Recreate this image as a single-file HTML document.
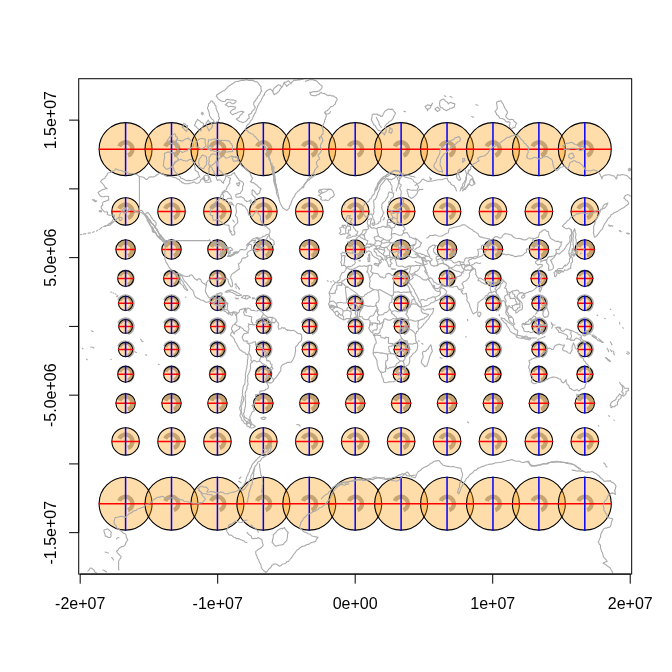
<!DOCTYPE html><html><head><meta charset="utf-8"><title>plot</title><style>html,body{margin:0;padding:0;background:#fff}svg{display:block}</style></head><body><svg width="672" height="672" viewBox="0 0 672 672"><rect width="672" height="672" fill="#fff"/><defs><clipPath id="c"><rect x="78.72" y="78.72" width="552.9599999999999" height="495.36"/></clipPath></defs><g clip-path="url(#c)"><path d="M119.26 500.98A6.88 6.88 0 1 1 127.94 510.12" fill="none" stroke="#aaaaaa" stroke-width="4.3"/><circle cx="125.59" cy="503.66" r="26.48" fill="rgba(255,153,0,0.3333)" stroke="#000" stroke-width="1.1"/><path d="M99.11 503.66H152.07" stroke="#f00" stroke-width="1.5" stroke-linecap="round"/><path d="M125.59 477.18V530.14" stroke="#00f" stroke-width="1.5" stroke-linecap="round"/><path d="M165.18 500.98A6.88 6.88 0 1 1 173.86 510.12" fill="none" stroke="#aaaaaa" stroke-width="4.3"/><circle cx="171.51" cy="503.66" r="26.48" fill="rgba(255,153,0,0.3333)" stroke="#000" stroke-width="1.1"/><path d="M145.03 503.66H197.99" stroke="#f00" stroke-width="1.5" stroke-linecap="round"/><path d="M171.51 477.18V530.14" stroke="#00f" stroke-width="1.5" stroke-linecap="round"/><path d="M211.10 500.98A6.88 6.88 0 1 1 219.78 510.12" fill="none" stroke="#aaaaaa" stroke-width="4.3"/><circle cx="217.43" cy="503.66" r="26.48" fill="rgba(255,153,0,0.3333)" stroke="#000" stroke-width="1.1"/><path d="M190.95 503.66H243.91" stroke="#f00" stroke-width="1.5" stroke-linecap="round"/><path d="M217.43 477.18V530.14" stroke="#00f" stroke-width="1.5" stroke-linecap="round"/><path d="M257.03 500.98A6.88 6.88 0 1 1 265.71 510.12" fill="none" stroke="#aaaaaa" stroke-width="4.3"/><circle cx="263.35" cy="503.66" r="26.48" fill="rgba(255,153,0,0.3333)" stroke="#000" stroke-width="1.1"/><path d="M236.87 503.66H289.84" stroke="#f00" stroke-width="1.5" stroke-linecap="round"/><path d="M263.35 477.18V530.14" stroke="#00f" stroke-width="1.5" stroke-linecap="round"/><path d="M302.95 500.98A6.88 6.88 0 1 1 311.63 510.12" fill="none" stroke="#aaaaaa" stroke-width="4.3"/><circle cx="309.28" cy="503.66" r="26.48" fill="rgba(255,153,0,0.3333)" stroke="#000" stroke-width="1.1"/><path d="M282.80 503.66H335.76" stroke="#f00" stroke-width="1.5" stroke-linecap="round"/><path d="M309.28 477.18V530.14" stroke="#00f" stroke-width="1.5" stroke-linecap="round"/><path d="M348.87 500.98A6.88 6.88 0 1 1 357.55 510.12" fill="none" stroke="#aaaaaa" stroke-width="4.3"/><circle cx="355.20" cy="503.66" r="26.48" fill="rgba(255,153,0,0.3333)" stroke="#000" stroke-width="1.1"/><path d="M328.72 503.66H381.68" stroke="#f00" stroke-width="1.5" stroke-linecap="round"/><path d="M355.20 477.18V530.14" stroke="#00f" stroke-width="1.5" stroke-linecap="round"/><path d="M394.79 500.98A6.88 6.88 0 1 1 403.47 510.12" fill="none" stroke="#aaaaaa" stroke-width="4.3"/><circle cx="401.12" cy="503.66" r="26.48" fill="rgba(255,153,0,0.3333)" stroke="#000" stroke-width="1.1"/><path d="M374.64 503.66H427.60" stroke="#f00" stroke-width="1.5" stroke-linecap="round"/><path d="M401.12 477.18V530.14" stroke="#00f" stroke-width="1.5" stroke-linecap="round"/><path d="M440.72 500.98A6.88 6.88 0 1 1 449.40 510.12" fill="none" stroke="#aaaaaa" stroke-width="4.3"/><circle cx="447.05" cy="503.66" r="26.48" fill="rgba(255,153,0,0.3333)" stroke="#000" stroke-width="1.1"/><path d="M420.56 503.66H473.53" stroke="#f00" stroke-width="1.5" stroke-linecap="round"/><path d="M447.05 477.18V530.14" stroke="#00f" stroke-width="1.5" stroke-linecap="round"/><path d="M486.64 500.98A6.88 6.88 0 1 1 495.32 510.12" fill="none" stroke="#aaaaaa" stroke-width="4.3"/><circle cx="492.97" cy="503.66" r="26.48" fill="rgba(255,153,0,0.3333)" stroke="#000" stroke-width="1.1"/><path d="M466.49 503.66H519.45" stroke="#f00" stroke-width="1.5" stroke-linecap="round"/><path d="M492.97 477.18V530.14" stroke="#00f" stroke-width="1.5" stroke-linecap="round"/><path d="M532.56 500.98A6.88 6.88 0 1 1 541.24 510.12" fill="none" stroke="#aaaaaa" stroke-width="4.3"/><circle cx="538.89" cy="503.66" r="26.48" fill="rgba(255,153,0,0.3333)" stroke="#000" stroke-width="1.1"/><path d="M512.41 503.66H565.37" stroke="#f00" stroke-width="1.5" stroke-linecap="round"/><path d="M538.89 477.18V530.14" stroke="#00f" stroke-width="1.5" stroke-linecap="round"/><path d="M578.48 500.98A6.88 6.88 0 1 1 587.16 510.12" fill="none" stroke="#aaaaaa" stroke-width="4.3"/><circle cx="584.81" cy="503.66" r="26.48" fill="rgba(255,153,0,0.3333)" stroke="#000" stroke-width="1.1"/><path d="M558.33 503.66H611.29" stroke="#f00" stroke-width="1.5" stroke-linecap="round"/><path d="M584.81 477.18V530.14" stroke="#00f" stroke-width="1.5" stroke-linecap="round"/><path d="M119.26 438.71A6.88 6.88 0 1 1 127.94 447.86" fill="none" stroke="#aaaaaa" stroke-width="4.3"/><circle cx="125.59" cy="441.40" r="13.72" fill="rgba(255,153,0,0.3333)" stroke="#000" stroke-width="1.1"/><path d="M111.87 441.40H139.30" stroke="#f00" stroke-width="1.5" stroke-linecap="round"/><path d="M125.59 427.68V455.11" stroke="#00f" stroke-width="1.5" stroke-linecap="round"/><path d="M165.18 438.71A6.88 6.88 0 1 1 173.86 447.86" fill="none" stroke="#aaaaaa" stroke-width="4.3"/><circle cx="171.51" cy="441.40" r="13.72" fill="rgba(255,153,0,0.3333)" stroke="#000" stroke-width="1.1"/><path d="M157.79 441.40H185.23" stroke="#f00" stroke-width="1.5" stroke-linecap="round"/><path d="M171.51 427.68V455.11" stroke="#00f" stroke-width="1.5" stroke-linecap="round"/><path d="M211.10 438.71A6.88 6.88 0 1 1 219.78 447.86" fill="none" stroke="#aaaaaa" stroke-width="4.3"/><circle cx="217.43" cy="441.40" r="13.72" fill="rgba(255,153,0,0.3333)" stroke="#000" stroke-width="1.1"/><path d="M203.72 441.40H231.15" stroke="#f00" stroke-width="1.5" stroke-linecap="round"/><path d="M217.43 427.68V455.11" stroke="#00f" stroke-width="1.5" stroke-linecap="round"/><path d="M257.03 438.71A6.88 6.88 0 1 1 265.71 447.86" fill="none" stroke="#aaaaaa" stroke-width="4.3"/><circle cx="263.35" cy="441.40" r="13.72" fill="rgba(255,153,0,0.3333)" stroke="#000" stroke-width="1.1"/><path d="M249.64 441.40H277.07" stroke="#f00" stroke-width="1.5" stroke-linecap="round"/><path d="M263.35 427.68V455.11" stroke="#00f" stroke-width="1.5" stroke-linecap="round"/><path d="M302.95 438.71A6.88 6.88 0 1 1 311.63 447.86" fill="none" stroke="#aaaaaa" stroke-width="4.3"/><circle cx="309.28" cy="441.40" r="13.72" fill="rgba(255,153,0,0.3333)" stroke="#000" stroke-width="1.1"/><path d="M295.56 441.40H322.99" stroke="#f00" stroke-width="1.5" stroke-linecap="round"/><path d="M309.28 427.68V455.11" stroke="#00f" stroke-width="1.5" stroke-linecap="round"/><path d="M348.87 438.71A6.88 6.88 0 1 1 357.55 447.86" fill="none" stroke="#aaaaaa" stroke-width="4.3"/><circle cx="355.20" cy="441.40" r="13.72" fill="rgba(255,153,0,0.3333)" stroke="#000" stroke-width="1.1"/><path d="M341.48 441.40H368.92" stroke="#f00" stroke-width="1.5" stroke-linecap="round"/><path d="M355.20 427.68V455.11" stroke="#00f" stroke-width="1.5" stroke-linecap="round"/><path d="M394.79 438.71A6.88 6.88 0 1 1 403.47 447.86" fill="none" stroke="#aaaaaa" stroke-width="4.3"/><circle cx="401.12" cy="441.40" r="13.72" fill="rgba(255,153,0,0.3333)" stroke="#000" stroke-width="1.1"/><path d="M387.41 441.40H414.84" stroke="#f00" stroke-width="1.5" stroke-linecap="round"/><path d="M401.12 427.68V455.11" stroke="#00f" stroke-width="1.5" stroke-linecap="round"/><path d="M440.72 438.71A6.88 6.88 0 1 1 449.40 447.86" fill="none" stroke="#aaaaaa" stroke-width="4.3"/><circle cx="447.05" cy="441.40" r="13.72" fill="rgba(255,153,0,0.3333)" stroke="#000" stroke-width="1.1"/><path d="M433.33 441.40H460.76" stroke="#f00" stroke-width="1.5" stroke-linecap="round"/><path d="M447.05 427.68V455.11" stroke="#00f" stroke-width="1.5" stroke-linecap="round"/><path d="M486.64 438.71A6.88 6.88 0 1 1 495.32 447.86" fill="none" stroke="#aaaaaa" stroke-width="4.3"/><circle cx="492.97" cy="441.40" r="13.72" fill="rgba(255,153,0,0.3333)" stroke="#000" stroke-width="1.1"/><path d="M479.25 441.40H506.68" stroke="#f00" stroke-width="1.5" stroke-linecap="round"/><path d="M492.97 427.68V455.11" stroke="#00f" stroke-width="1.5" stroke-linecap="round"/><path d="M532.56 438.71A6.88 6.88 0 1 1 541.24 447.86" fill="none" stroke="#aaaaaa" stroke-width="4.3"/><circle cx="538.89" cy="441.40" r="13.72" fill="rgba(255,153,0,0.3333)" stroke="#000" stroke-width="1.1"/><path d="M525.17 441.40H552.61" stroke="#f00" stroke-width="1.5" stroke-linecap="round"/><path d="M538.89 427.68V455.11" stroke="#00f" stroke-width="1.5" stroke-linecap="round"/><path d="M578.48 438.71A6.88 6.88 0 1 1 587.16 447.86" fill="none" stroke="#aaaaaa" stroke-width="4.3"/><circle cx="584.81" cy="441.40" r="13.72" fill="rgba(255,153,0,0.3333)" stroke="#000" stroke-width="1.1"/><path d="M571.10 441.40H598.53" stroke="#f00" stroke-width="1.5" stroke-linecap="round"/><path d="M584.81 427.68V455.11" stroke="#00f" stroke-width="1.5" stroke-linecap="round"/><path d="M119.26 400.60A6.88 6.88 0 1 1 127.94 409.75" fill="none" stroke="#aaaaaa" stroke-width="4.3"/><circle cx="125.59" cy="403.29" r="9.71" fill="rgba(255,153,0,0.3333)" stroke="#000" stroke-width="1.1"/><path d="M115.88 403.29H135.29" stroke="#f00" stroke-width="1.5" stroke-linecap="round"/><path d="M125.59 393.58V412.99" stroke="#00f" stroke-width="1.5" stroke-linecap="round"/><path d="M165.18 400.60A6.88 6.88 0 1 1 173.86 409.75" fill="none" stroke="#aaaaaa" stroke-width="4.3"/><circle cx="171.51" cy="403.29" r="9.71" fill="rgba(255,153,0,0.3333)" stroke="#000" stroke-width="1.1"/><path d="M161.80 403.29H181.22" stroke="#f00" stroke-width="1.5" stroke-linecap="round"/><path d="M171.51 393.58V412.99" stroke="#00f" stroke-width="1.5" stroke-linecap="round"/><path d="M211.10 400.60A6.88 6.88 0 1 1 219.78 409.75" fill="none" stroke="#aaaaaa" stroke-width="4.3"/><circle cx="217.43" cy="403.29" r="9.71" fill="rgba(255,153,0,0.3333)" stroke="#000" stroke-width="1.1"/><path d="M207.72 403.29H227.14" stroke="#f00" stroke-width="1.5" stroke-linecap="round"/><path d="M217.43 393.58V412.99" stroke="#00f" stroke-width="1.5" stroke-linecap="round"/><path d="M257.03 400.60A6.88 6.88 0 1 1 265.71 409.75" fill="none" stroke="#aaaaaa" stroke-width="4.3"/><circle cx="263.35" cy="403.29" r="9.71" fill="rgba(255,153,0,0.3333)" stroke="#000" stroke-width="1.1"/><path d="M253.65 403.29H273.06" stroke="#f00" stroke-width="1.5" stroke-linecap="round"/><path d="M263.35 393.58V412.99" stroke="#00f" stroke-width="1.5" stroke-linecap="round"/><path d="M302.95 400.60A6.88 6.88 0 1 1 311.63 409.75" fill="none" stroke="#aaaaaa" stroke-width="4.3"/><circle cx="309.28" cy="403.29" r="9.71" fill="rgba(255,153,0,0.3333)" stroke="#000" stroke-width="1.1"/><path d="M299.57 403.29H318.98" stroke="#f00" stroke-width="1.5" stroke-linecap="round"/><path d="M309.28 393.58V412.99" stroke="#00f" stroke-width="1.5" stroke-linecap="round"/><path d="M348.87 400.60A6.88 6.88 0 1 1 357.55 409.75" fill="none" stroke="#aaaaaa" stroke-width="4.3"/><circle cx="355.20" cy="403.29" r="9.71" fill="rgba(255,153,0,0.3333)" stroke="#000" stroke-width="1.1"/><path d="M345.49 403.29H364.91" stroke="#f00" stroke-width="1.5" stroke-linecap="round"/><path d="M355.20 393.58V412.99" stroke="#00f" stroke-width="1.5" stroke-linecap="round"/><path d="M394.79 400.60A6.88 6.88 0 1 1 403.47 409.75" fill="none" stroke="#aaaaaa" stroke-width="4.3"/><circle cx="401.12" cy="403.29" r="9.71" fill="rgba(255,153,0,0.3333)" stroke="#000" stroke-width="1.1"/><path d="M391.42 403.29H410.83" stroke="#f00" stroke-width="1.5" stroke-linecap="round"/><path d="M401.12 393.58V412.99" stroke="#00f" stroke-width="1.5" stroke-linecap="round"/><path d="M440.72 400.60A6.88 6.88 0 1 1 449.40 409.75" fill="none" stroke="#aaaaaa" stroke-width="4.3"/><circle cx="447.05" cy="403.29" r="9.71" fill="rgba(255,153,0,0.3333)" stroke="#000" stroke-width="1.1"/><path d="M437.34 403.29H456.75" stroke="#f00" stroke-width="1.5" stroke-linecap="round"/><path d="M447.05 393.58V412.99" stroke="#00f" stroke-width="1.5" stroke-linecap="round"/><path d="M486.64 400.60A6.88 6.88 0 1 1 495.32 409.75" fill="none" stroke="#aaaaaa" stroke-width="4.3"/><circle cx="492.97" cy="403.29" r="9.71" fill="rgba(255,153,0,0.3333)" stroke="#000" stroke-width="1.1"/><path d="M483.26 403.29H502.68" stroke="#f00" stroke-width="1.5" stroke-linecap="round"/><path d="M492.97 393.58V412.99" stroke="#00f" stroke-width="1.5" stroke-linecap="round"/><path d="M532.56 400.60A6.88 6.88 0 1 1 541.24 409.75" fill="none" stroke="#aaaaaa" stroke-width="4.3"/><circle cx="538.89" cy="403.29" r="9.71" fill="rgba(255,153,0,0.3333)" stroke="#000" stroke-width="1.1"/><path d="M529.18 403.29H548.60" stroke="#f00" stroke-width="1.5" stroke-linecap="round"/><path d="M538.89 393.58V412.99" stroke="#00f" stroke-width="1.5" stroke-linecap="round"/><path d="M578.48 400.60A6.88 6.88 0 1 1 587.16 409.75" fill="none" stroke="#aaaaaa" stroke-width="4.3"/><circle cx="584.81" cy="403.29" r="9.71" fill="rgba(255,153,0,0.3333)" stroke="#000" stroke-width="1.1"/><path d="M575.11 403.29H594.52" stroke="#f00" stroke-width="1.5" stroke-linecap="round"/><path d="M584.81 393.58V412.99" stroke="#00f" stroke-width="1.5" stroke-linecap="round"/><path d="M119.26 371.60A6.88 6.88 0 1 1 127.94 380.74" fill="none" stroke="#aaaaaa" stroke-width="4.3"/><circle cx="125.59" cy="374.28" r="7.93" fill="rgba(255,153,0,0.3333)" stroke="#000" stroke-width="1.1"/><path d="M117.65 374.28H133.52" stroke="#f00" stroke-width="1.5" stroke-linecap="round"/><path d="M125.59 366.35V382.22" stroke="#00f" stroke-width="1.5" stroke-linecap="round"/><path d="M165.18 371.60A6.88 6.88 0 1 1 173.86 380.74" fill="none" stroke="#aaaaaa" stroke-width="4.3"/><circle cx="171.51" cy="374.28" r="7.93" fill="rgba(255,153,0,0.3333)" stroke="#000" stroke-width="1.1"/><path d="M163.58 374.28H179.44" stroke="#f00" stroke-width="1.5" stroke-linecap="round"/><path d="M171.51 366.35V382.22" stroke="#00f" stroke-width="1.5" stroke-linecap="round"/><path d="M211.10 371.60A6.88 6.88 0 1 1 219.78 380.74" fill="none" stroke="#aaaaaa" stroke-width="4.3"/><circle cx="217.43" cy="374.28" r="7.93" fill="rgba(255,153,0,0.3333)" stroke="#000" stroke-width="1.1"/><path d="M209.50 374.28H225.36" stroke="#f00" stroke-width="1.5" stroke-linecap="round"/><path d="M217.43 366.35V382.22" stroke="#00f" stroke-width="1.5" stroke-linecap="round"/><path d="M257.03 371.60A6.88 6.88 0 1 1 265.71 380.74" fill="none" stroke="#aaaaaa" stroke-width="4.3"/><circle cx="263.35" cy="374.28" r="7.93" fill="rgba(255,153,0,0.3333)" stroke="#000" stroke-width="1.1"/><path d="M255.42 374.28H271.29" stroke="#f00" stroke-width="1.5" stroke-linecap="round"/><path d="M263.35 366.35V382.22" stroke="#00f" stroke-width="1.5" stroke-linecap="round"/><path d="M302.95 371.60A6.88 6.88 0 1 1 311.63 380.74" fill="none" stroke="#aaaaaa" stroke-width="4.3"/><circle cx="309.28" cy="374.28" r="7.93" fill="rgba(255,153,0,0.3333)" stroke="#000" stroke-width="1.1"/><path d="M301.34 374.28H317.21" stroke="#f00" stroke-width="1.5" stroke-linecap="round"/><path d="M309.28 366.35V382.22" stroke="#00f" stroke-width="1.5" stroke-linecap="round"/><path d="M348.87 371.60A6.88 6.88 0 1 1 357.55 380.74" fill="none" stroke="#aaaaaa" stroke-width="4.3"/><circle cx="355.20" cy="374.28" r="7.93" fill="rgba(255,153,0,0.3333)" stroke="#000" stroke-width="1.1"/><path d="M347.27 374.28H363.13" stroke="#f00" stroke-width="1.5" stroke-linecap="round"/><path d="M355.20 366.35V382.22" stroke="#00f" stroke-width="1.5" stroke-linecap="round"/><path d="M394.79 371.60A6.88 6.88 0 1 1 403.47 380.74" fill="none" stroke="#aaaaaa" stroke-width="4.3"/><circle cx="401.12" cy="374.28" r="7.93" fill="rgba(255,153,0,0.3333)" stroke="#000" stroke-width="1.1"/><path d="M393.19 374.28H409.06" stroke="#f00" stroke-width="1.5" stroke-linecap="round"/><path d="M401.12 366.35V382.22" stroke="#00f" stroke-width="1.5" stroke-linecap="round"/><path d="M440.72 371.60A6.88 6.88 0 1 1 449.40 380.74" fill="none" stroke="#aaaaaa" stroke-width="4.3"/><circle cx="447.05" cy="374.28" r="7.93" fill="rgba(255,153,0,0.3333)" stroke="#000" stroke-width="1.1"/><path d="M439.11 374.28H454.98" stroke="#f00" stroke-width="1.5" stroke-linecap="round"/><path d="M447.05 366.35V382.22" stroke="#00f" stroke-width="1.5" stroke-linecap="round"/><path d="M486.64 371.60A6.88 6.88 0 1 1 495.32 380.74" fill="none" stroke="#aaaaaa" stroke-width="4.3"/><circle cx="492.97" cy="374.28" r="7.93" fill="rgba(255,153,0,0.3333)" stroke="#000" stroke-width="1.1"/><path d="M485.04 374.28H500.90" stroke="#f00" stroke-width="1.5" stroke-linecap="round"/><path d="M492.97 366.35V382.22" stroke="#00f" stroke-width="1.5" stroke-linecap="round"/><path d="M532.56 371.60A6.88 6.88 0 1 1 541.24 380.74" fill="none" stroke="#aaaaaa" stroke-width="4.3"/><circle cx="538.89" cy="374.28" r="7.93" fill="rgba(255,153,0,0.3333)" stroke="#000" stroke-width="1.1"/><path d="M530.96 374.28H546.82" stroke="#f00" stroke-width="1.5" stroke-linecap="round"/><path d="M538.89 366.35V382.22" stroke="#00f" stroke-width="1.5" stroke-linecap="round"/><path d="M578.48 371.60A6.88 6.88 0 1 1 587.16 380.74" fill="none" stroke="#aaaaaa" stroke-width="4.3"/><circle cx="584.81" cy="374.28" r="7.93" fill="rgba(255,153,0,0.3333)" stroke="#000" stroke-width="1.1"/><path d="M576.88 374.28H592.75" stroke="#f00" stroke-width="1.5" stroke-linecap="round"/><path d="M584.81 366.35V382.22" stroke="#00f" stroke-width="1.5" stroke-linecap="round"/><path d="M119.26 346.79A6.88 6.88 0 1 1 127.94 355.94" fill="none" stroke="#aaaaaa" stroke-width="4.3"/><circle cx="125.59" cy="349.48" r="7.12" fill="rgba(255,153,0,0.3333)" stroke="#000" stroke-width="1.1"/><path d="M118.47 349.48H132.70" stroke="#f00" stroke-width="1.5" stroke-linecap="round"/><path d="M125.59 342.36V356.59" stroke="#00f" stroke-width="1.5" stroke-linecap="round"/><path d="M165.18 346.79A6.88 6.88 0 1 1 173.86 355.94" fill="none" stroke="#aaaaaa" stroke-width="4.3"/><circle cx="171.51" cy="349.48" r="7.12" fill="rgba(255,153,0,0.3333)" stroke="#000" stroke-width="1.1"/><path d="M164.39 349.48H178.63" stroke="#f00" stroke-width="1.5" stroke-linecap="round"/><path d="M171.51 342.36V356.59" stroke="#00f" stroke-width="1.5" stroke-linecap="round"/><path d="M211.10 346.79A6.88 6.88 0 1 1 219.78 355.94" fill="none" stroke="#aaaaaa" stroke-width="4.3"/><circle cx="217.43" cy="349.48" r="7.12" fill="rgba(255,153,0,0.3333)" stroke="#000" stroke-width="1.1"/><path d="M210.32 349.48H224.55" stroke="#f00" stroke-width="1.5" stroke-linecap="round"/><path d="M217.43 342.36V356.59" stroke="#00f" stroke-width="1.5" stroke-linecap="round"/><path d="M257.03 346.79A6.88 6.88 0 1 1 265.71 355.94" fill="none" stroke="#aaaaaa" stroke-width="4.3"/><circle cx="263.35" cy="349.48" r="7.12" fill="rgba(255,153,0,0.3333)" stroke="#000" stroke-width="1.1"/><path d="M256.24 349.48H270.47" stroke="#f00" stroke-width="1.5" stroke-linecap="round"/><path d="M263.35 342.36V356.59" stroke="#00f" stroke-width="1.5" stroke-linecap="round"/><path d="M302.95 346.79A6.88 6.88 0 1 1 311.63 355.94" fill="none" stroke="#aaaaaa" stroke-width="4.3"/><circle cx="309.28" cy="349.48" r="7.12" fill="rgba(255,153,0,0.3333)" stroke="#000" stroke-width="1.1"/><path d="M302.16 349.48H316.39" stroke="#f00" stroke-width="1.5" stroke-linecap="round"/><path d="M309.28 342.36V356.59" stroke="#00f" stroke-width="1.5" stroke-linecap="round"/><path d="M348.87 346.79A6.88 6.88 0 1 1 357.55 355.94" fill="none" stroke="#aaaaaa" stroke-width="4.3"/><circle cx="355.20" cy="349.48" r="7.12" fill="rgba(255,153,0,0.3333)" stroke="#000" stroke-width="1.1"/><path d="M348.08 349.48H362.32" stroke="#f00" stroke-width="1.5" stroke-linecap="round"/><path d="M355.20 342.36V356.59" stroke="#00f" stroke-width="1.5" stroke-linecap="round"/><path d="M394.79 346.79A6.88 6.88 0 1 1 403.47 355.94" fill="none" stroke="#aaaaaa" stroke-width="4.3"/><circle cx="401.12" cy="349.48" r="7.12" fill="rgba(255,153,0,0.3333)" stroke="#000" stroke-width="1.1"/><path d="M394.01 349.48H408.24" stroke="#f00" stroke-width="1.5" stroke-linecap="round"/><path d="M401.12 342.36V356.59" stroke="#00f" stroke-width="1.5" stroke-linecap="round"/><path d="M440.72 346.79A6.88 6.88 0 1 1 449.40 355.94" fill="none" stroke="#aaaaaa" stroke-width="4.3"/><circle cx="447.05" cy="349.48" r="7.12" fill="rgba(255,153,0,0.3333)" stroke="#000" stroke-width="1.1"/><path d="M439.93 349.48H454.16" stroke="#f00" stroke-width="1.5" stroke-linecap="round"/><path d="M447.05 342.36V356.59" stroke="#00f" stroke-width="1.5" stroke-linecap="round"/><path d="M486.64 346.79A6.88 6.88 0 1 1 495.32 355.94" fill="none" stroke="#aaaaaa" stroke-width="4.3"/><circle cx="492.97" cy="349.48" r="7.12" fill="rgba(255,153,0,0.3333)" stroke="#000" stroke-width="1.1"/><path d="M485.85 349.48H500.08" stroke="#f00" stroke-width="1.5" stroke-linecap="round"/><path d="M492.97 342.36V356.59" stroke="#00f" stroke-width="1.5" stroke-linecap="round"/><path d="M532.56 346.79A6.88 6.88 0 1 1 541.24 355.94" fill="none" stroke="#aaaaaa" stroke-width="4.3"/><circle cx="538.89" cy="349.48" r="7.12" fill="rgba(255,153,0,0.3333)" stroke="#000" stroke-width="1.1"/><path d="M531.77 349.48H546.01" stroke="#f00" stroke-width="1.5" stroke-linecap="round"/><path d="M538.89 342.36V356.59" stroke="#00f" stroke-width="1.5" stroke-linecap="round"/><path d="M578.48 346.79A6.88 6.88 0 1 1 587.16 355.94" fill="none" stroke="#aaaaaa" stroke-width="4.3"/><circle cx="584.81" cy="349.48" r="7.12" fill="rgba(255,153,0,0.3333)" stroke="#000" stroke-width="1.1"/><path d="M577.70 349.48H591.93" stroke="#f00" stroke-width="1.5" stroke-linecap="round"/><path d="M584.81 342.36V356.59" stroke="#00f" stroke-width="1.5" stroke-linecap="round"/><path d="M119.26 323.71A6.88 6.88 0 1 1 127.94 332.86" fill="none" stroke="#aaaaaa" stroke-width="4.3"/><circle cx="125.59" cy="326.40" r="6.88" fill="rgba(255,153,0,0.3333)" stroke="#000" stroke-width="1.1"/><path d="M118.71 326.40H132.46" stroke="#f00" stroke-width="1.5" stroke-linecap="round"/><path d="M125.59 319.52V333.28" stroke="#00f" stroke-width="1.5" stroke-linecap="round"/><path d="M165.18 323.71A6.88 6.88 0 1 1 173.86 332.86" fill="none" stroke="#aaaaaa" stroke-width="4.3"/><circle cx="171.51" cy="326.40" r="6.88" fill="rgba(255,153,0,0.3333)" stroke="#000" stroke-width="1.1"/><path d="M164.63 326.40H178.38" stroke="#f00" stroke-width="1.5" stroke-linecap="round"/><path d="M171.51 319.52V333.28" stroke="#00f" stroke-width="1.5" stroke-linecap="round"/><path d="M211.10 323.71A6.88 6.88 0 1 1 219.78 332.86" fill="none" stroke="#aaaaaa" stroke-width="4.3"/><circle cx="217.43" cy="326.40" r="6.88" fill="rgba(255,153,0,0.3333)" stroke="#000" stroke-width="1.1"/><path d="M210.56 326.40H224.31" stroke="#f00" stroke-width="1.5" stroke-linecap="round"/><path d="M217.43 319.52V333.28" stroke="#00f" stroke-width="1.5" stroke-linecap="round"/><path d="M257.03 323.71A6.88 6.88 0 1 1 265.71 332.86" fill="none" stroke="#aaaaaa" stroke-width="4.3"/><circle cx="263.35" cy="326.40" r="6.88" fill="rgba(255,153,0,0.3333)" stroke="#000" stroke-width="1.1"/><path d="M256.48 326.40H270.23" stroke="#f00" stroke-width="1.5" stroke-linecap="round"/><path d="M263.35 319.52V333.28" stroke="#00f" stroke-width="1.5" stroke-linecap="round"/><path d="M302.95 323.71A6.88 6.88 0 1 1 311.63 332.86" fill="none" stroke="#aaaaaa" stroke-width="4.3"/><circle cx="309.28" cy="326.40" r="6.88" fill="rgba(255,153,0,0.3333)" stroke="#000" stroke-width="1.1"/><path d="M302.40 326.40H316.15" stroke="#f00" stroke-width="1.5" stroke-linecap="round"/><path d="M309.28 319.52V333.28" stroke="#00f" stroke-width="1.5" stroke-linecap="round"/><path d="M348.87 323.71A6.88 6.88 0 1 1 357.55 332.86" fill="none" stroke="#aaaaaa" stroke-width="4.3"/><circle cx="355.20" cy="326.40" r="6.88" fill="rgba(255,153,0,0.3333)" stroke="#000" stroke-width="1.1"/><path d="M348.32 326.40H362.08" stroke="#f00" stroke-width="1.5" stroke-linecap="round"/><path d="M355.20 319.52V333.28" stroke="#00f" stroke-width="1.5" stroke-linecap="round"/><path d="M394.79 323.71A6.88 6.88 0 1 1 403.47 332.86" fill="none" stroke="#aaaaaa" stroke-width="4.3"/><circle cx="401.12" cy="326.40" r="6.88" fill="rgba(255,153,0,0.3333)" stroke="#000" stroke-width="1.1"/><path d="M394.25 326.40H408.00" stroke="#f00" stroke-width="1.5" stroke-linecap="round"/><path d="M401.12 319.52V333.28" stroke="#00f" stroke-width="1.5" stroke-linecap="round"/><path d="M440.72 323.71A6.88 6.88 0 1 1 449.40 332.86" fill="none" stroke="#aaaaaa" stroke-width="4.3"/><circle cx="447.05" cy="326.40" r="6.88" fill="rgba(255,153,0,0.3333)" stroke="#000" stroke-width="1.1"/><path d="M440.17 326.40H453.92" stroke="#f00" stroke-width="1.5" stroke-linecap="round"/><path d="M447.05 319.52V333.28" stroke="#00f" stroke-width="1.5" stroke-linecap="round"/><path d="M486.64 323.71A6.88 6.88 0 1 1 495.32 332.86" fill="none" stroke="#aaaaaa" stroke-width="4.3"/><circle cx="492.97" cy="326.40" r="6.88" fill="rgba(255,153,0,0.3333)" stroke="#000" stroke-width="1.1"/><path d="M486.09 326.40H499.84" stroke="#f00" stroke-width="1.5" stroke-linecap="round"/><path d="M492.97 319.52V333.28" stroke="#00f" stroke-width="1.5" stroke-linecap="round"/><path d="M532.56 323.71A6.88 6.88 0 1 1 541.24 332.86" fill="none" stroke="#aaaaaa" stroke-width="4.3"/><circle cx="538.89" cy="326.40" r="6.88" fill="rgba(255,153,0,0.3333)" stroke="#000" stroke-width="1.1"/><path d="M532.02 326.40H545.77" stroke="#f00" stroke-width="1.5" stroke-linecap="round"/><path d="M538.89 319.52V333.28" stroke="#00f" stroke-width="1.5" stroke-linecap="round"/><path d="M578.48 323.71A6.88 6.88 0 1 1 587.16 332.86" fill="none" stroke="#aaaaaa" stroke-width="4.3"/><circle cx="584.81" cy="326.40" r="6.88" fill="rgba(255,153,0,0.3333)" stroke="#000" stroke-width="1.1"/><path d="M577.94 326.40H591.69" stroke="#f00" stroke-width="1.5" stroke-linecap="round"/><path d="M584.81 319.52V333.28" stroke="#00f" stroke-width="1.5" stroke-linecap="round"/><path d="M119.26 300.64A6.88 6.88 0 1 1 127.94 309.78" fill="none" stroke="#aaaaaa" stroke-width="4.3"/><circle cx="125.59" cy="303.32" r="7.12" fill="rgba(255,153,0,0.3333)" stroke="#000" stroke-width="1.1"/><path d="M118.47 303.32H132.70" stroke="#f00" stroke-width="1.5" stroke-linecap="round"/><path d="M125.59 296.21V310.44" stroke="#00f" stroke-width="1.5" stroke-linecap="round"/><path d="M165.18 300.64A6.88 6.88 0 1 1 173.86 309.78" fill="none" stroke="#aaaaaa" stroke-width="4.3"/><circle cx="171.51" cy="303.32" r="7.12" fill="rgba(255,153,0,0.3333)" stroke="#000" stroke-width="1.1"/><path d="M164.39 303.32H178.63" stroke="#f00" stroke-width="1.5" stroke-linecap="round"/><path d="M171.51 296.21V310.44" stroke="#00f" stroke-width="1.5" stroke-linecap="round"/><path d="M211.10 300.64A6.88 6.88 0 1 1 219.78 309.78" fill="none" stroke="#aaaaaa" stroke-width="4.3"/><circle cx="217.43" cy="303.32" r="7.12" fill="rgba(255,153,0,0.3333)" stroke="#000" stroke-width="1.1"/><path d="M210.32 303.32H224.55" stroke="#f00" stroke-width="1.5" stroke-linecap="round"/><path d="M217.43 296.21V310.44" stroke="#00f" stroke-width="1.5" stroke-linecap="round"/><path d="M257.03 300.64A6.88 6.88 0 1 1 265.71 309.78" fill="none" stroke="#aaaaaa" stroke-width="4.3"/><circle cx="263.35" cy="303.32" r="7.12" fill="rgba(255,153,0,0.3333)" stroke="#000" stroke-width="1.1"/><path d="M256.24 303.32H270.47" stroke="#f00" stroke-width="1.5" stroke-linecap="round"/><path d="M263.35 296.21V310.44" stroke="#00f" stroke-width="1.5" stroke-linecap="round"/><path d="M302.95 300.64A6.88 6.88 0 1 1 311.63 309.78" fill="none" stroke="#aaaaaa" stroke-width="4.3"/><circle cx="309.28" cy="303.32" r="7.12" fill="rgba(255,153,0,0.3333)" stroke="#000" stroke-width="1.1"/><path d="M302.16 303.32H316.39" stroke="#f00" stroke-width="1.5" stroke-linecap="round"/><path d="M309.28 296.21V310.44" stroke="#00f" stroke-width="1.5" stroke-linecap="round"/><path d="M348.87 300.64A6.88 6.88 0 1 1 357.55 309.78" fill="none" stroke="#aaaaaa" stroke-width="4.3"/><circle cx="355.20" cy="303.32" r="7.12" fill="rgba(255,153,0,0.3333)" stroke="#000" stroke-width="1.1"/><path d="M348.08 303.32H362.32" stroke="#f00" stroke-width="1.5" stroke-linecap="round"/><path d="M355.20 296.21V310.44" stroke="#00f" stroke-width="1.5" stroke-linecap="round"/><path d="M394.79 300.64A6.88 6.88 0 1 1 403.47 309.78" fill="none" stroke="#aaaaaa" stroke-width="4.3"/><circle cx="401.12" cy="303.32" r="7.12" fill="rgba(255,153,0,0.3333)" stroke="#000" stroke-width="1.1"/><path d="M394.01 303.32H408.24" stroke="#f00" stroke-width="1.5" stroke-linecap="round"/><path d="M401.12 296.21V310.44" stroke="#00f" stroke-width="1.5" stroke-linecap="round"/><path d="M440.72 300.64A6.88 6.88 0 1 1 449.40 309.78" fill="none" stroke="#aaaaaa" stroke-width="4.3"/><circle cx="447.05" cy="303.32" r="7.12" fill="rgba(255,153,0,0.3333)" stroke="#000" stroke-width="1.1"/><path d="M439.93 303.32H454.16" stroke="#f00" stroke-width="1.5" stroke-linecap="round"/><path d="M447.05 296.21V310.44" stroke="#00f" stroke-width="1.5" stroke-linecap="round"/><path d="M486.64 300.64A6.88 6.88 0 1 1 495.32 309.78" fill="none" stroke="#aaaaaa" stroke-width="4.3"/><circle cx="492.97" cy="303.32" r="7.12" fill="rgba(255,153,0,0.3333)" stroke="#000" stroke-width="1.1"/><path d="M485.85 303.32H500.08" stroke="#f00" stroke-width="1.5" stroke-linecap="round"/><path d="M492.97 296.21V310.44" stroke="#00f" stroke-width="1.5" stroke-linecap="round"/><path d="M532.56 300.64A6.88 6.88 0 1 1 541.24 309.78" fill="none" stroke="#aaaaaa" stroke-width="4.3"/><circle cx="538.89" cy="303.32" r="7.12" fill="rgba(255,153,0,0.3333)" stroke="#000" stroke-width="1.1"/><path d="M531.77 303.32H546.01" stroke="#f00" stroke-width="1.5" stroke-linecap="round"/><path d="M538.89 296.21V310.44" stroke="#00f" stroke-width="1.5" stroke-linecap="round"/><path d="M578.48 300.64A6.88 6.88 0 1 1 587.16 309.78" fill="none" stroke="#aaaaaa" stroke-width="4.3"/><circle cx="584.81" cy="303.32" r="7.12" fill="rgba(255,153,0,0.3333)" stroke="#000" stroke-width="1.1"/><path d="M577.70 303.32H591.93" stroke="#f00" stroke-width="1.5" stroke-linecap="round"/><path d="M584.81 296.21V310.44" stroke="#00f" stroke-width="1.5" stroke-linecap="round"/><path d="M119.26 275.83A6.88 6.88 0 1 1 127.94 284.98" fill="none" stroke="#aaaaaa" stroke-width="4.3"/><circle cx="125.59" cy="278.52" r="7.93" fill="rgba(255,153,0,0.3333)" stroke="#000" stroke-width="1.1"/><path d="M117.65 278.52H133.52" stroke="#f00" stroke-width="1.5" stroke-linecap="round"/><path d="M125.59 270.58V286.45" stroke="#00f" stroke-width="1.5" stroke-linecap="round"/><path d="M165.18 275.83A6.88 6.88 0 1 1 173.86 284.98" fill="none" stroke="#aaaaaa" stroke-width="4.3"/><circle cx="171.51" cy="278.52" r="7.93" fill="rgba(255,153,0,0.3333)" stroke="#000" stroke-width="1.1"/><path d="M163.58 278.52H179.44" stroke="#f00" stroke-width="1.5" stroke-linecap="round"/><path d="M171.51 270.58V286.45" stroke="#00f" stroke-width="1.5" stroke-linecap="round"/><path d="M211.10 275.83A6.88 6.88 0 1 1 219.78 284.98" fill="none" stroke="#aaaaaa" stroke-width="4.3"/><circle cx="217.43" cy="278.52" r="7.93" fill="rgba(255,153,0,0.3333)" stroke="#000" stroke-width="1.1"/><path d="M209.50 278.52H225.36" stroke="#f00" stroke-width="1.5" stroke-linecap="round"/><path d="M217.43 270.58V286.45" stroke="#00f" stroke-width="1.5" stroke-linecap="round"/><path d="M257.03 275.83A6.88 6.88 0 1 1 265.71 284.98" fill="none" stroke="#aaaaaa" stroke-width="4.3"/><circle cx="263.35" cy="278.52" r="7.93" fill="rgba(255,153,0,0.3333)" stroke="#000" stroke-width="1.1"/><path d="M255.42 278.52H271.29" stroke="#f00" stroke-width="1.5" stroke-linecap="round"/><path d="M263.35 270.58V286.45" stroke="#00f" stroke-width="1.5" stroke-linecap="round"/><path d="M302.95 275.83A6.88 6.88 0 1 1 311.63 284.98" fill="none" stroke="#aaaaaa" stroke-width="4.3"/><circle cx="309.28" cy="278.52" r="7.93" fill="rgba(255,153,0,0.3333)" stroke="#000" stroke-width="1.1"/><path d="M301.34 278.52H317.21" stroke="#f00" stroke-width="1.5" stroke-linecap="round"/><path d="M309.28 270.58V286.45" stroke="#00f" stroke-width="1.5" stroke-linecap="round"/><path d="M348.87 275.83A6.88 6.88 0 1 1 357.55 284.98" fill="none" stroke="#aaaaaa" stroke-width="4.3"/><circle cx="355.20" cy="278.52" r="7.93" fill="rgba(255,153,0,0.3333)" stroke="#000" stroke-width="1.1"/><path d="M347.27 278.52H363.13" stroke="#f00" stroke-width="1.5" stroke-linecap="round"/><path d="M355.20 270.58V286.45" stroke="#00f" stroke-width="1.5" stroke-linecap="round"/><path d="M394.79 275.83A6.88 6.88 0 1 1 403.47 284.98" fill="none" stroke="#aaaaaa" stroke-width="4.3"/><circle cx="401.12" cy="278.52" r="7.93" fill="rgba(255,153,0,0.3333)" stroke="#000" stroke-width="1.1"/><path d="M393.19 278.52H409.06" stroke="#f00" stroke-width="1.5" stroke-linecap="round"/><path d="M401.12 270.58V286.45" stroke="#00f" stroke-width="1.5" stroke-linecap="round"/><path d="M440.72 275.83A6.88 6.88 0 1 1 449.40 284.98" fill="none" stroke="#aaaaaa" stroke-width="4.3"/><circle cx="447.05" cy="278.52" r="7.93" fill="rgba(255,153,0,0.3333)" stroke="#000" stroke-width="1.1"/><path d="M439.11 278.52H454.98" stroke="#f00" stroke-width="1.5" stroke-linecap="round"/><path d="M447.05 270.58V286.45" stroke="#00f" stroke-width="1.5" stroke-linecap="round"/><path d="M486.64 275.83A6.88 6.88 0 1 1 495.32 284.98" fill="none" stroke="#aaaaaa" stroke-width="4.3"/><circle cx="492.97" cy="278.52" r="7.93" fill="rgba(255,153,0,0.3333)" stroke="#000" stroke-width="1.1"/><path d="M485.04 278.52H500.90" stroke="#f00" stroke-width="1.5" stroke-linecap="round"/><path d="M492.97 270.58V286.45" stroke="#00f" stroke-width="1.5" stroke-linecap="round"/><path d="M532.56 275.83A6.88 6.88 0 1 1 541.24 284.98" fill="none" stroke="#aaaaaa" stroke-width="4.3"/><circle cx="538.89" cy="278.52" r="7.93" fill="rgba(255,153,0,0.3333)" stroke="#000" stroke-width="1.1"/><path d="M530.96 278.52H546.82" stroke="#f00" stroke-width="1.5" stroke-linecap="round"/><path d="M538.89 270.58V286.45" stroke="#00f" stroke-width="1.5" stroke-linecap="round"/><path d="M578.48 275.83A6.88 6.88 0 1 1 587.16 284.98" fill="none" stroke="#aaaaaa" stroke-width="4.3"/><circle cx="584.81" cy="278.52" r="7.93" fill="rgba(255,153,0,0.3333)" stroke="#000" stroke-width="1.1"/><path d="M576.88 278.52H592.75" stroke="#f00" stroke-width="1.5" stroke-linecap="round"/><path d="M584.81 270.58V286.45" stroke="#00f" stroke-width="1.5" stroke-linecap="round"/><path d="M119.26 246.83A6.88 6.88 0 1 1 127.94 255.97" fill="none" stroke="#aaaaaa" stroke-width="4.3"/><circle cx="125.59" cy="249.51" r="9.71" fill="rgba(255,153,0,0.3333)" stroke="#000" stroke-width="1.1"/><path d="M115.88 249.51H135.29" stroke="#f00" stroke-width="1.5" stroke-linecap="round"/><path d="M125.59 239.81V259.22" stroke="#00f" stroke-width="1.5" stroke-linecap="round"/><path d="M165.18 246.83A6.88 6.88 0 1 1 173.86 255.97" fill="none" stroke="#aaaaaa" stroke-width="4.3"/><circle cx="171.51" cy="249.51" r="9.71" fill="rgba(255,153,0,0.3333)" stroke="#000" stroke-width="1.1"/><path d="M161.80 249.51H181.22" stroke="#f00" stroke-width="1.5" stroke-linecap="round"/><path d="M171.51 239.81V259.22" stroke="#00f" stroke-width="1.5" stroke-linecap="round"/><path d="M211.10 246.83A6.88 6.88 0 1 1 219.78 255.97" fill="none" stroke="#aaaaaa" stroke-width="4.3"/><circle cx="217.43" cy="249.51" r="9.71" fill="rgba(255,153,0,0.3333)" stroke="#000" stroke-width="1.1"/><path d="M207.72 249.51H227.14" stroke="#f00" stroke-width="1.5" stroke-linecap="round"/><path d="M217.43 239.81V259.22" stroke="#00f" stroke-width="1.5" stroke-linecap="round"/><path d="M257.03 246.83A6.88 6.88 0 1 1 265.71 255.97" fill="none" stroke="#aaaaaa" stroke-width="4.3"/><circle cx="263.35" cy="249.51" r="9.71" fill="rgba(255,153,0,0.3333)" stroke="#000" stroke-width="1.1"/><path d="M253.65 249.51H273.06" stroke="#f00" stroke-width="1.5" stroke-linecap="round"/><path d="M263.35 239.81V259.22" stroke="#00f" stroke-width="1.5" stroke-linecap="round"/><path d="M302.95 246.83A6.88 6.88 0 1 1 311.63 255.97" fill="none" stroke="#aaaaaa" stroke-width="4.3"/><circle cx="309.28" cy="249.51" r="9.71" fill="rgba(255,153,0,0.3333)" stroke="#000" stroke-width="1.1"/><path d="M299.57 249.51H318.98" stroke="#f00" stroke-width="1.5" stroke-linecap="round"/><path d="M309.28 239.81V259.22" stroke="#00f" stroke-width="1.5" stroke-linecap="round"/><path d="M348.87 246.83A6.88 6.88 0 1 1 357.55 255.97" fill="none" stroke="#aaaaaa" stroke-width="4.3"/><circle cx="355.20" cy="249.51" r="9.71" fill="rgba(255,153,0,0.3333)" stroke="#000" stroke-width="1.1"/><path d="M345.49 249.51H364.91" stroke="#f00" stroke-width="1.5" stroke-linecap="round"/><path d="M355.20 239.81V259.22" stroke="#00f" stroke-width="1.5" stroke-linecap="round"/><path d="M394.79 246.83A6.88 6.88 0 1 1 403.47 255.97" fill="none" stroke="#aaaaaa" stroke-width="4.3"/><circle cx="401.12" cy="249.51" r="9.71" fill="rgba(255,153,0,0.3333)" stroke="#000" stroke-width="1.1"/><path d="M391.42 249.51H410.83" stroke="#f00" stroke-width="1.5" stroke-linecap="round"/><path d="M401.12 239.81V259.22" stroke="#00f" stroke-width="1.5" stroke-linecap="round"/><path d="M440.72 246.83A6.88 6.88 0 1 1 449.40 255.97" fill="none" stroke="#aaaaaa" stroke-width="4.3"/><circle cx="447.05" cy="249.51" r="9.71" fill="rgba(255,153,0,0.3333)" stroke="#000" stroke-width="1.1"/><path d="M437.34 249.51H456.75" stroke="#f00" stroke-width="1.5" stroke-linecap="round"/><path d="M447.05 239.81V259.22" stroke="#00f" stroke-width="1.5" stroke-linecap="round"/><path d="M486.64 246.83A6.88 6.88 0 1 1 495.32 255.97" fill="none" stroke="#aaaaaa" stroke-width="4.3"/><circle cx="492.97" cy="249.51" r="9.71" fill="rgba(255,153,0,0.3333)" stroke="#000" stroke-width="1.1"/><path d="M483.26 249.51H502.68" stroke="#f00" stroke-width="1.5" stroke-linecap="round"/><path d="M492.97 239.81V259.22" stroke="#00f" stroke-width="1.5" stroke-linecap="round"/><path d="M532.56 246.83A6.88 6.88 0 1 1 541.24 255.97" fill="none" stroke="#aaaaaa" stroke-width="4.3"/><circle cx="538.89" cy="249.51" r="9.71" fill="rgba(255,153,0,0.3333)" stroke="#000" stroke-width="1.1"/><path d="M529.18 249.51H548.60" stroke="#f00" stroke-width="1.5" stroke-linecap="round"/><path d="M538.89 239.81V259.22" stroke="#00f" stroke-width="1.5" stroke-linecap="round"/><path d="M578.48 246.83A6.88 6.88 0 1 1 587.16 255.97" fill="none" stroke="#aaaaaa" stroke-width="4.3"/><circle cx="584.81" cy="249.51" r="9.71" fill="rgba(255,153,0,0.3333)" stroke="#000" stroke-width="1.1"/><path d="M575.11 249.51H594.52" stroke="#f00" stroke-width="1.5" stroke-linecap="round"/><path d="M584.81 239.81V259.22" stroke="#00f" stroke-width="1.5" stroke-linecap="round"/><path d="M119.26 208.72A6.88 6.88 0 1 1 127.94 217.87" fill="none" stroke="#aaaaaa" stroke-width="4.3"/><circle cx="125.59" cy="211.40" r="13.72" fill="rgba(255,153,0,0.3333)" stroke="#000" stroke-width="1.1"/><path d="M111.87 211.40H139.30" stroke="#f00" stroke-width="1.5" stroke-linecap="round"/><path d="M125.59 197.69V225.12" stroke="#00f" stroke-width="1.5" stroke-linecap="round"/><path d="M165.18 208.72A6.88 6.88 0 1 1 173.86 217.87" fill="none" stroke="#aaaaaa" stroke-width="4.3"/><circle cx="171.51" cy="211.40" r="13.72" fill="rgba(255,153,0,0.3333)" stroke="#000" stroke-width="1.1"/><path d="M157.79 211.40H185.23" stroke="#f00" stroke-width="1.5" stroke-linecap="round"/><path d="M171.51 197.69V225.12" stroke="#00f" stroke-width="1.5" stroke-linecap="round"/><path d="M211.10 208.72A6.88 6.88 0 1 1 219.78 217.87" fill="none" stroke="#aaaaaa" stroke-width="4.3"/><circle cx="217.43" cy="211.40" r="13.72" fill="rgba(255,153,0,0.3333)" stroke="#000" stroke-width="1.1"/><path d="M203.72 211.40H231.15" stroke="#f00" stroke-width="1.5" stroke-linecap="round"/><path d="M217.43 197.69V225.12" stroke="#00f" stroke-width="1.5" stroke-linecap="round"/><path d="M257.03 208.72A6.88 6.88 0 1 1 265.71 217.87" fill="none" stroke="#aaaaaa" stroke-width="4.3"/><circle cx="263.35" cy="211.40" r="13.72" fill="rgba(255,153,0,0.3333)" stroke="#000" stroke-width="1.1"/><path d="M249.64 211.40H277.07" stroke="#f00" stroke-width="1.5" stroke-linecap="round"/><path d="M263.35 197.69V225.12" stroke="#00f" stroke-width="1.5" stroke-linecap="round"/><path d="M302.95 208.72A6.88 6.88 0 1 1 311.63 217.87" fill="none" stroke="#aaaaaa" stroke-width="4.3"/><circle cx="309.28" cy="211.40" r="13.72" fill="rgba(255,153,0,0.3333)" stroke="#000" stroke-width="1.1"/><path d="M295.56 211.40H322.99" stroke="#f00" stroke-width="1.5" stroke-linecap="round"/><path d="M309.28 197.69V225.12" stroke="#00f" stroke-width="1.5" stroke-linecap="round"/><path d="M348.87 208.72A6.88 6.88 0 1 1 357.55 217.87" fill="none" stroke="#aaaaaa" stroke-width="4.3"/><circle cx="355.20" cy="211.40" r="13.72" fill="rgba(255,153,0,0.3333)" stroke="#000" stroke-width="1.1"/><path d="M341.48 211.40H368.92" stroke="#f00" stroke-width="1.5" stroke-linecap="round"/><path d="M355.20 197.69V225.12" stroke="#00f" stroke-width="1.5" stroke-linecap="round"/><path d="M394.79 208.72A6.88 6.88 0 1 1 403.47 217.87" fill="none" stroke="#aaaaaa" stroke-width="4.3"/><circle cx="401.12" cy="211.40" r="13.72" fill="rgba(255,153,0,0.3333)" stroke="#000" stroke-width="1.1"/><path d="M387.41 211.40H414.84" stroke="#f00" stroke-width="1.5" stroke-linecap="round"/><path d="M401.12 197.69V225.12" stroke="#00f" stroke-width="1.5" stroke-linecap="round"/><path d="M440.72 208.72A6.88 6.88 0 1 1 449.40 217.87" fill="none" stroke="#aaaaaa" stroke-width="4.3"/><circle cx="447.05" cy="211.40" r="13.72" fill="rgba(255,153,0,0.3333)" stroke="#000" stroke-width="1.1"/><path d="M433.33 211.40H460.76" stroke="#f00" stroke-width="1.5" stroke-linecap="round"/><path d="M447.05 197.69V225.12" stroke="#00f" stroke-width="1.5" stroke-linecap="round"/><path d="M486.64 208.72A6.88 6.88 0 1 1 495.32 217.87" fill="none" stroke="#aaaaaa" stroke-width="4.3"/><circle cx="492.97" cy="211.40" r="13.72" fill="rgba(255,153,0,0.3333)" stroke="#000" stroke-width="1.1"/><path d="M479.25 211.40H506.68" stroke="#f00" stroke-width="1.5" stroke-linecap="round"/><path d="M492.97 197.69V225.12" stroke="#00f" stroke-width="1.5" stroke-linecap="round"/><path d="M532.56 208.72A6.88 6.88 0 1 1 541.24 217.87" fill="none" stroke="#aaaaaa" stroke-width="4.3"/><circle cx="538.89" cy="211.40" r="13.72" fill="rgba(255,153,0,0.3333)" stroke="#000" stroke-width="1.1"/><path d="M525.17 211.40H552.61" stroke="#f00" stroke-width="1.5" stroke-linecap="round"/><path d="M538.89 197.69V225.12" stroke="#00f" stroke-width="1.5" stroke-linecap="round"/><path d="M578.48 208.72A6.88 6.88 0 1 1 587.16 217.87" fill="none" stroke="#aaaaaa" stroke-width="4.3"/><circle cx="584.81" cy="211.40" r="13.72" fill="rgba(255,153,0,0.3333)" stroke="#000" stroke-width="1.1"/><path d="M571.10 211.40H598.53" stroke="#f00" stroke-width="1.5" stroke-linecap="round"/><path d="M584.81 197.69V225.12" stroke="#00f" stroke-width="1.5" stroke-linecap="round"/><path d="M119.26 146.45A6.88 6.88 0 1 1 127.94 155.60" fill="none" stroke="#aaaaaa" stroke-width="4.3"/><circle cx="125.59" cy="149.14" r="26.48" fill="rgba(255,153,0,0.3333)" stroke="#000" stroke-width="1.1"/><path d="M99.11 149.14H152.07" stroke="#f00" stroke-width="1.5" stroke-linecap="round"/><path d="M125.59 122.66V175.62" stroke="#00f" stroke-width="1.5" stroke-linecap="round"/><path d="M165.18 146.45A6.88 6.88 0 1 1 173.86 155.60" fill="none" stroke="#aaaaaa" stroke-width="4.3"/><circle cx="171.51" cy="149.14" r="26.48" fill="rgba(255,153,0,0.3333)" stroke="#000" stroke-width="1.1"/><path d="M145.03 149.14H197.99" stroke="#f00" stroke-width="1.5" stroke-linecap="round"/><path d="M171.51 122.66V175.62" stroke="#00f" stroke-width="1.5" stroke-linecap="round"/><path d="M211.10 146.45A6.88 6.88 0 1 1 219.78 155.60" fill="none" stroke="#aaaaaa" stroke-width="4.3"/><circle cx="217.43" cy="149.14" r="26.48" fill="rgba(255,153,0,0.3333)" stroke="#000" stroke-width="1.1"/><path d="M190.95 149.14H243.91" stroke="#f00" stroke-width="1.5" stroke-linecap="round"/><path d="M217.43 122.66V175.62" stroke="#00f" stroke-width="1.5" stroke-linecap="round"/><path d="M257.03 146.45A6.88 6.88 0 1 1 265.71 155.60" fill="none" stroke="#aaaaaa" stroke-width="4.3"/><circle cx="263.35" cy="149.14" r="26.48" fill="rgba(255,153,0,0.3333)" stroke="#000" stroke-width="1.1"/><path d="M236.87 149.14H289.84" stroke="#f00" stroke-width="1.5" stroke-linecap="round"/><path d="M263.35 122.66V175.62" stroke="#00f" stroke-width="1.5" stroke-linecap="round"/><path d="M302.95 146.45A6.88 6.88 0 1 1 311.63 155.60" fill="none" stroke="#aaaaaa" stroke-width="4.3"/><circle cx="309.28" cy="149.14" r="26.48" fill="rgba(255,153,0,0.3333)" stroke="#000" stroke-width="1.1"/><path d="M282.80 149.14H335.76" stroke="#f00" stroke-width="1.5" stroke-linecap="round"/><path d="M309.28 122.66V175.62" stroke="#00f" stroke-width="1.5" stroke-linecap="round"/><path d="M348.87 146.45A6.88 6.88 0 1 1 357.55 155.60" fill="none" stroke="#aaaaaa" stroke-width="4.3"/><circle cx="355.20" cy="149.14" r="26.48" fill="rgba(255,153,0,0.3333)" stroke="#000" stroke-width="1.1"/><path d="M328.72 149.14H381.68" stroke="#f00" stroke-width="1.5" stroke-linecap="round"/><path d="M355.20 122.66V175.62" stroke="#00f" stroke-width="1.5" stroke-linecap="round"/><path d="M394.79 146.45A6.88 6.88 0 1 1 403.47 155.60" fill="none" stroke="#aaaaaa" stroke-width="4.3"/><circle cx="401.12" cy="149.14" r="26.48" fill="rgba(255,153,0,0.3333)" stroke="#000" stroke-width="1.1"/><path d="M374.64 149.14H427.60" stroke="#f00" stroke-width="1.5" stroke-linecap="round"/><path d="M401.12 122.66V175.62" stroke="#00f" stroke-width="1.5" stroke-linecap="round"/><path d="M440.72 146.45A6.88 6.88 0 1 1 449.40 155.60" fill="none" stroke="#aaaaaa" stroke-width="4.3"/><circle cx="447.05" cy="149.14" r="26.48" fill="rgba(255,153,0,0.3333)" stroke="#000" stroke-width="1.1"/><path d="M420.56 149.14H473.53" stroke="#f00" stroke-width="1.5" stroke-linecap="round"/><path d="M447.05 122.66V175.62" stroke="#00f" stroke-width="1.5" stroke-linecap="round"/><path d="M486.64 146.45A6.88 6.88 0 1 1 495.32 155.60" fill="none" stroke="#aaaaaa" stroke-width="4.3"/><circle cx="492.97" cy="149.14" r="26.48" fill="rgba(255,153,0,0.3333)" stroke="#000" stroke-width="1.1"/><path d="M466.49 149.14H519.45" stroke="#f00" stroke-width="1.5" stroke-linecap="round"/><path d="M492.97 122.66V175.62" stroke="#00f" stroke-width="1.5" stroke-linecap="round"/><path d="M532.56 146.45A6.88 6.88 0 1 1 541.24 155.60" fill="none" stroke="#aaaaaa" stroke-width="4.3"/><circle cx="538.89" cy="149.14" r="26.48" fill="rgba(255,153,0,0.3333)" stroke="#000" stroke-width="1.1"/><path d="M512.41 149.14H565.37" stroke="#f00" stroke-width="1.5" stroke-linecap="round"/><path d="M538.89 122.66V175.62" stroke="#00f" stroke-width="1.5" stroke-linecap="round"/><path d="M578.48 146.45A6.88 6.88 0 1 1 587.16 155.60" fill="none" stroke="#aaaaaa" stroke-width="4.3"/><circle cx="584.81" cy="149.14" r="26.48" fill="rgba(255,153,0,0.3333)" stroke="#000" stroke-width="1.1"/><path d="M558.33 149.14H611.29" stroke="#f00" stroke-width="1.5" stroke-linecap="round"/><path d="M584.81 122.66V175.62" stroke="#00f" stroke-width="1.5" stroke-linecap="round"/></g><g clip-path="url(#c)" fill="none" stroke="#aaaaaa" stroke-width="1.1" stroke-linejoin="round" stroke-linecap="round"><polyline points="145.7,214.7 146.3,215.4 147.5,216.4 148.2,218.0 147.6,219.1 147.0,220.5 147.9,221.8 149.8,223.0 149.7,224.6 150.7,226.3 151.4,227.1 153.2,228.8 152.7,230.4 152.3,231.3 153.6,231.9 155.7,233.0 156.6,235.2 157.3,236.3 158.7,237.5 159.8,238.8 161.6,239.6 162.3,241.3 164.0,242.4 164.8,243.8"/><polyline points="144.8,213.8 145.0,215.1 146.0,217.2 146.7,218.6 147.4,219.5 148.7,220.5 149.0,222.0 149.0,223.8 150.1,224.3 150.5,225.4 152.0,226.7 152.9,227.9 153.1,229.3 154.0,230.5 154.8,231.4 156.0,232.9 156.5,233.8 157.1,235.0 158.2,236.5 159.0,237.2 160.5,238.4 161.5,240.0"/><polyline points="231.0,84.8 232.8,83.5 233.4,83.2 234.7,82.0 235.7,81.7 236.9,81.5 239.1,81.1 240.2,80.7 242.2,80.3 243.7,80.4 245.3,80.0 246.8,79.8 248.7,80.4 249.9,80.3 251.0,80.4 253.0,80.3 254.8,81.7 256.7,81.7 258.0,82.7 258.9,84.1 259.5,85.2 261.0,86.5 260.9,87.6 261.1,89.8 261.8,91.0 260.6,92.2 260.0,94.3 259.3,95.3 257.9,96.4 257.4,98.0 256.3,98.7 255.7,100.5 254.3,101.5 253.8,102.8 253.7,104.3 254.3,106.1 255.3,107.0 254.8,108.3 253.3,110.3 252.0,111.5 251.3,113.3 249.6,114.2 248.5,115.0 249.0,116.4 249.3,118.3 247.7,119.1 247.0,120.2 246.0,121.0 245.3,121.8 243.6,122.2 242.3,122.7 241.2,121.7 239.7,121.7 239.0,121.1 237.9,120.2 236.3,119.0 237.5,118.2 239.0,117.7 239.5,116.7 240.4,115.0 241.8,114.3 242.6,112.8 244.0,112.0 242.4,111.4 240.6,111.4 239.7,111.7 238.0,112.1 236.7,113.2 236.0,113.3 234.5,113.7 232.7,114.8 231.1,113.4 230.2,112.3 231.3,110.7 232.7,109.8 234.6,109.1 235.7,107.3 234.1,106.9 232.7,106.5 230.8,106.2 229.7,106.6 228.5,107.0 227.2,105.5 225.2,104.8 225.8,104.5 227.4,102.8 228.5,102.3 230.2,102.3 231.9,103.7 233.5,103.7 235.3,102.5 236.3,101.0 234.2,100.3 232.7,99.8 230.6,100.0 229.4,99.8 227.7,99.3 226.1,99.8 225.2,101.3 223.5,101.5 222.5,101.3 221.1,100.7 219.3,99.8 218.0,98.7 217.2,97.1 216.3,96.5 216.9,94.8 218.5,93.7 219.6,93.0 221.8,91.8 222.7,91.0 224.5,90.6 225.9,89.0 226.8,88.2 227.9,86.8 229.3,85.6 231.0,84.8"/><polyline points="211.0,100.7 210.3,102.2 209.7,102.9 208.5,104.0 208.4,106.0 207.5,107.5 207.7,109.0 208.7,111.0 209.1,112.3 209.3,114.0 209.8,116.0 210.8,117.7 211.8,119.0 213.5,120.1 213.9,121.9 215.2,122.7 217.1,121.7 218.5,121.5 218.4,119.7 219.5,119.1 219.3,117.3 218.4,116.0 218.8,114.2 217.7,112.3 216.9,110.7 216.1,108.5 216.0,107.3 216.0,106.1 214.9,105.0 214.3,103.2 213.1,102.7 212.5,101.2 211.0,100.7"/><polyline points="202.0,112.3 203.3,113.3 202.7,114.7 201.3,113.7 202.0,112.3"/><polyline points="264.3,94.8 263.2,96.1 262.4,97.8 261.6,99.1 261.0,100.7 259.8,102.4 259.2,103.1 258.6,104.9 257.7,105.7 257.1,107.8 256.7,109.0 256.2,110.1 255.7,112.3 254.9,113.4 253.6,115.6 253.1,116.7 252.7,118.2 251.9,119.7 250.4,121.1 249.6,122.9 248.5,124.0 247.2,125.2 246.6,126.1 246.3,127.5 245.2,128.7 246.3,130.2 247.8,131.0 248.5,132.3 250.0,132.9 251.3,133.7 252.7,134.0 253.6,135.0 254.6,136.5 255.7,137.0 256.8,138.7 258.0,139.4 258.5,141.0 259.7,142.4 261.2,142.5 261.6,143.7 262.7,144.4 264.3,145.7 264.7,147.5 266.3,149.4 266.8,150.7 267.0,152.6 268.0,154.0 268.8,155.4 269.3,157.7 270.3,160.1 270.3,161.5 270.5,163.7 271.3,164.8 271.6,166.2 272.5,168.0 272.3,169.0 272.5,170.6 273.5,172.3 273.8,173.8 273.7,175.5 274.3,177.3 274.9,178.2 275.1,180.0 275.3,181.5 275.1,182.7 276.1,184.3 276.3,185.7 276.3,188.0 277.5,189.7 277.7,191.0"/><polyline points="265.7,146.5 265.7,147.7 266.2,149.7 266.9,150.5 267.7,152.3 267.9,154.5 268.7,155.4 268.7,157.3 268.9,159.5 270.1,160.9 270.7,162.3 270.5,163.5 271.5,165.6 271.7,167.3 271.6,169.3 272.6,170.6 272.5,172.1 273.3,173.2 273.0,175.0 273.6,175.9 273.9,178.0 274.0,179.0 274.2,180.1 274.9,181.6 274.8,183.0 275.7,184.8"/><polyline points="264.3,94.8 264.7,93.1 265.8,91.8 266.8,90.7 268.8,89.6 270.2,89.0 271.4,89.9 272.7,91.5 273.3,89.6 274.1,88.2 275.2,87.3 276.5,86.6 277.0,85.6 278.5,84.8 280.1,85.2 281.1,86.4 281.8,87.3 282.7,86.0 283.4,84.0 284.3,82.3 285.9,82.3 286.9,81.6 288.5,80.7 289.6,81.9 290.1,82.7 291.0,84.0 291.3,82.5 292.2,82.0 293.5,80.7 294.6,80.0 295.8,80.5 297.7,79.8 299.9,79.9 301.0,79.2 303.0,79.3"/><polyline points="272.7,91.5 273.3,93.1 274.3,94.8 275.1,93.9 276.3,93.7 277.7,92.3 279.2,91.1 279.5,90.3 280.6,88.4 281.8,87.3"/><polyline points="284.3,82.3 284.6,83.6 286.0,85.1 286.8,86.5 287.8,85.3 289.3,84.0"/><polyline points="305.5,81.5 306.4,80.8 308.0,80.6 309.4,79.7 311.3,79.8 312.8,79.8 314.8,80.4 316.3,80.7 317.7,82.0 318.8,83.3 319.7,84.0 320.4,84.9 321.9,85.8 322.2,87.3 321.6,88.6 320.0,89.9 319.7,90.7 318.4,91.1 316.6,91.6 314.7,91.5 312.6,91.8 311.3,92.4 309.7,92.3 310.4,93.9 310.5,94.8 312.3,95.5 314.0,95.6 315.5,95.7 316.9,94.7 318.8,94.8 319.7,93.4 321.3,92.3 322.3,93.3 324.2,93.6 325.5,94.0 326.9,95.0 328.0,95.7 329.7,95.1 331.7,95.9 333.0,95.7 334.4,96.8 336.0,97.4 337.2,99.0 336.9,100.4 335.6,102.1 335.5,104.0 334.4,104.5 333.0,106.2 331.3,106.5 330.2,107.5 329.1,108.9 328.0,109.8 327.2,110.8 325.9,111.0 324.7,112.3 325.1,113.3 326.3,114.8 326.3,116.0 325.9,117.1 325.5,119.0 324.5,120.1 324.6,122.0 323.8,123.2 323.5,124.3 322.7,125.9 322.2,127.3 322.4,128.6 323.2,130.3 323.0,132.3 323.0,134.2 321.4,135.1 321.3,136.5 322.2,138.4 322.4,139.0 323.0,140.7 321.8,142.8 321.0,144.1 320.5,145.7 320.4,147.4 321.6,148.6 321.3,150.7 320.6,152.1 319.5,153.7 318.0,154.8 318.3,156.7 319.1,157.1 319.7,159.0 318.0,160.1 317.4,161.0 316.3,162.3 316.5,163.6 317.2,165.5 318.0,166.5 316.3,167.9 316.2,168.3 314.7,169.8 314.6,171.5 314.0,172.4 313.0,174.0 311.7,175.0 311.3,176.3 309.7,177.3 308.7,178.5 307.8,179.3 306.7,181.5 306.3,182.3 305.3,184.1 304.4,184.6 303.8,185.7 303.0,187.3"/><polyline points="324.7,112.3 326.2,113.7 328.0,114.0 329.7,113.1 330.5,111.5"/><polyline points="321.3,136.5 320.2,137.4 318.8,137.3 319.7,138.6 319.7,139.8"/><polyline points="372.2,114.8 372.1,116.0 371.9,118.1 371.3,119.8 372.4,121.7 372.8,122.7 373.8,124.8 375.4,125.8 376.0,127.4 377.2,129.0 378.3,130.4 380.5,131.0 381.3,132.3 382.6,132.9 383.6,133.9 384.7,134.8 384.9,133.1 385.5,132.5 386.3,130.7 385.8,129.0 385.7,128.4 384.7,126.5 385.7,125.0 386.6,123.8 388.0,123.2 388.9,121.9 389.9,121.2 391.3,120.7 392.2,119.7 393.3,117.8 393.8,116.5 394.6,114.9 395.5,113.2 394.5,111.9 393.4,110.7 393.0,109.8 392.1,109.1 390.2,109.4 388.8,109.0 387.6,109.5 385.5,110.7 384.4,111.8 383.7,113.4 383.0,114.8 382.2,116.1 380.5,116.5 379.8,115.1 377.8,115.1 377.2,114.0 375.9,114.2 373.9,114.0 372.2,114.8"/><polyline points="389.7,127.3 390.8,128.6 392.2,129.0 392.2,130.8 392.1,131.5 391.3,133.2 389.7,132.4 388.8,132.3 389.1,130.9 389.9,129.2 389.7,127.3"/><polyline points="376.3,117.3 377.3,119.3 378.0,120.7 378.8,122.3 379.2,124.3 380.2,126.1 381.3,127.3"/><polyline points="403.8,111.2 405.5,111.8"/><polyline points="374.7,191.0 375.5,189.5 375.5,188.1 376.7,187.2 377.2,185.7 377.6,183.5 378.9,182.4 379.7,180.7 380.7,179.3 382.0,177.9 383.0,177.3 383.9,176.5 385.7,175.8 386.3,174.8 388.1,174.0 388.8,172.9 390.5,172.3 392.4,172.0 393.1,170.7 394.7,170.7 396.1,171.1 397.4,171.0 398.8,171.5 400.3,172.8 401.3,173.2 402.7,173.5 404.7,174.8 406.2,175.0 408.2,175.1 409.7,175.7 411.8,176.5 413.2,176.5 415.0,177.3"/><polyline points="376.3,189.8 377.5,188.2 377.9,186.6 377.9,185.7 378.8,184.0 379.7,183.1 381.1,180.9 382.2,179.8 383.0,178.9 384.6,178.7 385.5,177.3 386.5,176.4 388.0,176.2 389.7,174.8 390.7,174.0 392.0,173.9 393.8,173.7"/><polyline points="396.3,175.7 397.4,177.8 397.8,179.5 398.7,180.5 398.8,182.3 398.1,184.3 398.3,184.7 397.8,186.5 397.0,187.9 396.4,189.0 396.3,191.0"/><polyline points="318.8,190.3 320.0,189.8 322.3,189.3 323.7,189.0 324.7,189.0 326.2,189.4 328.4,189.1 329.2,189.2 331.3,189.3"/><polyline points="425.0,106.5 426.1,106.1 427.5,104.8 428.8,105.1 430.8,105.7 432.1,103.9 432.5,103.2 431.6,105.2 431.1,106.0 430.0,108.2 428.2,108.9 427.5,110.7 427.1,109.0 426.1,108.3 425.0,106.5"/><polyline points="435.0,109.0 436.1,107.9 437.5,107.3 439.3,108.7 440.0,109.8 438.5,110.9 437.5,111.5 436.0,110.0 435.0,109.0"/><polyline points="440.0,100.7 441.1,100.1 443.3,99.0 445.0,100.4 445.8,101.5 447.6,102.2 448.3,104.0 449.3,103.1 450.8,102.3 452.7,103.4 453.5,103.2 455.0,104.0 454.5,105.7 454.2,107.3 453.2,107.3 451.7,108.2 450.0,108.2 449.2,109.3 447.9,109.6 446.7,110.7 444.8,109.7 443.3,109.0 442.5,107.7 440.8,107.6 440.0,106.5 439.7,104.6 439.5,103.6 439.8,102.7 440.0,100.7"/><polyline points="444.2,95.7 445.8,96.5"/><polyline points="450.0,96.5 452.0,97.3"/><polyline points="475.8,104.8 478.0,105.3"/><polyline points="471.7,116.5 473.7,117.3"/><polyline points="458.7,136.5 460.3,138.2 460.2,140.4 459.2,141.5 457.8,141.9 456.5,143.2 455.8,144.0 454.4,144.8 452.5,145.7 451.1,146.7 450.4,148.1 449.2,149.0 448.6,150.5 447.7,150.8 446.7,152.3 445.9,152.9 444.5,153.9 443.3,154.8 442.8,155.9 441.4,157.3 440.8,159.0 440.2,161.1 440.4,162.1 440.0,164.0 440.4,166.2 441.1,167.0 441.7,169.0 442.4,170.8 442.5,172.3 441.8,171.5 440.0,171.5 438.3,171.0 436.7,169.8 435.8,169.0 434.2,167.3 433.9,165.7 434.3,164.2 435.0,163.2 436.1,161.9 436.6,160.2 436.7,159.0 437.9,157.6 438.1,156.5 439.2,154.8 439.9,153.0 439.8,152.2 440.0,150.7 440.5,149.4 441.3,148.1 442.5,147.3 443.3,146.3 444.9,144.8 445.8,144.0 446.7,143.0 448.8,142.0 450.0,141.5 451.2,140.3 453.1,139.9 454.2,139.0 455.2,137.7 457.1,137.4 458.7,136.5"/><polyline points="496.7,102.3 498.2,101.3 499.1,101.4 500.8,100.7 501.6,101.5 502.3,103.4 503.3,104.0 503.7,105.5 504.3,106.7 505.0,108.2 506.2,110.1 506.5,110.6 507.5,112.3 507.2,113.4 505.8,115.6 505.8,116.5 507.0,118.1 508.3,119.0 509.9,119.7 511.6,119.2 513.3,119.8 513.9,121.0 515.7,122.5 516.7,123.2 515.7,124.7 515.4,125.9 515.0,127.3 512.9,127.9 511.7,129.0 510.9,128.4 509.6,126.8 509.2,125.7 509.9,124.5 510.0,122.3 508.3,121.6 507.7,122.3 505.8,121.5 504.6,119.8 503.3,119.0 502.1,118.5 500.0,118.2 499.3,117.2 498.1,115.6 496.7,114.8 496.1,112.9 495.0,111.5 495.7,110.8 497.0,108.9 497.5,108.2 497.0,106.6 497.1,105.1 496.5,103.5 496.7,102.3"/><polyline points="470.0,169.8 470.8,168.9 470.6,167.1 471.7,165.7 473.1,164.3 474.3,163.6 475.0,163.2 476.5,162.4 477.9,161.3 479.2,160.7 478.2,159.5 477.5,158.2 479.1,157.5 480.8,156.5 482.2,156.2 483.1,156.1 485.0,155.7 486.1,154.3 487.5,153.8 488.3,152.3 489.4,150.6 490.5,149.1 491.7,148.2 492.6,147.3 494.0,146.4 495.8,145.7 497.0,144.3 498.2,143.5 499.2,143.2 500.8,142.6 502.0,141.0 503.3,140.7 504.7,139.4 506.6,138.0 507.5,137.3 509.3,137.3 510.5,136.6 511.7,135.7 513.0,135.8 515.0,134.8 516.4,135.9 518.2,135.6 519.2,136.5 520.3,138.1 520.4,138.6 521.7,139.8 522.8,140.6 523.8,141.8 524.2,143.2 525.9,144.0 527.0,145.7"/><polyline points="460.0,191.0 460.6,190.1 460.9,188.1 461.9,186.8 462.5,185.7 462.8,183.7 463.8,182.8 465.0,180.7 465.8,179.4 465.7,177.6 466.7,175.7 466.8,174.3 467.9,172.7 468.3,171.5 470.0,169.8"/><polyline points="470.8,179.0 472.5,179.9 473.3,180.7 473.8,182.8 474.2,184.0 472.5,185.4 471.7,185.7 470.1,184.7 468.3,184.0 467.5,185.1 466.7,186.9 465.0,188.2 463.6,189.9 462.5,191.0"/><polyline points="462.5,159.0 464.2,158.2 464.5,159.1 465.0,160.7 464.0,161.0 462.5,162.3 462.9,160.4 462.5,159.0"/><polyline points="460.0,169.0 459.6,171.2 459.0,172.5 458.3,174.0 459.0,175.1 459.5,176.9 460.8,179.0 459.2,180.7 458.5,179.5 457.5,178.9 456.7,177.3 456.5,175.4 457.4,173.5 457.5,172.3 457.8,171.1 458.7,170.0 460.0,169.0"/><polyline points="415.0,185.7 415.9,184.9 417.6,183.7 418.9,183.1 420.0,182.3 420.7,181.7 421.9,179.7 423.3,179.0 424.6,180.0 427.1,181.0 428.3,181.5 429.9,181.0 431.1,181.1 433.3,180.7 435.1,180.2 436.8,180.0 438.3,179.8 440.5,179.8 441.4,179.7 443.3,179.0 444.2,178.8 446.0,178.2 447.5,178.2 447.4,179.7 448.3,180.7 448.6,181.8 450.5,182.5 450.8,184.0 452.2,185.0 454.2,185.7 454.8,187.2 455.8,188.0 455.8,189.4 456.7,191.0"/><polyline points="429.7,177.0 430.2,178.3 431.7,178.7 430.3,179.7 430.3,178.6 429.7,177.0"/><polyline points="527.0,157.3 528.1,158.5 530.3,159.0 532.0,158.4 533.4,157.8 534.5,157.3 535.6,157.5 537.0,157.9 538.7,159.0 539.9,158.7 541.7,158.3 542.8,157.3 544.5,156.8 545.7,156.7 547.0,156.5 548.7,157.4 549.5,158.3 551.2,159.0 552.2,160.4 552.7,161.8 552.8,164.0 553.1,165.4 554.2,167.8 554.5,169.0 556.0,169.6 557.0,170.7 558.5,169.4 558.9,168.9 560.3,167.3 561.9,167.0 563.3,166.7 564.5,165.7 565.6,167.2 566.9,168.3 567.8,169.0 568.4,167.6 569.2,165.5 569.4,164.1 570.3,162.3 571.5,162.0 573.7,160.7 574.9,160.7 576.6,162.2 578.7,162.3 579.9,163.1 580.9,164.1 582.8,165.7 583.9,167.2 584.7,168.7 585.3,169.8 586.2,170.2 588.0,170.7 589.5,170.7 591.2,170.8 591.8,170.5 593.7,169.8 595.5,170.9 596.0,170.6 597.8,171.5 598.2,172.1 599.9,174.1 600.3,174.8 601.0,176.6 601.6,177.4 602.0,179.0 602.4,176.9 603.7,175.7 605.6,175.1 606.8,175.0 608.7,174.8 609.8,174.8 611.8,175.6 613.7,175.7 614.4,176.6 615.8,177.9 616.2,179.0 617.1,177.7 616.8,176.1 617.8,174.8 619.2,175.1 620.6,175.1 622.3,174.5 623.7,174.8 625.7,175.2 627.4,176.1 628.7,177.3 629.6,178.3 631.7,179.8"/><polyline points="562.8,145.7 564.5,145.4 565.1,144.0 567.0,143.2 568.7,143.2 570.0,142.6 572.0,142.3 573.5,143.5 575.1,144.5 577.0,144.8 577.9,145.4 579.4,146.5 580.3,147.3 581.6,146.7 583.7,145.7 583.6,147.7 584.5,149.0 583.3,149.9 581.9,150.0 580.3,150.7 578.8,150.0 578.0,149.1 576.2,149.0 575.2,148.2 573.1,148.2 572.0,148.2 571.1,148.4 569.1,149.1 567.8,149.0 565.9,149.4 564.5,149.8 564.0,148.7 563.7,147.2 562.8,145.7"/><polyline points="569.5,154.0 571.0,153.4 572.8,153.2 573.3,155.2 574.5,156.5 573.6,157.6 571.9,158.1 571.2,159.0 570.2,158.3 568.7,157.3 568.7,155.6 569.5,154.0"/><polyline points="628.3,169.8 630.0,168.2 631.0,169.8 629.0,171.0 628.3,169.8"/><polyline points="527.0,145.7 528.3,147.0 528.7,149.0 528.0,150.2 528.3,152.2 527.8,153.2 527.2,154.2 527.0,155.8 527.0,157.3"/><polyline points="271.8,163.0 272.1,164.3 272.1,166.0 273.0,168.3 272.7,169.7 272.4,171.8 272.6,172.9 273.8,175.0 273.5,176.3 274.0,177.9 273.6,179.8 273.7,181.0 274.3,183.0 274.6,184.2 275.1,186.7 275.8,188.0 276.0,189.7 276.6,191.3 276.4,193.1 277.1,194.9 277.7,196.3 278.7,197.9 279.0,199.9 279.5,201.0 280.2,203.0 281.2,205.1 282.1,206.6 282.7,208.0 284.4,209.0 285.6,209.6 286.8,210.5 287.9,209.4 289.3,208.0 289.4,206.2 290.8,204.9 291.0,203.0 291.7,201.3 292.0,200.2 292.7,198.8 293.6,197.3 294.5,196.5 295.2,194.7 295.7,193.7 297.1,192.3 297.7,191.3 298.8,191.0 299.4,189.7 301.0,188.8 301.6,187.9 303.0,186.3"/><polyline points="273.5,166.3 274.2,168.0 273.5,169.7 274.2,171.6 274.3,173.0 274.6,174.8 275.1,176.4 274.9,178.5 275.2,179.7 275.1,181.5 275.6,183.3 275.6,185.2 276.3,186.3 276.6,187.5 276.9,189.6 277.0,191.2 278.0,193.0 278.2,194.7 278.5,195.7 278.7,197.6 279.3,198.8"/><polyline points="303.0,188.0 304.0,186.6 303.8,185.6 304.7,183.8 305.7,182.4 306.5,181.9 308.0,180.5 309.7,179.5 310.7,178.3 312.2,177.2 313.0,176.8 314.2,175.7 315.5,174.7"/><polyline points="465.0,169.7 465.9,171.7 466.1,172.8 466.7,174.7 466.5,175.9 466.6,177.8 466.4,179.4 465.8,181.3 465.1,182.7 464.6,184.3 464.2,186.3 462.4,187.8 461.7,188.8 463.1,189.0 465.0,189.7 465.9,188.3 467.1,187.0 468.3,185.5 469.1,183.7 469.9,182.6 470.0,180.5 470.8,180.0 472.5,178.8 473.8,180.8 473.8,182.5 475.0,183.8 474.6,181.9 473.4,181.6 473.3,179.7 472.7,177.7 471.7,176.3 470.0,175.1 469.2,174.7 468.6,173.3 468.4,171.0 468.3,169.7"/><polyline points="426.7,238.0 428.2,237.5 428.5,236.8 430.0,235.5 431.8,235.5 433.5,235.4 435.0,234.7 437.0,235.6 438.0,236.0 440.0,236.3 441.4,236.0 442.7,235.6 444.2,234.7 445.6,233.9 446.7,233.2 448.3,233.0 448.6,231.1 448.9,229.8 449.2,228.8 450.5,228.3 452.0,228.1 453.3,227.2 454.5,227.3 456.6,226.7 458.3,226.3 460.2,226.2 461.5,225.1 463.3,224.7 465.5,225.0 466.8,226.5 468.3,227.2 469.2,228.1 471.3,229.3 472.5,229.7 473.7,231.3 475.3,231.9 476.7,233.0 477.9,233.6 478.6,235.4 479.2,236.3 480.4,237.1 481.9,237.1 483.6,237.9 485.0,238.0 486.1,238.2 487.7,238.6 489.2,238.8"/><polyline points="450.8,249.7 452.9,249.0 454.2,248.8 455.4,250.4 455.8,252.2 455.0,253.6 454.2,255.5 452.8,255.6 451.3,254.7 451.3,253.3 450.8,251.1 450.8,249.7"/><polyline points="437.5,259.7 438.7,259.2 440.4,258.9 441.7,258.0 442.5,259.1 444.9,259.7 445.8,260.5 446.7,260.0 448.1,259.6 450.0,259.7 451.9,260.9 453.0,262.2 454.2,263.0 456.3,262.6 457.6,262.0 459.2,261.3 460.8,262.0 462.1,262.1 463.3,263.0 464.1,261.6 464.7,259.8 465.0,258.8 466.3,257.8 468.6,258.2 470.0,257.2 471.8,257.6 473.7,258.6 475.0,258.8 476.5,257.9 477.7,257.5 479.2,256.9 480.8,256.3 482.4,255.7 483.1,254.2 485.0,253.0 485.3,251.3 487.0,250.6 488.0,249.2 488.3,248.0 488.1,246.2 489.0,245.1 489.2,243.0 489.7,241.6 489.1,239.8 489.2,238.8"/><polyline points="459.2,261.3 460.2,262.7 460.5,264.1 461.7,266.3 462.2,267.6 463.5,269.1 465.0,269.7 466.2,270.4 467.9,269.7 470.0,270.5 471.4,269.4 472.5,268.5 473.3,268.0 472.0,266.6 471.7,264.7 473.6,264.2 475.0,263.0 476.7,262.5 478.1,263.2 479.3,263.5 480.8,263.0"/><polyline points="441.7,258.0 442.0,260.2 443.0,260.8 443.3,263.0 444.0,264.0 446.2,264.2 446.9,265.8 448.3,266.3 449.2,267.6 450.8,267.5 451.9,268.9 453.3,269.7 454.9,270.4 456.3,271.1 458.3,271.3 459.8,272.0 461.8,272.4 463.3,273.0"/><polyline points="415.0,253.8 416.5,255.0 418.3,255.5 419.9,256.6 420.6,256.9 421.7,258.0 422.9,258.9 425.0,258.8"/><polyline points="415.0,261.3 416.6,262.2 417.6,262.6 419.2,263.0 421.1,263.9 422.1,263.9 423.3,264.7 424.6,264.8 426.0,264.3 427.5,263.8"/><polyline points="421.7,258.0 422.3,260.1 423.1,261.1 423.3,263.0 423.3,264.4 424.4,266.4 425.0,268.0 426.2,270.1 426.2,271.7 427.5,273.0"/><polyline points="415.0,238.0 416.5,239.2 417.3,239.4 418.3,240.5 419.8,241.7 420.8,242.6 421.7,243.0 420.7,244.2 420.0,246.3 418.4,247.5 416.7,248.0 415.0,249.7"/><polyline points="631.7,196.3 629.8,195.8 628.7,194.7 627.5,194.8 625.3,195.5 624.6,196.9 623.7,198.0 624.7,198.5 625.6,199.9 627.0,200.5 628.2,202.1 628.7,203.8 627.1,205.0 626.7,205.2 625.3,206.3 624.0,207.6 623.0,208.0 621.2,208.8 620.0,209.8 618.6,210.2 617.8,211.3 616.1,212.1 614.9,212.5 613.7,213.0 612.3,214.3 610.8,215.0 610.5,216.6 608.7,218.0 607.4,219.4 607.3,220.1 606.3,221.6 605.3,223.0 604.5,224.1 603.2,226.9 602.8,228.0 602.1,229.4 600.7,230.5 599.5,232.2 598.6,233.3 597.5,235.0 596.1,236.4 594.5,237.2 594.0,235.2 593.8,233.9 593.4,232.3 593.7,231.3 593.7,230.1 593.6,228.5 593.7,226.3 594.7,224.2 594.9,222.9 595.3,221.3 595.7,220.2 596.7,218.1 597.8,216.3 598.8,215.2 599.7,212.9 600.3,211.3 601.1,209.6 602.5,209.1 602.8,207.2 603.4,205.5 604.2,204.8 605.3,203.8 607.0,203.9 607.8,203.0 607.4,204.2 606.2,206.3 605.4,207.4 604.1,208.5 602.8,208.8 601.0,209.0 600.3,210.4 598.7,210.5 597.2,210.7 595.3,211.3 594.0,212.2 592.1,212.3 591.2,213.0 589.5,212.9 588.4,213.2 587.0,213.8 585.0,213.2 583.9,212.7 582.0,213.0 580.6,212.9 578.2,214.0 577.0,213.8 575.0,215.1 574.1,215.9 572.0,216.3 570.6,217.3 569.5,218.9 569.3,219.6 567.8,220.5 566.7,221.4 566.0,222.7 564.5,223.8 563.6,224.7 562.3,226.3 563.3,226.7 565.1,228.1 566.2,228.8 567.0,228.8 568.7,228.0 569.7,228.7 571.2,229.7 571.1,231.1 572.1,232.8 572.0,234.7 571.5,236.3 571.6,238.4 571.7,239.7 570.9,241.9 570.5,243.4 570.7,244.7 570.5,246.0 569.9,247.8 569.5,249.7 569.0,250.7 568.8,253.0 568.7,253.8"/><polyline points="574.5,228.8 575.4,230.7 574.8,231.4 575.7,233.0 576.0,234.2 575.7,236.1 575.3,238.0 576.1,239.1 576.2,241.2 576.2,243.0 576.0,244.1 577.1,246.4 577.0,248.0 576.1,249.6 576.3,251.0 575.3,253.0 574.6,254.3 573.7,256.3 573.0,255.2 573.3,253.2 572.8,252.2 572.6,250.0 573.5,248.8 573.7,247.2 573.1,245.2 573.2,244.1 572.8,242.2 573.3,240.6 572.8,238.4 573.3,237.2 573.4,235.4 573.2,233.3 572.8,232.2 574.0,230.3 574.5,228.8"/><polyline points="580.3,253.8 581.3,253.0"/><polyline points="583.7,249.7 584.7,248.8"/><polyline points="587.0,245.5 588.0,244.7"/><polyline points="608.7,225.5 610.4,226.2 611.4,225.5 612.8,226.3"/><polyline points="619.5,230.5 621.2,231.7"/><polyline points="627.0,233.0 628.7,233.4 629.5,233.8"/><polyline points="628.7,168.8 630.7,169.7"/><polyline points="91.5,330.8 93.2,331.7"/><polyline points="90.7,347.0 92.7,347.2 94.0,348.0"/><polyline points="140.7,339.2 141.6,340.8 143.2,341.7"/><polyline points="82.3,348.3 83.0,349.0"/><polyline points="86.5,359.2 87.3,359.7"/><polyline points="134.8,351.7 136.5,352.5"/><polyline points="145.7,354.7 146.7,355.3"/><polyline points="110.7,359.2 111.3,359.5"/><polyline points="185.3,297.0 186.0,297.3"/><polyline points="158.2,364.2 159.3,364.5"/><polyline points="149.2,219.0 150.1,220.1 151.1,222.0 151.7,223.4 153.3,224.8 154.1,226.1 154.6,227.5 156.2,228.9 156.5,230.0 157.5,231.0 158.4,232.7 159.1,234.2 161.1,235.1 161.7,236.5"/><polyline points="235.2,284.2 236.4,285.5 237.7,286.7 238.5,287.4 239.3,289.2"/><polyline points="327.2,280.8 328.3,281.3"/><polyline points="330.5,281.7 331.7,282.0"/><polyline points="333.0,280.8 334.0,281.2"/><polyline points="478.0,312.5 479.7,312.0 480.8,313.0 480.8,314.7 479.9,315.4 479.7,317.0 478.0,315.8 477.7,314.5 478.0,312.5"/><polyline points="467.5,319.2 467.8,320.8"/><polyline points="465.8,336.7 466.2,337.2"/><polyline points="498.3,308.3 498.0,309.1 498.7,310.8"/><polyline points="499.2,314.2 499.5,315.8"/><polyline points="421.7,343.3 423.0,344.2"/><polyline points="440.0,357.5 441.7,358.3"/><polyline points="418.3,340.8 419.3,341.3"/><polyline points="540.3,296.7 541.8,295.9 542.8,295.8 542.6,297.3 543.5,298.6 543.7,300.0 544.4,301.0 545.2,303.0 545.3,304.2 545.7,305.4 547.0,307.5 545.7,307.1 544.5,306.7 543.0,305.4 542.0,305.0 541.2,302.9 540.7,301.7 540.7,300.4 540.1,298.4 540.3,296.7"/><polyline points="543.7,309.2 545.6,308.4 547.0,308.3 547.9,310.2 548.0,311.0 548.7,312.5 548.8,313.9 548.0,315.8 547.8,316.7 546.5,316.9 544.5,317.5 543.4,315.7 542.8,314.2 543.0,313.0 543.7,311.3 543.7,309.2"/><polyline points="535.3,314.2 536.7,313.3 536.9,311.7 539.0,310.9 539.5,309.2"/><polyline points="551.2,322.5 551.7,323.7 552.8,325.0 552.4,326.5 551.7,328.3"/><polyline points="584.5,331.7 586.2,331.6 587.8,332.5 589.0,333.3 590.3,334.2"/><polyline points="592.0,335.8 592.6,336.3 594.7,337.8 595.3,338.3 596.9,339.3 597.9,340.4 598.7,340.8 600.8,341.2 602.0,342.5"/><polyline points="607.0,348.3 608.0,349.7 608.7,351.7"/><polyline points="605.3,357.5 606.9,358.4 608.2,360.2 609.5,360.8"/><polyline points="627.0,351.7 628.4,352.2 629.5,353.3"/><polyline points="597.0,315.0 597.7,315.5"/><polyline points="613.7,315.0 614.3,315.3"/><polyline points="619.5,322.5 619.8,324.2"/><polyline points="610.3,309.2 610.8,309.5"/><polyline points="604.5,318.3 605.3,318.7"/><polyline points="622.8,327.5 623.3,328.3"/><polyline points="610.3,341.7 611.2,343.3 612.0,345.0"/><polyline points="612.8,350.8 613.9,352.0 613.7,353.8 614.5,355.0"/><polyline points="521.7,337.5 522.9,337.8 525.5,337.8 526.7,338.0 528.1,338.1 530.0,337.8 531.7,338.3 532.9,337.8 534.8,338.0 536.7,338.0"/><polyline points="537.5,340.0 538.9,338.9 540.4,338.4 542.5,337.5 544.1,337.0 545.0,336.3"/><polyline points="551.7,324.2 553.4,324.7 555.0,325.0"/><polyline points="557.5,327.5 558.8,328.1 560.8,328.3"/><polyline points="593.3,335.0 594.4,335.9 595.7,336.6 596.7,337.5"/><polyline points="600.0,340.0 600.9,340.5 601.9,341.7 603.3,342.5"/><polyline points="606.7,358.3 607.6,359.5 608.4,360.4 610.0,361.7"/><polyline points="241.8,397.0 242.0,398.4 241.5,400.3 241.0,402.5 241.0,403.7 240.9,405.6 240.8,406.5 241.7,408.6 241.3,410.3 241.2,411.7 241.9,413.5 241.9,414.4 242.7,416.2 244.0,417.8 244.0,418.8 245.2,420.3 246.1,421.4 247.5,422.4 248.5,422.8 250.5,423.9 251.8,425.0"/><polyline points="261.0,417.8 262.5,417.7 263.5,417.0 265.0,417.4 266.0,417.8 264.3,419.5 263.4,419.5 261.8,419.0 261.0,417.8"/><polyline points="296.8,424.5 299.0,424.9 300.2,426.2"/><polyline points="271.0,445.3 270.6,446.0 269.3,447.8 268.8,449.0 267.7,450.6 266.8,451.2 265.7,451.9 264.3,452.8 263.4,454.1 261.8,454.5 260.7,455.6 259.3,457.0 258.0,458.2 256.8,459.5 255.8,460.5 254.3,462.0 253.4,463.2 252.5,464.0 251.8,465.3 251.3,467.4 250.2,468.7 249.7,470.3 249.3,472.0 248.2,473.5 247.7,475.3 246.7,476.8 246.6,477.7 246.0,479.5 245.9,480.7 245.3,482.6 244.3,483.7 244.0,484.5 242.6,486.3 241.8,487.0 240.0,487.8 239.3,489.5 241.1,489.9 242.7,490.3 244.2,489.5 244.9,488.7 246.0,487.0 246.9,485.6 247.9,484.1 248.5,482.8 248.9,481.5 249.4,480.5 250.2,478.7 250.9,477.3 250.8,475.8 251.8,474.5 252.3,473.2 253.0,472.1 253.5,470.3 254.6,468.9 254.5,467.7 255.2,466.2 256.5,464.9 256.9,464.3 257.7,462.8 258.4,461.5 260.4,461.0 261.0,459.5 262.1,458.0 263.7,457.5 264.3,456.2 265.8,455.9 267.0,454.4 267.7,453.7 268.5,452.2 270.2,451.2 270.7,449.8 270.9,448.0 271.8,447.0 271.0,445.3"/><polyline points="259.3,463.7 259.7,465.4 259.6,467.5 260.1,468.2 260.2,470.3 260.5,472.3 260.8,473.9 260.9,475.1 261.8,477.0 262.4,478.8 262.4,480.0 262.5,482.1 262.7,483.7 262.2,485.5 262.3,487.5 262.1,488.6 261.8,490.3 261.6,491.7 262.5,493.4 261.9,495.2 262.5,497.6 262.7,499.0"/><polyline points="263.5,449.5 264.9,449.0 266.0,447.8"/><polyline points="241.0,477.0 239.3,478.7"/><polyline points="238.5,481.2 239.3,481.5 241.0,482.8"/><polyline points="197.7,488.7 199.1,487.6 200.1,486.8 201.0,486.2 202.3,486.2 203.9,487.2 206.0,487.0 207.3,488.1 208.5,489.5 207.6,490.6 206.8,492.0 207.7,492.2 209.7,492.0 211.0,491.2 212.6,491.9 214.1,491.8 216.0,492.8 218.1,492.9 219.1,492.7 221.0,492.0 223.0,492.3 224.4,493.6 226.0,493.7 227.7,493.9 229.1,493.0 231.0,492.8 232.9,492.0 234.1,492.1 236.0,491.2 237.6,490.7 239.3,489.5"/><polyline points="198.5,490.3 199.6,491.1 201.1,492.2 202.7,493.7 204.9,493.7 206.1,493.8 207.7,494.5 209.4,494.7 210.9,494.6 212.7,495.3"/><polyline points="321.3,499.0 322.2,497.9 323.8,496.2 325.1,495.1 326.3,494.3 328.0,493.7 328.8,491.9 330.3,491.0 330.7,490.1 332.2,488.7 332.8,487.3 334.8,486.0 335.5,485.3 337.1,484.9 338.8,483.7 340.6,482.7 341.4,482.8 343.0,482.0 344.3,482.8 345.5,483.1 347.2,482.8 348.6,482.0 349.9,481.3 351.3,481.2 353.2,480.6 355.1,480.7 356.3,480.3 357.9,479.8 359.8,479.5 361.3,479.5 363.4,478.8 364.7,479.0 366.3,478.7 367.7,478.9 369.5,478.6 371.3,478.3 373.1,477.7 374.5,477.0 376.3,477.0 377.6,477.8 379.5,478.1 381.3,478.3 382.6,478.8 384.5,479.1 386.3,479.5 387.8,479.3 389.5,479.8 391.3,480.3 392.6,480.8 394.4,480.8 396.3,481.2 398.0,480.6 399.3,479.9 399.7,478.4 401.3,477.8 401.9,476.6 403.7,474.9 404.7,473.7 405.8,473.0 407.2,472.0 408.2,472.8 409.2,474.1 409.7,475.3 411.1,475.6 411.9,477.0 413.9,477.4 415.0,477.8"/><polyline points="336.3,487.0 337.2,485.7 338.7,485.0 340.5,484.5 341.7,484.6 342.8,484.8 344.7,485.3 346.2,484.4 347.8,484.3 348.8,483.7"/><polyline points="610.3,407.0 612.0,407.8"/><polyline points="608.7,415.7 609.7,416.3"/><polyline points="613.7,420.0 614.3,420.3"/><polyline points="598.3,425.7 598.8,426.2"/><polyline points="603.7,462.8 605.0,464.0 605.8,465.8 607.0,467.0"/><polyline points="527.0,461.2 527.9,462.0 529.6,464.2 530.3,465.3 531.5,465.1 533.5,466.0 534.5,466.2 535.4,465.6 536.9,465.9 538.7,465.3 540.0,465.3 542.3,464.0 543.7,464.0 545.5,463.7 547.3,463.9 548.7,463.3 550.1,462.4 552.5,462.4 553.7,462.0 555.8,462.1 557.3,462.1 558.7,461.7 560.5,461.8 561.5,462.3 563.7,462.3 565.3,462.7 567.5,462.6 568.7,463.3 570.6,463.2 572.2,464.4 573.7,464.5 574.5,465.4 576.4,466.3 577.0,467.0 578.7,467.6 580.3,468.7"/><polyline points="119.0,570.0 118.4,568.3 118.7,566.7 118.5,565.1 118.8,564.2 118.5,562.5 118.8,560.7 119.8,559.3 120.9,557.6 121.0,556.2 119.7,555.4 118.4,553.8 117.4,552.8 116.5,551.2 117.8,550.3 118.6,548.9 120.2,547.5 122.0,546.6 123.9,546.2 125.2,545.0 125.7,543.1 126.8,541.3 127.8,540.0 126.7,538.1 126.3,536.9 126.0,535.0 124.9,533.7 123.6,533.3 122.8,532.5 121.3,531.1 119.8,530.0 119.5,529.8 117.3,528.7 116.5,527.5 116.2,525.9 114.4,524.2 114.0,522.5 114.3,520.5 114.9,518.6 115.2,517.5 117.4,517.2 118.7,517.1 120.2,516.2 122.1,516.4 123.3,516.7 125.2,517.5 126.0,516.6 128.1,514.8 129.0,513.8 129.9,513.1 131.9,512.6 132.8,511.2 133.9,510.9 136.2,510.3 137.2,509.0 139.0,508.8 140.7,507.9 141.6,507.6 143.0,507.2 144.5,506.2 145.7,504.8 147.4,504.5 149.2,503.7 150.2,502.5 151.9,502.1 152.7,500.6 153.6,499.5 155.2,498.8 156.9,497.7 158.6,497.1 159.9,497.4 161.5,496.2 162.7,496.6 164.8,497.6 166.5,498.8 168.3,497.9 170.0,498.5 171.5,497.7 172.8,497.5 174.1,498.0 175.9,498.0 177.3,498.4 179.0,498.8 180.8,499.9 182.8,500.0 184.0,501.2 185.3,501.5 187.2,501.7 188.4,501.7 190.2,502.5 191.6,502.8 193.9,503.6 195.3,504.0 196.5,503.8 198.6,503.6 200.0,502.6 201.4,502.9 202.8,502.5 203.4,501.3 204.9,500.0 205.2,498.8 204.5,497.3 203.2,496.7 201.9,494.7 201.5,493.8 200.9,492.0 199.4,490.6 199.0,488.8"/><polyline points="104.0,530.0 105.7,529.5 107.8,528.8 108.9,530.0 110.3,531.1 111.5,532.5 110.7,533.8 111.1,535.9 110.2,537.5 108.2,537.5 106.6,536.2 105.2,536.2 105.0,534.4 104.6,533.2 104.0,531.6 104.0,530.0"/><polyline points="105.2,552.0 106.4,552.5 108.5,553.0"/><polyline points="111.5,557.5 112.6,558.3 113.5,560.0"/><polyline points="116.5,538.8 117.6,537.7 119.0,537.5"/><polyline points="87.8,571.2 88.5,570.6 89.5,569.3 90.2,568.0 91.8,568.2 93.3,569.6 94.0,570.0 94.8,571.9 96.5,573.0"/><polyline points="102.8,570.0 103.9,570.3 105.8,571.4 106.5,572.0"/><polyline points="247.0,520.0 245.9,520.2 244.6,520.8 242.6,521.7 241.5,522.5 239.4,522.3 238.1,521.7 237.0,521.5 235.2,521.2 234.4,522.1 233.2,522.8 232.0,523.9 229.9,524.5 229.0,525.0 228.0,527.0 227.5,528.7 226.5,530.0 226.9,531.5 228.4,533.8 229.0,535.0 230.8,535.1 232.2,535.8 233.7,537.2 235.2,537.5 236.4,538.6 238.6,538.5 239.6,539.3 241.5,540.0 243.2,540.7 243.8,540.7 245.2,542.2 247.0,542.5"/><polyline points="415.0,475.0 413.3,475.4 412.0,475.8 410.7,475.5 409.5,476.2 408.4,475.8 406.7,475.6 405.5,474.2 403.3,473.9 402.0,473.8 400.5,474.9 399.3,474.7 397.2,476.4 396.2,476.6 394.5,477.5 393.0,477.4 391.9,477.9 390.4,478.4 388.0,478.3 387.0,478.8 385.2,478.9 384.1,477.7 382.1,477.8 381.0,477.8 379.5,477.5 377.9,477.7 376.0,478.4 374.8,478.2 373.5,479.6 372.0,479.5 370.0,479.3 369.2,479.6 367.3,480.1 365.7,480.4 364.5,480.5 363.0,480.8 362.0,479.6 360.1,480.2 358.9,480.0 357.0,479.5 355.6,480.0 353.8,480.0 352.8,481.0 351.5,481.1 349.5,481.2 347.7,481.9 346.6,481.9 345.0,482.0 343.2,482.5 342.1,483.3 340.3,484.2 339.3,485.8 338.2,486.2 337.0,487.4 335.5,488.5 334.5,490.0 333.5,491.3 332.3,493.7 332.0,495.0 331.1,496.6 330.4,498.1 329.5,500.0 327.9,500.8 326.8,502.3 325.8,503.8 324.7,504.7 323.7,505.4 322.5,506.7 320.8,507.5 319.0,507.9 318.3,509.5 316.8,510.1 315.7,510.9 314.5,511.2 312.4,512.1 311.6,512.7 309.5,513.8 308.0,514.2 306.6,515.4 306.0,516.3 304.5,517.5 303.5,518.4 302.7,520.4 301.9,520.9 300.8,522.5 300.6,524.7 300.0,525.4 299.5,527.5 301.1,529.2 301.8,529.6 303.2,531.2 304.6,532.1 307.0,533.1 308.2,533.8 310.4,534.3 311.4,535.7 313.2,536.2 315.1,536.6 316.8,536.9 318.2,537.5 316.9,538.7 316.1,540.1 315.8,541.2 314.0,541.9 312.7,542.2 311.0,542.6 309.5,543.8 308.4,544.4 306.9,544.5 304.9,545.9 303.2,546.2 301.8,546.6 300.4,547.4 299.8,548.0 298.6,549.2 297.0,550.0 296.1,551.3 295.2,552.7 294.3,553.6 293.2,555.0 292.6,556.0 291.6,557.8 290.7,558.5 289.5,560.0 288.5,561.5 286.9,561.6 285.8,563.3 284.5,563.8 282.4,564.0 281.1,565.6 279.5,566.2 278.1,565.3 276.7,564.3 274.5,563.8 273.5,564.5 271.5,565.8 270.8,567.5 269.0,568.8 268.3,569.7 267.5,571.1 265.8,572.5 264.1,570.9 263.5,570.5 262.0,568.8 261.0,566.7 261.1,565.3 260.7,564.1 259.5,562.5 259.0,560.8 258.6,559.3 257.4,558.3 257.0,556.2 256.2,554.8 255.7,553.1 255.8,551.2 256.9,550.8 257.8,549.7 259.5,548.8 260.7,548.0 262.5,546.4 263.2,545.0 262.5,543.1 262.2,541.6 262.0,540.0 260.5,538.8 259.8,538.5 258.2,537.5 256.4,538.5 254.6,538.4 253.2,538.8 251.6,537.9 251.2,536.0 249.5,535.0 248.5,534.1 247.0,532.5"/><polyline points="254.5,467.5 254.1,469.0 254.1,471.3 253.5,472.7 253.8,474.1 253.5,476.3 253.2,477.5 252.5,479.6 252.3,481.1 252.4,482.2 252.0,484.7 250.9,485.3 250.8,487.5 249.9,489.7 249.4,491.3 249.1,492.8 248.6,493.8 248.9,495.4 248.2,497.5 247.7,499.6 247.7,501.3 247.0,502.5"/><polyline points="273.2,535.0 275.0,533.2 275.5,532.8 277.2,530.7 278.2,530.0 279.8,529.1 281.3,528.3 282.4,528.7 284.5,527.5 285.2,529.2 286.0,530.0 286.9,531.2 288.2,532.5 287.6,534.2 287.4,535.8 287.5,536.6 287.1,538.5 287.0,540.0 286.2,541.1 284.2,543.0 283.7,544.0 282.0,545.0 280.2,545.0 278.6,545.2 276.8,545.9 275.8,546.2 274.4,545.1 273.1,543.2 272.0,542.5 272.5,541.2 272.5,539.6 273.0,538.5 273.4,536.7 273.2,535.0"/><polyline points="250.8,525.0 251.9,525.6 253.2,527.2 254.5,527.5 255.3,528.6 256.3,529.6 257.9,530.7 258.2,532.5"/><polyline points="415.0,477.5 415.9,476.7 416.2,475.1 417.1,473.5 417.7,472.1 418.8,471.2 420.4,470.6 421.7,468.9 422.7,468.2 423.8,467.5 425.6,466.7 426.9,466.4 428.8,465.0 429.5,464.3 431.6,463.1 432.6,462.7 433.8,461.2 435.1,461.1 437.4,460.6 438.8,460.5 439.9,461.5 440.7,462.9 441.8,463.7 442.5,465.0 444.2,465.4 445.3,465.7 446.9,466.4 448.8,466.2 450.3,466.7 451.9,466.6 453.1,466.4 455.0,467.0 457.0,467.5 458.2,467.9 460.0,468.0 461.2,468.8 461.3,470.8 462.0,472.2 462.5,473.8 462.5,475.7 462.3,476.4 461.4,478.8 461.2,480.0 461.2,481.1 460.0,482.9 459.5,484.5 459.5,486.2 459.3,487.8 458.4,488.9 457.9,491.5 457.5,492.5 458.8,493.8 459.6,492.1 460.0,491.0 460.9,488.7 461.2,487.5 462.2,486.1 462.8,484.7 463.4,483.6 464.1,482.0 465.0,481.2 465.6,480.1 466.4,478.4 468.1,477.3 468.8,476.2 469.8,474.7 471.6,473.3 472.6,472.9 473.8,471.2 474.7,470.4 476.6,469.9 477.4,468.5 478.7,468.1 480.0,467.5 481.8,466.6 483.0,466.4 485.0,465.5 486.2,465.0 487.7,464.8 489.8,464.0 491.5,464.3 492.5,463.8 493.9,463.6 495.4,462.7 497.5,462.7 498.8,462.5 500.3,462.2 502.3,462.2 502.9,461.7 505.0,461.2 506.5,460.8 508.5,460.3 509.7,460.4 511.2,459.5 512.7,459.9 514.4,460.7 516.1,461.1 517.5,461.2 519.0,461.1 520.8,461.9 522.5,462.5 523.8,462.5 525.0,461.8 526.6,462.0 528.8,461.2 529.1,462.5 530.7,464.7 531.2,466.2 532.3,466.1 534.6,465.6 535.4,465.5 537.5,465.0 539.0,464.8 541.2,464.7 542.6,463.7 543.8,463.8 545.1,463.5 546.3,463.7 548.2,462.6 550.0,462.5 551.4,461.9 553.5,461.9 554.7,461.5 556.2,461.2 557.3,461.3 559.8,462.2 561.3,461.9 562.5,462.5 563.7,462.3 565.7,463.0 567.1,463.4 568.8,463.8 570.4,463.9 572.2,464.0 573.9,464.7 575.0,465.0 575.8,466.0 577.5,467.4 578.8,468.8 580.2,469.1 581.3,470.2 583.0,470.5"/><polyline points="467.5,422.0 468.5,422.8"/><polyline points="571.9,470.0 573.2,470.4 575.2,470.4 576.3,471.0 577.7,471.1 579.3,470.8 580.4,471.2 582.7,471.1 584.6,471.6 585.8,472.5 587.6,471.9 589.6,472.1 591.1,471.8 592.4,471.6 593.8,472.6 594.6,473.0 596.4,473.7 597.3,474.9 599.0,475.6 599.3,476.5 601.3,478.5 602.2,479.0 603.2,480.0 604.1,481.1 605.5,481.5 607.3,480.8 608.3,481.1 610.4,480.6 611.2,482.1 612.9,482.5 614.5,483.9 615.4,484.9 616.1,486.4 615.6,487.3 615.5,488.9 614.5,490.5 615.1,491.4 615.3,493.7 615.3,494.5 613.5,493.2 612.0,492.9 610.2,493.9 608.7,494.5 607.9,496.0 607.2,497.2 607.1,498.6 606.1,499.8 604.6,501.1 604.3,502.0 603.9,503.4 603.0,505.2 603.7,507.1 604.0,507.9 603.8,509.3 604.1,510.5 605.2,512.0 605.5,513.4 606.8,514.3 607.1,516.5 607.9,517.5 609.3,517.9 610.4,518.3 611.2,518.3 612.8,519.1 611.8,521.2 611.2,522.4 611.3,523.4 611.1,524.6 610.4,526.5 609.3,527.4 607.9,527.3 606.4,528.3 605.4,527.9 603.8,528.9 602.8,530.2 601.9,531.9 601.4,533.0 600.7,534.7 600.6,535.3 600.6,537.1 599.8,538.3 599.0,540.7 598.1,542.0 599.0,543.1 599.2,544.2 600.6,545.3 600.4,547.1 600.7,548.6 601.4,550.2 601.8,551.7 602.6,553.1 603.0,555.1 603.5,557.0 604.5,558.2 605.5,559.2 606.7,560.4 607.1,561.7 605.4,561.8 604.8,562.3 603.0,563.3 604.6,564.1 606.3,564.9 607.0,565.7 608.1,566.6 609.6,567.4 610.4,568.3 610.9,569.5 612.0,570.7 612.1,571.5 612.8,573.1"/><polyline points="404.9,278.5 405.4,280.7 406.5,282.0 407.1,283.8 407.2,285.2 408.3,286.4 409.0,287.6 409.5,288.8 409.8,290.5 410.2,291.4 410.6,293.0 411.6,294.3 412.1,296.0 413.6,296.8 414.1,298.6 414.7,299.5 415.3,301.4 415.7,302.4 417.0,303.2 418.0,304.9 419.2,306.2 421.0,307.2 421.5,308.8 423.3,309.1 424.1,310.3 425.7,310.0 427.1,309.3 429.0,309.0 430.2,309.1 432.3,308.7 433.7,308.3 433.3,310.5 433.2,311.2 432.7,312.9 431.7,314.2 430.6,315.3 429.4,317.5 428.7,318.8 427.9,319.7 426.5,320.9 425.6,322.6 424.0,323.6 422.9,325.7 421.8,326.4 421.3,327.6 419.7,328.2 418.7,329.1 417.9,330.9 416.4,331.7 416.3,333.1 415.3,334.4 415.2,335.5 415.8,337.8 415.7,339.4 415.7,340.9 416.5,341.6 417.2,343.2 417.8,345.2 417.6,346.5 417.3,348.7 416.7,350.4 415.8,351.3 414.7,352.6 413.4,353.4 412.2,354.7 411.2,356.4 409.5,357.5 409.8,358.7 409.8,360.4 409.7,361.3 409.1,363.2 408.5,364.6 406.6,365.8 405.7,366.5 405.3,367.5 405.4,369.1"/><polyline points="408.8,279.4 408.2,280.4 407.7,282.0 408.8,282.0 409.8,283.9 411.0,285.1 411.8,286.3 412.4,287.9 413.5,289.1 414.3,290.6 414.4,291.1 415.2,292.9 416.4,294.9 417.2,296.2 417.7,297.7 418.9,299.3 418.7,300.4 419.4,301.5 420.6,303.3 421.4,305.0 421.5,306.8 422.9,306.7 424.1,306.8 425.4,305.8 427.0,305.9 428.7,304.9 430.0,303.9 430.7,303.1 432.6,302.5 433.8,302.1 434.8,301.0 435.9,300.6 437.4,300.2 439.4,299.4 440.3,298.3 442.4,297.6 443.2,297.0 443.9,296.2 445.2,294.5 446.1,293.3 446.7,291.3 445.6,290.3 444.7,289.3 443.7,288.6 441.7,287.9 442.1,286.2 441.4,285.1"/><polyline points="545.5,260.1 544.5,260.1 542.7,260.9 541.8,261.0 540.7,262.2 540.8,261.0 541.6,258.9 540.4,258.1 539.2,259.5 538.1,260.3 536.7,260.7 535.8,261.4 535.4,262.8 537.1,264.2 537.8,265.3 538.5,264.8 540.1,264.2 541.8,264.6 542.7,264.9 542.3,266.1 541.0,267.1 540.0,267.2 539.3,268.4 537.8,269.3 539.3,271.0 539.3,272.4 540.3,273.5 541.0,275.0 541.8,275.5 541.8,276.9 539.7,277.8 541.6,278.7 541.3,280.1 541.3,281.1 539.8,282.7 539.3,283.7 538.4,285.1 537.4,286.8 535.8,288.1 534.3,289.6 532.8,290.6 531.5,291.2 530.2,291.4 528.9,291.8 528.2,292.2 526.6,292.6 525.3,293.5 524.3,293.4 523.9,294.9 523.1,292.9 521.3,292.6 520.2,292.9 518.5,294.0 517.4,295.5 517.2,296.2 517.2,297.3 518.2,298.9 519.2,299.9 519.8,300.8 521.0,301.7 522.1,303.3 522.2,305.2 522.5,306.5 522.4,308.3 521.9,309.4 520.5,309.9 519.0,310.5 518.5,311.4 516.7,312.7 515.8,313.1 515.8,311.4 515.2,310.5 513.8,310.3 512.9,309.1 511.8,307.7 509.8,306.9 509.7,305.7 508.3,305.8 508.1,308.0 507.9,308.7 507.1,310.3 507.2,312.2 508.3,313.4 509.0,315.4 510.6,316.0 511.8,317.0 513.2,318.8 513.6,320.6 513.5,322.1 513.9,322.8 514.7,324.3 513.6,324.4 513.1,324.1 511.6,322.9 510.3,321.8 509.2,320.3 508.6,319.0 508.7,317.6 507.8,315.9 506.3,314.2 505.7,312.8 506.1,311.1 506.3,309.3 506.3,308.5 506.0,306.5 505.6,305.6 505.4,304.1 505.2,302.7 504.8,301.7 503.7,300.5 502.5,301.0 501.1,302.1 499.6,301.7 500.0,300.3 499.9,299.4 499.4,297.9 498.8,296.6 498.5,295.7 497.3,294.5 496.0,292.6 495.7,291.3 494.2,291.3 492.7,292.2 491.3,292.6 489.9,292.4 488.4,293.2 488.1,294.5 487.2,295.4 485.6,295.8 484.6,297.5 483.8,298.1 482.7,299.3 481.2,300.2 479.5,301.7 478.0,302.5 477.8,304.9 478.1,306.5 477.5,307.3 477.4,308.8 477.5,310.7 476.4,312.2 474.9,312.8 473.8,314.0 472.5,312.8 471.8,311.1 471.4,310.2 470.8,308.5 469.7,306.5 469.7,304.9 469.1,303.6 467.7,301.7 466.9,300.6 466.9,299.4 467.2,297.8 466.6,297.0 466.8,295.4 466.5,294.5 466.3,293.2 465.7,293.4 464.3,294.0 462.8,293.9 461.8,292.3 461.1,291.8 462.8,290.6 460.7,289.9 458.5,288.9 457.8,287.4 457.0,286.4 455.2,286.5 453.9,286.8 452.5,287.3 450.1,286.8 448.2,286.4 447.0,286.4 446.0,285.9 444.0,286.1 443.0,285.0 442.5,284.1 441.4,283.5 439.8,283.7 439.1,284.4 437.1,284.1 435.6,282.7 433.6,282.0 432.8,279.9 431.7,278.2 430.1,277.8 429.4,278.5 428.5,279.6 429.6,281.1 430.4,282.3 431.4,283.7 432.0,284.9 433.0,287.1 434.2,288.3 434.7,286.7 434.2,285.6 433.7,285.2 433.3,287.3 434.1,288.3 435.6,288.4 437.9,288.6 438.9,288.0 440.0,286.6 441.4,285.1"/><polyline points="545.5,260.1 546.9,260.9 546.5,262.6 548.1,264.4 549.0,265.7 548.5,267.6 548.8,269.5 548.7,270.6 550.4,270.0 552.2,269.5 553.1,268.5 553.4,267.4 553.3,265.7 552.3,263.8 551.7,262.6 551.3,261.4 550.4,260.3 551.6,259.7 552.9,258.4 553.7,257.9 554.4,257.0 555.3,255.2 556.3,254.0 557.3,253.3 559.1,254.2 560.4,252.9 561.7,251.6 562.6,251.0 564.0,249.9 564.5,249.0 565.7,247.3 566.2,245.9 566.7,245.2 568.0,244.0 569.2,242.5 570.0,240.6 570.0,239.3 569.7,237.2 570.3,235.8 571.1,234.8 571.6,232.9 571.6,231.7 571.3,230.1"/><polyline points="571.8,257.1 572.4,258.3 572.4,259.9 572.6,261.8 571.0,263.4 571.0,265.7 570.4,267.6 570.9,268.2 569.2,268.9 568.3,269.1 567.7,270.0 566.8,270.2 564.9,270.2 564.6,269.7 564.1,270.8 563.1,272.2 562.0,270.8 560.3,270.2 558.0,270.8 555.7,271.3 555.6,270.6 557.3,269.9 558.0,268.7 560.3,268.5 562.6,268.4 563.4,267.0 564.6,265.5 565.4,264.8 565.2,266.1 567.2,264.9 567.8,263.8 568.7,262.8 569.5,261.4 569.5,260.3 569.5,258.7 570.7,257.5 571.8,257.1"/><polyline points="555.6,271.5 556.8,272.1 557.1,273.5 556.3,275.2 556.2,276.0 555.3,276.6 554.5,276.2 554.7,273.9 553.9,273.2 554.2,272.2 555.6,271.5"/><polyline points="558.0,271.3 559.4,271.1 560.6,270.8 561.4,271.7 560.6,272.6 558.8,273.5 557.9,272.8 558.0,271.3"/><polyline points="570.0,256.8 571.3,256.2 570.9,254.8 572.3,254.6 573.5,255.6 574.4,255.8 575.1,254.8 576.1,254.1 577.6,253.3 577.6,251.2 575.9,251.4 574.1,250.4 573.2,249.9 572.3,248.6 572.0,250.6 571.9,251.9 571.5,253.1 570.0,253.3 569.2,254.8 570.0,256.8"/><polyline points="541.3,286.8 542.0,287.1 541.5,288.4 541.2,289.6 540.4,291.2 540.1,292.1 539.2,290.4 539.2,289.1 540.4,287.1 541.3,286.8"/><polyline points="521.6,296.6 522.8,295.3 524.5,295.2 525.1,296.0 524.0,297.6 522.8,298.2 521.6,297.8 521.6,296.6"/><polyline points="501.1,317.9 503.1,318.5 504.4,318.5 505.0,319.7 506.3,320.6 507.6,321.5 508.3,322.4 509.8,323.1 511.2,324.4 511.8,324.9 513.5,325.6 514.1,327.9 515.2,329.3 516.6,330.1 517.5,330.2 517.8,331.4 517.3,333.1 517.2,335.2 515.3,334.9 514.9,333.9 513.5,333.6 511.8,332.5 510.4,331.6 509.8,330.4 509.5,329.3 508.7,327.9 507.6,326.5 506.9,325.9 506.3,323.8 504.6,322.7 503.9,322.1 502.9,320.8 501.2,319.1 501.1,317.9"/><polyline points="516.2,336.8 517.5,335.4 519.0,335.5 521.0,336.0 522.0,336.1 523.6,336.9 525.0,336.2 526.0,336.1 527.6,336.9 528.2,338.0 530.5,338.3 530.3,339.5 529.2,339.9 527.7,339.2 526.7,339.0 525.1,339.1 524.2,338.2 522.8,338.3 520.5,338.3 518.2,337.7 516.2,336.8"/><polyline points="522.1,324.1 523.0,323.4 524.6,323.6 525.4,324.3 525.7,322.3 526.4,322.1 528.2,321.5 528.5,320.2 529.7,319.4 530.4,318.7 532.0,318.0 533.0,317.3 533.8,315.9 535.4,316.8 536.0,318.0 537.7,318.5 536.0,319.9 535.2,321.4 535.8,323.1 537.4,324.9 535.7,325.2 535.1,326.4 533.9,327.2 533.5,328.7 533.2,331.0 532.8,332.3 530.8,332.6 529.1,331.6 527.9,331.5 526.3,331.7 524.9,331.3 523.9,330.8 523.6,328.5 522.4,327.3 522.1,325.6 522.1,324.1"/><polyline points="538.9,325.2 540.4,324.4 541.6,325.1 543.5,325.0 544.6,324.9 546.4,324.0 545.8,325.6 543.5,325.8 541.2,325.6 539.2,326.4 539.2,327.8 541.2,327.8 542.9,327.8 543.9,327.8 542.7,329.1 541.2,329.4 542.4,331.4 543.5,333.2 542.4,333.7 541.2,332.8 540.3,331.0 539.5,332.2 539.0,333.8 539.5,334.8 538.1,334.8 537.6,333.3 538.1,331.7 537.1,330.5 537.4,328.8 538.1,328.2 538.4,326.7 538.9,325.2"/><polyline points="523.0,323.4 524.3,324.9 525.6,324.4 526.6,324.1 528.9,324.4 530.9,323.4 531.5,321.8 532.2,320.0 533.7,320.1 535.2,320.0"/><polyline points="529.9,319.4 530.6,320.3 531.7,318.9"/><polyline points="489.6,240.1 490.6,239.8 492.7,239.0 494.0,237.8 495.3,236.8 496.0,236.5 497.5,236.7 499.0,237.9 500.6,238.2 502.0,236.9 502.7,235.4 504.0,234.3 505.2,233.4 506.4,234.0 508.3,234.0 509.5,234.7 511.3,234.8 512.0,235.5 513.4,237.0 514.4,237.7 516.4,238.2 518.0,238.5 519.0,238.2 520.8,238.9 521.6,238.7 523.0,239.8 525.1,239.9 526.9,239.3 527.9,238.3 529.7,237.7 530.7,238.2 533.0,238.2 533.8,238.7 532.8,239.5 532.8,241.0 533.9,242.2 535.7,242.5 536.6,243.3 537.2,244.1 538.6,245.8 536.4,246.3 535.1,246.2 533.5,247.9 532.0,248.4 531.0,249.0 529.1,249.3 527.3,248.8 526.3,249.5 526.6,250.9 526.6,252.3 525.0,252.9 523.6,254.5 522.8,255.0 521.3,255.9 519.9,255.8 517.9,256.1 515.9,256.6 514.7,256.6 512.5,255.2 511.0,255.4 509.8,254.8 508.0,254.2 506.7,254.9 504.6,254.0 502.9,254.4 502.6,252.8 501.4,251.2 499.5,250.6 498.8,250.8 497.2,250.1 495.6,249.2 494.5,249.1 494.5,247.3 494.0,245.8 492.1,244.5 491.1,242.7 490.5,241.6 489.6,240.1"/><polyline points="533.8,238.7 535.4,238.5 536.6,237.4 538.1,237.5 538.9,235.4 539.1,234.1 539.7,232.6 541.4,231.8 542.4,230.7 544.2,229.6 545.7,230.1 546.4,231.2 548.1,231.4 548.6,232.2 548.7,234.6 549.2,235.3 550.2,237.2 550.4,238.2 552.0,239.4 552.9,239.6 555.0,241.0 557.2,241.6 557.9,241.0 559.8,242.2 561.9,241.9 561.0,243.6 561.2,245.1 560.7,246.2 559.3,247.5 559.1,249.5 557.7,249.3 555.7,249.9 556.4,252.1 556.0,253.8 555.3,255.2 553.5,256.1 552.1,256.3 551.1,256.8 549.3,256.4 547.6,258.0 547.2,259.3 545.5,260.1"/><polyline points="489.6,240.1 488.2,241.7 487.9,243.0 487.0,244.0 486.1,245.1 484.3,245.4 482.3,245.1 481.4,246.5 481.5,248.9 479.6,249.0 477.7,249.5 477.8,250.4 478.4,251.8 478.4,253.8 478.1,255.8 476.7,256.7 474.6,256.8 473.0,257.5 471.5,259.1 470.0,259.5 468.2,260.7 468.6,261.7 469.7,263.7 469.7,265.1 470.8,265.9 472.3,267.6 473.7,268.5 474.6,268.5 475.5,269.6 475.5,271.4 476.1,273.2 475.4,274.1 476.4,275.0 476.9,276.7 478.2,278.0 479.2,278.2 481.0,278.2 482.3,279.4 483.3,279.8 485.3,281.1 487.1,281.6 488.4,281.8 489.9,282.2 491.1,283.2 492.7,281.7 493.9,282.1 495.4,282.3 496.0,283.9 497.7,283.6 499.1,282.3 500.4,281.8 501.6,281.0 502.2,279.7 503.5,280.1 504.3,281.5 505.5,282.6 506.3,282.9 506.1,284.7 506.0,285.8 504.9,287.3 504.6,287.9 506.4,288.8 506.7,290.5 507.1,291.8 508.3,292.1 510.1,292.9 511.6,291.4 512.9,290.9 514.4,290.8 516.7,290.1 518.5,290.8 518.9,291.8 520.2,292.9"/><polyline points="459.6,289.3 461.6,289.0 462.9,288.7 463.9,287.9 463.6,287.1 462.8,284.9 461.9,283.7 462.8,282.8 463.7,281.7 465.4,281.1 466.8,280.5 467.1,279.2 468.6,278.3 469.2,276.7 469.6,275.2 469.2,273.5 470.0,272.3 471.5,270.4 472.9,269.6 474.6,268.5"/><polyline points="479.2,278.2 478.4,279.4 478.0,280.6 480.2,281.0 481.4,282.4 483.0,283.0 484.8,283.9 486.4,284.3 488.4,284.8 489.9,284.7 489.6,283.1 490.2,282.2"/><polyline points="491.1,283.2 491.4,284.2 492.7,284.6 494.0,283.7 496.0,283.9"/><polyline points="491.3,292.6 491.2,291.6 490.2,289.4 490.2,287.9 490.5,286.6 490.4,284.9 492.7,285.4 494.2,286.3 494.9,286.3 496.5,287.1 495.2,288.4 495.0,289.3 496.5,290.4 496.2,291.8 496.5,293.7"/><polyline points="496.5,290.4 498.0,288.8 499.6,287.7 500.2,286.3 500.6,285.2 500.9,283.7 502.2,283.2 503.0,281.7 504.3,281.5"/><polyline points="507.1,291.8 507.2,292.7 508.3,294.7 506.6,294.9 505.2,295.8 504.6,297.2 504.8,298.6 506.0,300.1 506.1,301.3 505.5,303.3 506.0,305.2 507.1,306.5 507.7,308.3 506.6,309.1 506.3,310.8"/><polyline points="510.1,292.9 509.2,295.0 509.2,296.2 510.1,296.2 510.0,297.3 510.3,298.6 511.5,298.2 512.7,298.6 514.4,298.1 515.6,299.5 515.6,301.1 516.8,302.4 516.8,304.6 518.5,304.1 519.8,303.8 519.8,301.7 518.2,300.2 517.5,298.6 516.2,297.9 515.8,296.9 514.4,296.2 514.9,294.7 512.9,294.0 512.6,292.2 511.6,291.4"/><polyline points="512.7,308.5 512.7,306.7 511.9,305.5 514.2,305.2 515.6,304.3 516.8,304.6"/><polyline points="519.8,303.8 519.9,305.4 519.8,307.6 518.1,307.7 517.5,308.5 517.2,309.6 515.2,310.5"/><polyline points="508.4,316.6 510.0,317.7 511.5,317.0"/><polyline points="448.9,268.4 449.0,269.6 448.3,271.7 447.8,273.2 448.4,274.2 448.6,275.9 449.8,276.7 448.7,277.4 448.4,278.9 450.2,279.1 450.9,279.6 452.5,279.4 453.5,278.7 454.7,279.3 456.7,278.7 456.7,276.7 457.8,276.7 459.6,275.9 461.3,275.1 461.4,274.0 462.4,272.2 463.9,271.0 463.9,269.5 464.5,267.9 464.8,267.0 466.2,266.7 467.8,265.6 469.7,265.1"/><polyline points="448.9,268.4 450.6,267.9 451.6,268.0 452.4,267.2 453.9,267.0 455.0,265.8 456.2,264.9 457.9,265.3 459.3,265.7 460.8,264.6 461.6,264.6 463.3,264.6 464.6,264.0 464.8,266.3 466.0,265.1 467.7,264.9 469.7,265.1"/><polyline points="448.4,278.9 449.3,279.9 450.3,282.1 451.3,283.4 450.0,284.7 449.5,286.8"/><polyline points="437.7,265.1 439.3,264.0 440.9,263.6 442.9,263.2 444.1,263.9 446.0,264.8 447.0,265.1 448.9,266.5 448.9,268.4"/><polyline points="423.8,260.5 422.6,261.1 422.8,262.4 423.8,264.0 423.8,265.3 424.2,266.4 425.6,268.0 425.4,269.7 424.7,271.3 425.9,272.8 427.1,274.6 427.8,275.0 428.2,276.7 429.6,278.5"/><polyline points="423.8,260.5 425.6,261.3 426.4,262.0 427.2,260.9 428.7,260.5 429.8,261.4 430.1,263.0"/><polyline points="431.0,264.8 431.7,265.2 433.3,266.1 435.2,265.9 436.5,265.4 437.7,265.7 437.7,263.6 437.9,261.8 436.8,261.0 436.3,259.9 436.2,257.9 436.3,256.8 438.2,256.3 438.9,255.8 436.9,254.5 435.6,254.2 435.1,253.0 433.7,251.8 433.6,250.6 433.6,248.9 434.8,247.7 435.1,246.5 436.3,245.3 434.9,245.4 433.3,245.1 431.5,246.1 430.5,246.5 428.7,248.0 428.4,249.6 427.1,250.6 427.9,252.0 427.9,253.8 429.1,254.5 429.4,256.0 429.9,257.5 431.0,258.7 432.2,259.3 431.6,260.1 430.2,261.8 430.1,263.0 431.0,264.8"/><polyline points="410.6,267.6 411.4,266.1 412.4,265.6 414.1,266.1 416.0,265.4 418.0,265.5 420.1,265.5 421.6,265.7 423.8,265.3"/><polyline points="418.7,256.8 420.3,257.7 421.8,257.7 422.1,259.7 423.8,260.5"/><polyline points="416.4,252.9 418.2,253.3 420.3,253.3 421.3,254.4 423.3,254.4 424.6,255.2 426.4,256.0 427.9,256.5 429.4,256.0"/><polyline points="421.8,257.7 424.1,257.3 425.2,257.2 426.4,256.0"/><polyline points="424.1,257.3 424.8,258.7 425.7,259.5 426.4,260.9 426.4,262.0"/><polyline points="420.1,265.5 419.9,266.7 419.4,268.5 418.3,270.0 416.7,271.3 415.6,271.5 414.6,272.4"/><polyline points="409.8,273.7 411.5,274.4 412.9,273.6 414.6,272.4 415.2,274.6 413.0,275.1 411.8,275.9 413.4,277.6 412.6,278.5 411.1,279.6 410.3,279.9 408.8,279.4"/><polyline points="415.2,274.6 417.0,275.1 417.7,276.0 419.5,276.6 420.6,277.6 422.3,279.0 423.6,279.9 424.6,279.7 426.4,280.1 427.9,278.5 428.5,279.6"/><polyline points="420.6,301.1 421.3,299.5 423.3,299.5 424.7,300.3 426.8,300.2 427.5,298.8 429.0,298.2 430.5,298.0 432.3,297.1 433.1,296.9 434.8,297.0 435.3,298.2 435.5,299.9 436.0,300.8"/><polyline points="434.8,297.0 436.5,296.8 438.4,295.6 439.4,295.3 440.4,293.6 440.5,292.1 439.7,290.9 439.8,290.2 440.4,288.0 441.4,287.3"/><polyline points="440.5,292.1 438.6,291.4 437.8,291.5 435.7,290.6 434.9,289.5 434.2,288.3"/><polyline points="422.9,189.2 421.6,189.6 419.5,189.2 418.9,190.5 417.5,191.4 417.4,193.0 416.4,194.1 415.7,195.6 414.9,195.9 413.4,197.3 411.8,198.3 411.1,198.4 409.8,197.1 408.5,196.6 408.4,194.9 407.7,193.5 407.8,192.4 407.0,191.0 407.2,189.2 408.9,189.6 410.3,190.0 412.2,190.3 413.2,190.0 415.7,190.2 417.2,190.0 417.8,188.3 418.5,187.7 418.4,186.1 417.0,184.7 416.6,183.1 414.9,182.1 413.7,181.6 413.0,179.9 411.7,179.1 410.3,178.3 409.0,178.3 406.8,177.4 405.7,177.4 403.9,176.3 402.7,175.6 401.1,173.7 400.5,172.5 399.6,171.1 397.6,170.9 397.0,170.6 395.0,170.2 393.6,171.2 392.4,171.4 391.2,172.5 389.9,172.7 388.8,173.6 387.3,174.7 385.9,176.0 385.1,176.6 383.5,177.0 382.7,178.2 381.8,179.6 380.3,180.5 379.7,181.2 378.7,182.3 378.5,184.1 377.4,185.3 377.2,187.2 376.3,187.9 375.1,189.7 375.1,191.1 374.6,192.7 373.6,194.8 372.3,195.4 371.7,197.4 371.3,198.4 369.7,199.2 369.0,200.9 368.2,201.8 367.2,202.1 365.1,203.5 363.6,205.6 362.9,206.7 363.4,207.9 362.7,209.9 362.9,211.4 363.0,212.8 363.6,214.4 364.7,215.6 365.9,217.3 368.2,216.8 368.7,215.3 369.9,214.4 371.3,213.8 372.0,215.0 372.6,216.4 372.8,217.3 373.1,219.1 374.1,220.0 374.3,221.6 374.6,222.6 374.8,224.3 376.9,224.0 378.6,223.3 378.8,222.0 380.5,221.6 380.7,220.0 380.5,218.8 381.6,217.0 382.5,216.2 382.7,214.5 384.0,212.9 383.0,211.9 383.0,210.8 382.0,209.2 381.6,207.4 382.0,206.6 381.7,205.1 382.3,203.5 383.8,202.2 384.9,201.1 385.8,200.1 386.3,198.6 387.4,197.5 388.1,195.9 388.0,194.8 388.6,193.0 389.3,191.9 391.0,192.5 392.5,193.1 393.9,193.0 393.4,194.6 393.5,196.6 392.5,197.6 390.8,198.9 390.3,200.8 388.9,201.8 388.8,203.9 388.5,204.9 387.8,206.7 388.1,208.5 388.9,209.9 389.9,210.8 391.9,211.4 392.8,210.5 394.5,210.2 395.8,210.2 397.8,210.3 398.8,209.6 399.9,210.1 401.1,211.4 399.2,212.2 398.1,212.9 396.6,212.6 395.0,212.6 394.0,213.1 392.8,213.0 391.2,213.8 391.5,215.0 392.7,216.5 392.5,217.8 392.4,219.6 391.2,218.6 389.6,218.2 388.3,219.4 387.3,220.7 387.6,222.4 387.2,223.4 387.3,224.8 387.0,226.5 385.7,227.2 383.5,226.2 382.4,226.2 380.9,227.2 379.7,227.5 378.1,227.5 376.9,228.5 375.8,228.6 373.6,227.8 372.0,228.3 370.5,227.0 369.9,225.6 370.2,224.3 370.7,222.7 370.4,221.8 371.3,220.2 371.3,218.2 370.4,218.8 368.5,219.4 367.8,220.2 367.3,222.1 367.2,222.7 367.6,224.3 368.3,225.2 367.9,226.5 368.7,228.3 367.4,229.6 365.9,229.6 364.0,229.9 362.9,230.1 362.8,231.1 362.1,232.9 361.0,234.1 360.6,234.8 359.0,235.8 357.6,237.5 356.5,238.3 355.5,239.4 353.4,239.6 352.6,241.3 350.7,241.2 350.1,241.3 348.0,241.9 348.6,243.3 349.7,244.1 351.4,244.4 352.8,246.1 353.4,246.9 353.3,249.1 353.4,250.4 353.0,251.4 352.4,252.9 350.7,253.1 349.1,252.7 347.8,252.2 346.0,252.5 344.1,252.9 343.0,252.3 341.5,253.4 341.0,253.8 341.2,254.7 341.7,256.2 341.5,257.8 341.7,259.5 341.7,260.5 340.7,262.2 341.5,263.8 341.6,265.7 343.9,265.3 345.4,266.1 346.6,267.6 348.5,266.3 349.8,266.6 351.8,266.3 352.8,265.1 354.1,264.6 354.7,263.8 355.4,262.4 354.7,260.9 356.0,259.6 356.4,258.3 357.0,257.9 358.6,257.1 360.1,255.2 359.9,253.5 362.1,252.9 363.5,253.7 364.7,253.5 366.2,252.6 366.7,252.1 368.7,250.8 370.8,251.9 371.9,253.8 372.2,255.0 373.1,255.9 374.5,257.1 375.5,257.5 376.8,258.3 377.8,258.6 379.1,259.9 379.1,261.5 379.7,262.2 379.2,263.8 380.5,263.0 381.4,261.8 380.6,260.3 381.2,258.9 382.3,259.4 383.5,259.7 383.4,260.3 382.6,258.5 381.6,257.5 379.7,256.0 378.5,256.0 377.3,255.7 376.6,254.4 375.9,252.5 374.2,251.2 374.0,248.9 376.2,248.2 376.0,249.7 377.4,249.1 378.5,251.2 379.8,252.5 380.5,252.7 382.0,254.0 383.5,255.0 384.9,256.2 385.1,258.0 384.9,259.3 386.1,260.7 387.2,261.7 387.5,263.2 388.3,264.6 388.4,266.1 389.6,266.7 390.7,266.7 390.1,264.8 391.3,264.0 392.1,263.4 390.7,262.2 390.3,261.1 390.1,258.9 391.6,259.9 392.6,258.1 393.9,258.0 395.0,258.3 395.3,259.7 397.0,259.1 398.7,258.1 399.6,257.9 398.2,256.6 397.6,254.4 399.0,252.7 399.1,251.3 399.1,250.2 400.7,249.1 401.8,247.5 402.2,246.2 404.3,247.1 405.7,247.1 404.9,248.6 406.2,249.2 406.6,250.6 408.5,250.3 409.4,249.5 411.2,248.9 410.3,248.0 409.1,246.9 410.3,246.4 412.6,245.1 414.0,244.8 415.2,244.7 413.8,245.8 412.8,246.2 413.4,248.4 412.1,249.5 413.4,250.7 414.1,251.0 415.0,251.8 416.4,252.9 417.4,253.8 418.9,255.6 418.7,256.8 417.0,256.7 415.7,257.7 414.5,257.5 412.6,257.9 411.0,256.9 410.3,256.8 408.8,255.8 406.5,255.8 405.2,256.3 403.4,257.5 401.6,257.3 399.9,257.5 399.6,257.9"/><polyline points="395.3,259.7 396.1,261.6 396.2,262.6 396.4,264.3 397.0,265.7 398.5,266.3 400.7,266.2 402.0,266.1 403.9,267.0 404.9,267.4 406.3,267.2 408.0,266.1 410.3,265.9 410.3,267.1 410.2,269.1 409.9,270.7 409.5,271.5 409.1,272.8 408.6,274.1 407.7,276.2 406.1,276.6 404.6,276.2 402.7,275.9 401.3,276.1 399.6,276.9 397.9,276.3 396.5,276.0 395.5,276.1 393.5,275.7 391.5,275.2 390.4,273.9 388.1,273.3 386.5,274.2 385.8,275.0 385.8,277.1 384.6,277.8 383.5,278.0 382.2,276.9 381.0,277.2 379.7,276.2 378.5,274.2 377.1,273.6 375.1,273.3 373.4,273.3 372.3,272.8 370.7,271.3 371.5,269.6 371.7,268.5 371.9,267.9 371.3,266.1 372.0,265.7 370.2,265.1 368.8,265.4 367.4,265.9 366.1,266.4 364.1,265.8 362.9,266.1 361.1,266.3 359.8,265.9 357.9,266.6 356.7,267.5 355.2,268.0 353.3,269.1 352.1,269.3 351.2,269.3 349.1,269.1 348.3,268.1 346.9,267.8 346.0,268.0 345.9,269.7 344.8,271.3 343.8,272.4 342.2,272.6 341.1,274.7 340.4,275.9 340.0,276.8 340.2,278.9 339.3,280.2 338.4,280.6 337.3,282.0 335.3,282.3 334.2,284.2 333.0,285.1 332.3,286.0 331.6,288.1 330.7,289.1 330.1,290.7 329.4,291.7 329.2,293.4 329.6,294.8 330.2,296.2 330.1,297.3 329.5,299.2 329.9,301.0 329.4,302.6 328.4,303.8 328.7,304.6 329.6,306.0 329.5,307.6 330.5,308.2 331.5,309.6 333.0,310.7 334.1,312.1 335.0,312.7 335.3,314.5 336.1,315.4 337.6,316.0 339.4,317.5 340.7,318.3 342.3,319.2 343.6,319.7 344.6,319.7 346.7,318.5 347.5,318.6 349.9,318.6 351.4,318.8 353.7,318.5 354.9,317.4 357.0,317.3 358.7,317.1 359.8,316.6 362.1,316.8 362.5,317.9 363.6,319.1 365.9,319.7 368.2,319.4 369.9,320.6 370.2,322.6 369.6,324.9 369.4,327.2 368.7,327.9 369.6,329.8 370.2,330.7 371.1,331.9 372.3,332.5 372.8,333.5 373.9,335.1 374.8,336.9 374.9,338.3 375.7,339.8 376.1,341.3 376.3,343.2 375.3,344.1 374.5,345.3 374.3,346.8 373.8,348.2 373.3,349.6 373.3,351.1 373.2,353.2 373.3,354.2 374.0,355.9 374.8,356.6 375.6,357.9 376.5,359.5 377.2,361.5 377.0,362.7 377.4,364.9 378.0,366.8 378.0,367.5 378.5,369.1 379.4,370.3 380.5,371.8 381.3,373.4 381.7,375.2 382.1,377.4 383.2,378.7 383.4,379.7 383.4,381.7 385.2,382.8 387.4,382.5 388.9,381.7 390.1,381.9 392.2,381.7 393.2,381.8 395.0,381.1 396.4,380.2 397.9,379.6 399.0,378.8 400.3,378.1 401.1,376.6 401.5,375.1 402.7,373.9 404.2,372.9 404.9,371.3 405.4,369.1"/><polyline points="404.9,278.5 404.6,276.2"/><polyline points="408.6,279.4 408.3,278.0 407.7,276.2"/><polyline points="346.5,238.0 348.0,238.3 349.8,237.7 351.0,237.1 352.1,236.8 353.3,236.1 355.2,236.3 357.3,235.3 356.0,234.6 357.3,233.4 357.8,231.6 355.7,230.8 355.2,229.3 353.8,227.8 353.4,226.7 353.0,225.5 352.8,224.3 351.4,223.0 350.1,221.9 351.0,220.7 352.1,218.8 349.8,218.2 348.9,218.5 349.6,217.1 350.6,215.6 349.5,215.7 347.5,215.6 346.9,217.0 346.3,218.8 346.4,220.6 346.6,222.1 347.9,224.0 347.5,226.2 349.8,225.9 350.5,226.8 350.6,228.3 350.5,230.1 348.3,230.1 348.9,232.1 347.2,233.6 348.4,234.0 349.8,234.6 350.6,235.1 349.3,235.9 348.3,235.8 347.4,236.6 346.5,238.0"/><polyline points="346.0,233.4 345.7,231.9 345.7,229.8 345.9,228.6 346.8,227.0 345.5,225.7 345.3,225.1 343.5,225.5 342.6,225.1 342.0,226.0 342.0,227.5 339.9,227.8 339.8,228.7 340.7,230.1 340.7,232.1 339.4,233.4 340.7,234.6 342.1,234.5 343.0,233.8 344.9,234.1 346.0,233.4"/><polyline points="344.0,225.6 343.0,227.0 343.7,228.0 345.6,228.0"/><polyline points="320.5,199.1 321.9,199.9 322.8,200.2 324.6,200.1 326.0,199.9 327.6,200.4 329.5,199.8 330.6,197.9 332.2,197.3 333.7,196.3 334.4,194.8 333.8,193.5 333.0,191.1 331.3,189.7 330.7,189.2 328.8,189.3 327.6,190.4 326.1,191.4 324.1,192.2 322.3,193.0 321.1,190.9 320.8,189.6 319.3,190.9 318.5,191.9 320.2,193.1 321.5,193.4 319.8,194.8 318.5,195.2 319.9,196.1 321.5,197.3 320.5,199.1"/><polyline points="374.2,263.8 375.5,263.4 378.0,264.1 379.1,263.4 378.9,264.5 378.3,266.3 376.6,265.3 375.4,265.3 374.2,264.4 374.2,263.8"/><polyline points="367.8,257.9 370.0,257.9 369.5,259.7 369.9,261.4 368.2,261.8 368.3,260.0 367.8,259.5 367.8,257.9"/><polyline points="368.4,255.0 369.6,253.8 369.7,255.8 369.3,257.1 368.4,255.0"/><polyline points="391.3,268.5 392.8,268.7 394.5,269.0 395.5,269.1 393.9,269.2 392.7,269.5 391.3,268.5"/><polyline points="404.6,269.5 406.9,269.2 408.2,268.2 407.2,269.5 405.7,270.2 404.6,269.5"/><polyline points="383.1,220.2 384.1,219.0 384.3,217.6 383.8,219.6 383.1,220.2"/><polyline points="372.0,223.8 372.8,223.0 374.3,223.0 374.1,224.5 374.0,225.6 372.5,225.0 372.0,223.8"/><polyline points="358.9,260.7 360.4,260.3 359.9,261.3 358.9,260.7"/><polyline points="344.5,204.8 345.3,204.1"/><polyline points="353.1,211.4 353.4,209.6"/><polyline points="372.8,214.7 373.7,213.1 373.9,211.4 373.6,209.9 374.3,207.7 374.0,206.1 373.9,204.1 373.9,203.0 373.7,201.9 373.7,200.1 375.2,199.6 375.8,198.0 376.6,197.3 376.7,195.6 377.6,194.7 377.4,193.0 378.5,191.8 378.9,190.0 379.9,188.9 379.6,187.7 380.3,186.1 381.1,184.8 382.4,183.3 383.2,182.3 384.7,180.3 385.8,179.1 386.6,178.7"/><polyline points="392.1,191.9 392.3,190.1 391.5,189.2 392.1,187.5 391.8,185.3 390.7,184.2 390.4,182.5 389.2,181.7 388.0,179.9 386.6,178.7 388.2,178.7 388.9,179.5 390.6,179.3 391.6,180.0 392.8,178.7 394.5,178.3 395.6,176.7 395.8,175.2 397.3,174.7 398.4,174.7 399.1,176.2 398.9,177.4 399.9,178.7 401.4,176.8 402.3,175.6"/><polyline points="399.9,178.7 399.5,180.3 398.8,182.5 399.8,183.9 401.1,184.5 400.8,186.6 399.6,187.7 400.1,189.3 401.1,191.0 401.3,192.2 400.9,194.3 400.7,195.5 401.2,197.1 401.9,197.7 402.4,198.7 403.2,200.2 403.4,202.1 402.9,202.9 402.6,204.8 401.6,205.6 400.7,207.4 399.4,208.5 397.8,209.9"/><polyline points="398.1,212.9 397.1,215.0 397.1,216.8 397.6,217.9 397.0,218.8"/><polyline points="392.4,217.6 394.2,217.6 395.1,218.2 397.0,218.8 397.1,221.0 398.2,222.4 397.5,222.6 395.9,223.8 394.7,222.8 393.5,221.9 392.1,222.1 390.3,221.9 388.7,222.7 387.4,222.7"/><polyline points="395.9,223.8 395.8,225.1 394.8,225.9 394.5,227.5 393.2,227.5 391.2,228.4 390.1,227.2 389.9,225.9 387.8,224.8"/><polyline points="390.1,227.2 388.2,227.2 386.9,226.8 385.5,227.1"/><polyline points="376.9,228.5 377.2,230.8 377.7,233.1 378.4,234.4 378.2,235.8 377.9,236.0 379.2,236.4 380.0,237.3 381.2,237.7 383.1,238.3 384.0,239.4 385.8,240.1 388.2,240.3 389.6,240.3 390.1,239.4 391.5,238.4 391.9,236.8 391.3,234.6 391.5,233.3 391.5,231.9 392.0,230.1 391.8,228.5 391.2,228.4"/><polyline points="368.4,225.9 369.6,226.2"/><polyline points="366.2,230.3 365.9,232.6 364.4,233.8 364.0,235.6 364.5,236.5 365.0,238.7 365.0,239.4 366.7,240.2 367.8,240.6 367.6,241.9 366.8,243.8 368.3,244.2 369.9,244.0 371.3,244.0 373.7,244.5 375.1,244.0 375.1,242.2 376.3,241.0 375.1,240.1 374.8,238.7 373.9,237.7 374.8,236.8 376.5,236.6 377.9,236.0"/><polyline points="360.4,234.8 361.8,234.8 362.9,234.6 364.4,235.3 364.5,236.5"/><polyline points="359.0,235.6 359.8,236.5 360.5,237.2 361.6,238.2 362.5,238.2 364.1,239.4 365.0,239.4"/><polyline points="366.8,243.8 365.7,245.6 364.5,246.9 365.9,247.6 365.5,249.3 365.9,251.2 366.7,252.1"/><polyline points="365.9,247.6 368.2,246.9 369.0,247.8 370.1,246.6 371.1,246.2 371.3,245.3 369.9,244.0"/><polyline points="371.1,246.2 372.9,245.5 373.9,245.1 375.5,246.2 376.2,246.2 376.2,248.2"/><polyline points="376.3,241.0 378.2,240.6 379.3,241.1 381.2,241.5 381.4,242.9 381.4,243.9 380.5,245.1 379.7,245.8 378.0,245.8 376.2,246.2"/><polyline points="381.2,241.5 382.1,240.1 384.0,239.4"/><polyline points="381.4,242.9 382.3,242.9 384.0,243.3 385.4,242.8 386.6,242.2 388.3,242.3 389.0,241.9 389.6,240.3"/><polyline points="379.7,245.8 380.6,246.5 382.1,247.5 384.0,247.6 386.3,247.1 387.7,246.7 388.7,245.5 389.8,244.3 390.3,242.9 389.0,241.9"/><polyline points="376.0,248.4 377.2,248.5 378.6,248.4 379.4,248.0 380.6,246.5"/><polyline points="379.4,249.1 381.2,249.1 382.5,249.9 384.3,249.7 384.9,251.4 383.7,252.7 383.5,255.0"/><polyline points="384.3,247.6 384.3,249.7"/><polyline points="386.3,247.1 387.2,248.1 388.0,249.7 389.6,250.2 389.9,251.2 389.7,252.3 389.5,254.2 389.5,255.2"/><polyline points="389.9,251.2 392.1,251.9 393.5,252.3 395.2,252.3 396.5,251.4 398.3,252.1 399.0,252.3"/><polyline points="390.3,242.9 392.0,242.7 393.3,243.5 394.1,242.8 395.9,242.2 397.3,243.2 397.6,244.2 398.4,246.0 398.3,247.7 398.4,248.4 400.7,249.1"/><polyline points="395.9,242.2 397.6,241.7 398.8,242.8 399.9,243.1 400.0,244.4 401.1,246.5 399.4,247.8 398.4,248.4"/><polyline points="389.5,257.3 390.7,257.6 392.7,257.1 395.0,257.3 395.6,256.4 396.6,256.6 398.1,255.8"/><polyline points="385.8,260.5 386.6,259.1 387.3,258.1 389.5,257.3"/><polyline points="384.9,256.0 386.7,256.0 386.6,257.9 387.3,258.1"/><polyline points="386.7,256.0 388.6,255.5 389.5,255.2 390.4,257.3"/><polyline points="395.0,258.3 395.6,256.4"/><polyline points="391.3,234.6 393.5,233.6 395.6,233.6 397.3,234.6 399.2,235.3 400.0,235.2 402.0,235.1 402.7,233.7 403.9,233.1 405.3,232.9 406.9,232.4 408.3,234.5 409.2,235.8 409.5,237.3 411.0,237.3 412.3,238.1 413.4,238.4 414.9,239.2 416.7,239.2 416.2,240.1 415.9,241.5 416.0,243.3 414.9,244.4 413.7,244.9"/><polyline points="398.2,222.4 399.3,223.0 401.2,223.6 402.5,224.0 403.1,225.5 403.3,226.3 404.5,227.9 405.3,229.6 404.5,229.9 403.1,230.8 403.9,233.1"/><polyline points="341.7,256.0 342.6,255.8 344.3,255.6 345.3,256.0 344.5,257.9 344.6,259.9 344.5,261.6 344.0,263.8 343.9,265.3"/><polyline points="352.4,252.9 353.6,253.2 355.3,253.4 356.3,254.2 358.4,255.0 360.1,255.0"/><polyline points="139.4,176.5 137.8,175.4 136.3,174.3 135.2,174.3 132.9,173.5 131.7,173.8 129.7,173.2 128.2,173.1 127.1,172.5 125.5,171.8 124.1,172.0 122.5,171.1 120.3,170.3 118.7,170.2 116.9,169.3 115.5,168.7 114.9,170.1 113.3,171.1 111.7,171.4 110.3,172.5 108.2,172.8 107.2,173.8 106.8,175.5 105.3,176.9 104.9,178.3 103.3,178.9 102.6,179.5 101.4,180.2 100.6,181.6 102.3,183.3 103.4,184.5 104.0,185.3 104.6,186.9 106.2,187.8 107.4,188.8 106.2,188.6 104.6,189.2 103.3,189.2 101.1,190.4 99.3,191.4 98.0,192.6 98.8,193.8 100.3,195.9 102.4,196.8 104.2,196.6 105.5,196.3 107.4,196.3 108.7,196.6 108.6,198.6 108.7,200.1 107.1,200.4 105.7,201.4 103.4,201.8 102.4,203.2 102.9,204.9 101.9,205.7 101.1,206.7 101.4,208.3 102.6,209.9 103.5,210.6 104.5,212.0 106.0,211.9 107.2,211.7 107.6,212.8 107.2,214.4 109.2,215.2 110.3,215.3 112.6,215.0 114.6,215.3 114.3,216.6 114.1,218.8 112.9,219.8 111.8,221.6 110.5,223.0 108.7,224.0 107.3,225.4 105.7,225.6 103.8,226.4 102.9,226.7 104.6,226.2 105.7,226.4 107.0,225.4 108.7,225.4 110.0,225.0 111.0,224.0 112.2,223.0 113.6,221.6 114.9,220.7 116.4,219.3 117.5,218.4 119.2,216.5 119.8,214.5 120.5,213.5 120.7,212.4 122.3,211.0 122.5,209.6 123.3,209.0 124.8,207.7 125.6,208.3 125.1,209.4 123.9,211.6 123.3,212.9 125.6,212.9 126.2,211.7 127.9,211.4 128.1,210.6 128.6,208.9 130.9,208.9 132.6,209.5 133.2,210.5 134.8,211.4 136.8,211.9 137.8,211.7 139.8,212.1 140.9,212.3 142.6,213.2 143.2,213.8 144.8,215.1 145.5,216.2 147.0,216.8 147.4,217.8 148.5,218.8 149.3,220.0 150.1,221.6 151.1,222.5 152.4,223.5 153.9,225.1 155.4,226.4 155.9,228.3 156.9,228.9 157.7,230.1 158.0,231.3 158.8,232.6 159.4,234.1 160.0,235.8 161.4,236.7 162.3,238.2 163.3,238.8 164.2,239.9 165.7,240.4 166.6,240.6 167.2,242.2 166.9,244.4 165.9,243.2 164.3,241.9 164.4,244.2 165.1,245.6 165.4,246.9 165.4,248.6 165.4,250.6 164.8,252.1 164.8,253.8 165.2,255.3 165.1,256.2 165.0,257.9 164.9,259.1 165.7,260.9 166.0,262.1 166.9,263.4 167.7,264.6 168.6,266.5 169.4,267.6 170.4,269.1 170.6,270.4 172.7,271.1 174.0,271.7 174.7,273.1 175.8,273.9 176.7,275.9 177.6,276.6 177.9,278.0 178.4,279.4 179.5,280.3 180.4,282.0 179.3,282.5 181.2,284.1 182.4,285.1 183.3,285.8 183.8,287.6 184.9,288.8 185.7,289.6 187.0,290.6 187.7,289.8 186.4,288.3 185.4,286.6 185.0,285.9 184.0,284.0 183.3,283.2 183.1,281.9 181.9,280.6 180.4,278.9 180.1,278.1 179.5,276.2 179.6,275.3 181.3,275.6 182.2,276.4 183.0,278.5 183.6,279.4 184.5,281.1 186.1,282.5 187.1,283.8 187.6,284.6 188.3,285.4 189.1,286.4 190.6,288.3 191.3,289.2 192.5,290.1 193.6,292.1 194.0,293.7 194.0,294.5 195.2,296.5 196.5,297.7 197.1,298.1 198.2,298.4 199.4,298.9 200.5,300.0 202.1,300.2 202.9,300.3 204.4,301.3 205.7,302.2 207.5,302.2 209.0,301.6 209.8,301.4 211.3,301.7 213.0,303.3 213.9,304.0 215.9,305.1 218.2,305.7 219.5,305.7 221.0,306.5 221.3,307.4 222.8,308.8 224.0,309.7 224.0,311.3 225.4,311.4 227.2,313.0 228.3,314.0 230.1,313.9 231.4,315.3 232.7,315.0 232.3,313.7 233.5,312.7 235.0,313.4 235.5,315.0 236.7,316.0 236.6,318.0 237.0,320.3 236.6,322.3 235.9,322.8 234.6,323.7 234.3,324.7 232.7,325.2 232.1,327.2 231.4,327.9 231.7,329.9 232.7,330.4 233.0,331.4 231.2,332.9 230.6,334.7 230.9,335.5 231.9,336.3 233.0,337.4 234.0,338.5 234.7,340.1 235.0,341.6 236.3,343.2 236.8,344.0 237.5,346.1 238.4,347.1 239.1,348.7 240.1,349.9 241.6,350.4 242.3,351.7 244.2,352.3 245.4,352.9 246.0,354.3 247.4,354.7 248.1,355.8 247.9,357.5 247.9,359.0 247.5,359.8 247.4,361.9 247.4,363.2 247.4,364.6 246.7,365.7 247.0,367.4 246.4,369.0 246.0,371.3 245.8,372.5 245.3,374.8 245.4,376.5 245.6,377.8 245.1,379.5 245.1,380.4 245.0,382.4 244.7,384.3 243.5,385.8 243.1,387.1 243.0,389.2 242.4,390.2 242.7,391.9 242.2,393.4 242.7,395.0 242.2,396.0 243.8,397.0 243.7,398.4 243.5,400.1 243.3,401.0 242.2,403.1 241.9,404.7 241.5,405.5 240.1,406.5 239.6,407.7 239.8,408.7 240.2,410.3 241.2,412.2 240.4,413.9 239.9,415.8 240.6,417.0 241.5,418.7 241.9,420.2 243.6,421.3 244.2,423.2 245.4,423.7 246.5,424.3 246.5,423.3 246.7,421.4 247.6,421.4 249.1,420.4 250.5,420.4 250.0,418.4 249.7,416.8 250.8,415.2 251.6,413.4 252.3,411.8 254.0,411.0 254.5,409.9 253.5,409.0 253.4,407.7 252.7,406.4 251.9,405.5 253.1,404.8 254.6,403.3 254.8,401.6 255.4,400.1 257.0,399.1 257.5,398.4 255.7,397.4 255.6,395.6 255.7,394.5 257.3,394.6 258.5,394.3 260.0,394.3 259.7,393.0 260.0,391.0 261.6,391.1 263.1,390.8 264.9,390.4 265.5,389.4 267.2,389.0 268.3,387.8 268.4,386.1 267.5,384.3 266.8,383.1 265.8,382.0 266.7,382.4 268.1,382.4 269.5,383.1 271.8,382.6 273.5,380.9 274.0,379.7 275.3,378.2 276.6,376.7 277.4,375.7 278.4,374.0 279.0,373.1 280.0,371.6 280.8,370.8 280.8,368.9 280.8,367.4 281.7,365.7 283.1,364.5 284.3,364.0 285.5,363.5 286.8,362.7 287.7,362.3 289.4,362.4 290.9,362.2 292.4,360.6 293.2,359.3 293.7,357.9 294.5,356.4 295.0,354.2 295.3,352.3 295.5,351.1 295.4,349.5 295.5,347.1 296.6,346.0 297.5,345.1 298.3,343.7 299.0,342.6 300.1,341.7 301.4,340.9 301.6,339.4 301.8,337.1 301.6,335.3 301.2,334.5 300.0,333.6 298.6,333.7 297.9,333.5 296.3,332.2 295.4,331.2 294.0,330.7 293.0,330.3 291.2,330.7 290.3,330.4 288.6,330.1 287.1,330.7 287.4,329.7 285.6,329.3 284.8,327.9 283.2,328.1 281.7,327.5 281.0,328.7 278.7,329.1 278.5,328.0 277.9,326.7 278.7,325.2 278.3,323.2 277.1,321.8 276.1,319.9 274.4,318.2 272.5,317.4 270.7,317.4 269.8,317.2 267.9,317.4 266.3,316.5 265.7,315.9 264.0,314.3 263.4,313.7 262.3,312.2 261.1,311.4 259.5,310.2 258.0,310.3 257.2,311.0 254.9,310.8 253.4,310.2 251.9,310.5 250.8,309.9 250.3,308.9 249.6,308.8 248.0,307.9 247.6,308.6 246.1,309.6 245.8,311.9 246.4,312.5 246.0,311.2 245.0,310.3 245.8,308.3 244.5,308.2 243.0,309.1 240.7,309.4 239.6,310.3 239.3,311.9 237.6,313.4 236.9,313.1 235.8,312.0 233.5,311.7 231.5,312.8 230.0,312.7 228.9,311.9 228.6,311.2 227.4,309.9 227.1,308.0 227.6,306.2 227.5,304.9 227.8,303.3 225.9,302.1 223.6,301.9 221.3,302.1 219.7,302.1 220.2,300.2 220.2,297.9 221.3,296.2 221.3,295.2 222.3,293.4 220.5,292.9 218.8,293.4 217.0,293.6 217.1,294.5 216.4,296.2 215.1,297.8 212.8,297.9 210.5,298.2 208.6,297.3 207.9,295.9 206.7,294.5 206.5,293.3 205.6,292.1 205.3,290.9 205.6,288.8 205.8,287.5 206.4,285.6 206.6,284.1 206.1,283.2 207.0,282.1 207.5,281.1 208.3,280.2 209.8,279.9 211.3,279.0 213.3,279.0 214.4,279.2 215.5,279.6 216.7,279.9 218.4,279.9 218.0,278.2 218.7,278.3 220.5,277.8 222.3,278.2 223.6,277.8 225.1,279.0 226.6,278.3 228.1,279.9 228.2,280.8 228.6,282.3 229.0,283.7 229.7,284.6 230.5,285.6 230.9,286.8 232.1,286.8 232.7,284.6 232.4,282.7 232.0,281.7 231.9,280.2 230.9,278.9 230.6,276.7 231.1,275.9 231.7,274.4 233.5,273.0 234.3,272.5 235.8,271.5 237.6,270.0 239.5,268.9 239.0,267.9 238.9,266.1 238.4,263.8 240.2,262.8 241.5,260.9 241.9,258.9 243.0,258.1 245.0,257.9 246.5,257.1 247.7,256.4 248.0,255.6 246.8,254.4 247.7,252.3 248.7,251.6 249.9,250.8 251.0,250.3 252.6,249.9 254.2,249.1 256.0,248.2 254.5,250.3 254.2,251.7 256.5,251.7 257.5,251.3 259.2,250.4 260.6,249.2 261.8,248.9 263.4,247.3 261.1,247.6 259.5,247.0 257.2,246.9 257.0,245.4 256.0,243.3 253.7,242.6 254.9,241.7 255.7,240.1 254.1,240.5 252.6,240.6 251.6,241.1 249.6,242.4 248.1,243.3 247.5,244.0 246.5,245.3 247.4,245.1 248.8,244.0 249.7,242.2 250.5,241.3 251.9,239.9 253.1,239.0 255.0,238.2 256.5,237.5 258.3,237.9 259.5,238.1 261.8,237.7 262.8,236.4 264.7,236.2 265.7,235.3 267.0,234.5 268.3,234.3 269.4,233.3 269.9,232.6 270.0,230.7 269.5,229.3 268.6,228.7 267.5,227.8 266.4,226.9 265.7,226.2 264.0,225.7 263.4,224.8 262.8,223.3 261.9,222.7 261.1,221.3 260.4,219.8 260.6,217.6 260.1,215.5 258.8,214.4 257.7,212.6 257.0,211.3 256.5,210.5 255.7,211.4 254.9,212.9 253.7,214.1 252.8,215.6 251.9,216.5 250.6,215.3 248.8,215.0 248.1,212.7 248.0,211.4 247.1,209.7 246.7,209.2 245.8,207.7 245.0,206.2 242.7,205.6 241.9,204.1 240.3,204.4 238.7,203.5 237.3,203.5 236.1,205.6 235.8,206.7 236.1,208.2 236.2,210.1 236.6,211.4 236.3,213.2 235.3,215.0 235.7,216.2 237.1,217.4 237.3,218.8 237.7,220.7 237.8,222.4 236.8,223.6 235.7,224.6 235.0,225.6 233.4,227.0 234.1,228.0 233.8,230.3 234.3,231.4 234.9,232.4 234.6,234.6 233.4,235.0 232.0,235.1 231.7,233.8 230.2,232.4 230.0,231.4 230.0,230.1 229.1,228.6 229.2,227.0 228.9,225.1 227.2,225.2 225.1,224.8 223.4,224.0 222.6,223.3 221.5,222.0 220.5,221.6 219.4,220.7 218.3,220.1 216.7,219.6 215.2,220.2 213.6,220.2 212.9,219.0 212.6,217.8 212.8,215.9 211.0,215.4 210.2,214.4 210.2,212.5 210.3,211.4 210.5,209.9 211.2,208.1 212.1,206.9 212.8,205.7 214.4,204.3 214.8,202.8 215.9,201.8 217.7,200.4 218.6,199.9 219.7,198.4 220.4,197.2 221.0,195.1 222.0,194.1 222.3,192.5 223.6,191.1 225.1,190.2 225.9,190.0 226.6,188.8 227.1,186.7 228.2,185.5 228.9,184.1 229.9,183.1 229.5,181.2 230.2,179.2 230.7,178.3 229.1,177.8 227.3,176.6 225.9,175.6 225.6,176.7 225.4,178.3 224.3,180.5 223.5,181.6 223.6,183.3 222.1,182.2 221.0,180.7 220.5,180.0 218.7,179.7 217.4,180.4 216.5,178.8 216.4,177.4 215.9,176.5 215.5,174.8 214.1,173.1 214.0,171.3 212.8,170.2 212.1,168.3 211.3,167.2 209.8,165.8 209.6,167.7 208.8,168.3 209.2,170.4 209.0,171.5 208.5,172.9 208.2,174.7 208.9,176.1 209.9,177.8 210.3,179.8 211.3,181.2 209.3,182.2 208.2,182.5 206.7,182.0 205.2,182.1 204.5,180.4 204.7,178.9 204.4,177.0 203.0,177.9 202.3,178.7 200.6,180.0 200.1,181.5 199.1,182.7 197.5,183.3 195.7,183.2 194.6,182.1 192.9,182.1 192.0,182.8 189.9,183.3 188.7,183.6 186.8,183.7 184.8,183.8 183.4,182.9 182.2,182.9 181.3,181.4 180.1,180.9 179.2,179.5 177.2,178.9 176.1,177.8 174.1,177.4 173.2,177.2 171.5,176.5 169.5,176.2 169.0,176.4 166.9,176.5 165.3,175.5 163.9,174.7 162.8,174.4 161.5,173.4 160.0,172.9 158.6,173.9 157.0,174.7 155.3,176.0 154.9,176.5 153.1,177.0 151.8,176.9 149.3,177.0 148.7,177.5 147.5,178.9 146.3,179.5 145.5,179.0 144.1,177.6 142.4,177.0 141.2,176.7 139.4,176.5"/><polyline points="264.4,243.5 266.4,243.5 267.7,244.2 269.5,245.1 271.3,245.7 272.5,245.6 273.8,245.0 274.4,244.0 273.9,242.4 274.1,241.5 272.8,239.9 271.6,239.1 270.2,238.9 269.8,237.1 269.4,236.4 269.5,234.8 267.9,236.3 266.9,238.2 266.4,239.4 265.6,241.2 264.9,241.9 264.4,243.5"/><polyline points="158.8,236.3 160.4,236.1 162.3,237.0 163.0,237.8 163.9,238.9 164.5,240.8 166.2,241.9 163.9,241.3 162.2,239.5 160.8,238.9 160.3,237.3 158.8,236.3"/><polyline points="151.6,228.0 153.4,228.8 153.6,230.2 154.4,232.6 152.9,232.0 152.4,230.8 152.1,229.4 151.6,228.0"/><polyline points="225.2,292.2 226.4,291.1 228.1,290.4 230.6,290.1 232.0,290.1 233.8,291.0 234.1,291.5 235.8,291.6 236.4,292.5 238.5,293.2 239.3,293.7 240.5,294.7 241.6,295.0 240.4,295.5 238.6,295.6 237.4,295.4 236.3,295.5 235.8,294.2 233.9,293.6 232.7,292.6 231.3,292.3 229.7,291.4 228.3,291.9 226.6,292.2 225.2,292.2"/><polyline points="241.3,297.4 242.8,296.8 243.5,295.5 245.4,295.7 246.8,295.6 248.0,295.8 249.7,296.5 250.5,297.4 248.8,297.6 248.0,298.1 247.1,299.0 245.8,299.0 244.2,298.2 242.9,298.0 241.3,297.4"/><polyline points="245.4,295.7 245.8,297.4 245.3,298.6"/><polyline points="235.3,298.1 236.8,298.2 238.4,298.4 236.6,298.9 235.3,298.1"/><polyline points="252.3,297.9 254.6,298.1 254.2,298.6 252.3,298.6 252.3,297.9"/><polyline points="260.6,310.0 261.8,310.2 261.1,311.0 260.6,310.0"/><polyline points="235.0,284.4 236.6,284.1"/><polyline points="235.8,287.1 236.3,288.3"/><polyline points="238.6,287.9 239.6,288.8"/><polyline points="215.4,327.5 216.7,327.2"/><polyline points="250.5,420.9 249.6,421.9 248.0,423.2 246.5,425.0 247.1,426.1 248.9,426.5 249.6,427.7 251.7,428.0 253.4,427.4 255.4,426.4 253.8,425.2 253.0,424.6 251.9,424.0 251.7,423.0 250.5,420.9"/><polyline points="250.2,420.9 250.1,422.8 250.3,423.6 250.7,425.0 250.2,426.9"/><polyline points="214.4,245.6 215.4,244.4 217.4,243.3 218.0,242.7 219.7,242.2 221.5,243.1 223.6,243.1 224.4,245.0 225.4,246.2 224.0,246.3 222.0,246.2 220.2,245.7 219.0,245.6 216.7,246.0 214.4,245.6"/><polyline points="221.1,256.4 222.8,255.8 222.9,254.3 223.2,253.0 223.1,251.7 223.6,250.6 225.0,248.9 225.1,248.0 223.6,247.6 222.0,248.9 221.4,249.6 220.7,250.9 220.6,252.7 220.8,254.9 221.1,256.4"/><polyline points="225.5,247.8 227.4,247.3 229.1,247.8 230.4,247.3 232.0,248.7 232.7,249.9 230.4,250.6 230.4,251.3 230.1,253.1 228.9,253.5 228.0,252.3 227.4,251.7 227.7,249.5 226.7,248.2 225.5,247.8"/><polyline points="227.4,256.4 229.0,256.4 230.4,256.6 231.7,255.8 232.6,255.4 234.3,254.4 232.7,254.2 231.8,254.8 229.8,255.4 228.9,255.8 227.4,256.4"/><polyline points="233.0,253.1 234.9,253.7 236.2,252.6 237.3,253.1 238.6,251.7 236.6,251.7 234.3,252.1 233.0,253.1"/><polyline points="166.5,240.6 209.5,240.6 209.5,239.6 210.4,241.3 212.6,241.9 213.9,242.2 215.0,242.9 217.0,243.1 218.0,242.9 219.9,242.2 221.0,243.1 222.5,243.5 224.3,244.7 225.4,245.3 225.9,246.2 227.4,247.1 228.9,248.9 228.8,250.5 229.5,252.2 229.1,253.8 228.0,255.8 228.9,256.4 230.7,255.9 232.1,254.8 232.9,254.8 234.3,254.2 234.3,252.7 236.4,253.1 238.1,252.5 239.4,251.0 240.4,249.5 242.3,249.6 244.2,250.0 245.8,249.5 246.8,248.6 246.9,247.0 248.0,245.8 249.3,244.2 251.1,244.4 251.7,245.7 251.4,248.0 252.6,249.9"/><polyline points="139.4,176.5 139.4,210.5 141.2,210.3 142.4,211.1 143.4,212.6 143.7,213.4 144.7,214.7 145.6,213.9 147.0,212.6 148.5,212.9 149.7,214.7 150.8,216.2 151.4,217.6 152.9,219.2 153.1,220.2 154.7,220.8 155.2,221.9 156.2,223.0 155.9,224.6 155.9,225.6"/><polyline points="175.9,274.1 177.4,273.9 179.6,273.7 181.3,274.8 181.9,274.7 183.9,276.1 185.3,276.2 186.3,276.6 188.0,276.3 189.6,276.2 189.6,275.3 191.3,274.8 192.2,275.3 193.0,276.2 193.8,277.6 195.2,279.0 197.2,280.3 198.3,278.9 200.0,278.9 201.2,280.3 201.5,281.9 202.9,282.9 204.1,283.4 205.6,285.0 206.4,285.6"/><polyline points="214.1,304.1 214.1,302.9 214.8,301.6 216.7,301.6 215.3,299.7 215.9,298.9 217.0,299.4 218.8,298.9 219.1,300.1 218.7,301.9 220.2,302.2"/><polyline points="218.8,298.9 220.0,297.8"/><polyline points="218.7,301.9 218.5,304.3 217.3,305.4"/><polyline points="218.5,304.3 219.1,305.1 220.8,305.1 221.0,306.5"/><polyline points="221.6,306.5 222.9,305.2 223.6,304.9 225.4,303.6 226.9,303.8 227.8,303.3"/><polyline points="224.0,309.4 225.4,309.6 227.1,309.7"/><polyline points="228.3,314.0 228.6,311.9"/><polyline points="236.0,315.4 236.6,314.6 236.9,313.1"/><polyline points="246.1,308.3 244.5,309.4 244.5,310.6 243.5,312.2 244.3,314.1 244.4,315.1 245.9,315.6 247.9,315.7 249.4,316.5 250.6,316.3 251.9,317.0 251.4,318.5 251.4,320.0 251.4,321.9 252.7,322.8 252.6,324.6 251.4,324.5 249.4,324.4 248.4,323.8 249.0,324.9 248.0,326.7 249.0,328.2 249.0,329.5 248.0,331.0 248.2,332.8 247.0,332.2 245.6,331.1 243.6,330.1 243.0,328.6 241.6,327.9 239.9,326.6 237.9,326.0 236.7,325.8 236.1,324.7 234.6,324.3"/><polyline points="239.9,326.6 239.5,328.7 237.6,329.9 236.3,330.8 235.3,331.6 234.3,332.5 234.3,334.0 233.5,333.2 232.3,331.6"/><polyline points="248.2,332.8 246.6,333.2 244.6,333.6 243.6,334.3 242.6,336.2 242.1,337.5 243.1,339.5 243.6,340.8 245.5,341.1 247.3,340.9 247.1,343.2 248.7,343.2 248.9,344.3 250.0,345.6 249.6,347.1 249.6,349.2 249.6,350.3 248.9,351.8 248.8,353.4 247.4,354.7"/><polyline points="248.7,343.2 250.6,343.2 252.6,342.8 253.7,341.9 255.2,341.4 255.7,343.3 255.2,344.3 256.4,345.1 258.2,345.5 258.8,346.0 260.3,347.1 261.7,347.5 263.0,347.3 262.7,348.6 263.7,350.1 263.2,351.5 264.4,351.9 266.0,351.5 266.1,353.4 267.2,354.6 267.1,355.7 266.1,357.1 266.1,357.8 264.7,356.3 262.9,356.7 262.2,357.2 260.6,357.0 260.4,358.1 259.8,359.5 259.4,361.0 258.0,361.5 256.8,362.0 255.4,360.9 253.7,360.4 252.3,362.0 252.0,361.4 250.8,359.9 251.1,358.5 251.0,356.8 250.3,355.8 250.0,354.8 248.8,353.4"/><polyline points="266.1,357.8 266.8,359.2 266.7,360.9 268.9,360.6 269.9,361.4 270.5,363.0 270.4,364.0 272.1,364.2 271.7,365.8 271.6,366.7 270.3,368.4 269.6,369.6 268.2,369.4 266.5,369.8 265.5,369.4 266.5,367.5 267.0,366.5 266.3,365.4 264.4,364.8 263.4,364.0 262.1,363.5 261.2,362.2 259.4,361.0"/><polyline points="271.6,366.7 272.2,367.3 273.0,368.7 271.5,369.6 270.9,370.4 269.8,371.3 269.4,372.3 267.8,373.4 267.0,374.6 266.4,376.5 266.5,377.4 266.1,378.7 265.9,379.8 265.8,381.5"/><polyline points="267.0,374.6 268.1,375.2 269.6,375.9 270.7,377.4 271.9,377.5 273.0,378.7 273.5,380.9"/><polyline points="252.3,362.0 250.9,363.1 250.5,364.9 250.3,366.6 250.8,367.4 250.3,369.1 250.0,370.8 249.1,372.6 248.4,374.3 247.6,375.6 248.0,378.1 247.6,379.6 247.7,381.9 248.0,383.3 248.0,384.8 246.8,386.7 247.1,388.0 246.5,390.0 245.6,391.6 245.2,393.5 245.3,394.9 245.5,396.2 245.3,397.7 245.1,399.2 245.4,401.1 245.7,402.7 245.5,404.2 245.4,406.2 245.0,407.7 244.8,409.0 244.3,410.2 244.4,412.2 243.5,413.4 244.0,415.4 244.5,417.0 245.3,417.5 246.8,418.7 247.8,419.0 249.6,419.7 250.5,420.4"/><polyline points="263.4,313.7 263.1,315.2 262.3,315.9 261.4,317.3 262.3,318.5 260.4,319.6 259.1,320.3 257.5,320.5 256.5,320.2 256.7,321.7 257.2,322.6 256.2,324.1 254.9,324.9 252.6,324.6"/><polyline points="262.3,318.5 263.7,319.7 264.1,321.2 263.5,322.9 265.2,324.4 267.1,323.4 267.9,323.4 269.5,323.5 271.8,322.9 273.6,322.4 274.5,322.9 275.3,321.4 276.1,320.2"/><polyline points="267.6,317.4 267.9,319.1 267.5,321.2 267.9,323.4"/><polyline points="272.5,317.7 271.9,319.3 271.9,320.3 271.9,321.9 271.8,322.9"/><polyline points="528.9,360.7 530.0,360.4 531.4,359.1 532.8,358.8 534.6,358.0 535.8,357.9 537.3,357.1 538.9,357.3 539.8,356.7 541.2,355.8 542.1,354.8 542.4,353.4 544.2,353.1 545.0,352.3 545.8,351.1 546.7,349.5 547.3,348.7 548.5,348.4 549.6,347.9 550.8,348.4 551.4,349.5 553.4,349.3 554.2,347.1 555.4,345.4 556.5,344.9 558.0,344.8 558.8,344.0 559.9,344.4 561.9,345.1 563.5,345.2 564.6,345.1 563.4,347.1 562.6,348.6 562.6,349.5 563.3,350.5 564.9,350.9 566.1,351.3 568.0,352.6 568.8,353.1 570.3,353.6 570.6,352.7 571.5,351.1 572.2,349.2 572.0,347.9 572.3,345.6 573.1,344.5 573.3,342.9 574.2,344.2 574.9,346.0 575.3,348.4 577.0,349.4 577.6,349.5 577.4,350.6 578.1,351.8 578.7,353.4 579.4,355.3 580.2,356.3 581.1,357.5 583.0,357.9 583.3,358.8 584.0,360.7 585.5,361.7 586.0,363.2 587.0,364.0 588.6,365.7 589.0,366.5 589.7,368.2 589.6,369.7 590.2,371.7 590.0,373.1 589.4,374.6 589.4,376.1 589.1,377.9 588.2,379.3 587.2,380.8 586.7,381.5 586.3,383.2 585.3,384.8 585.0,386.1 584.8,387.7 583.1,388.6 582.2,388.6 580.8,389.3 579.1,391.0 578.6,390.7 577.2,389.6 575.5,390.3 574.9,390.6 573.0,390.1 571.8,389.6 571.0,388.7 569.5,388.0 569.1,386.8 568.7,385.2 567.2,384.4 566.4,382.4 566.0,381.2 566.1,379.6 564.9,381.5 563.4,382.9 562.6,382.6 561.5,381.5 560.6,379.3 558.6,378.8 557.3,377.8 555.2,377.2 554.2,377.1 552.2,377.1 551.2,377.5 549.6,378.2 548.7,378.2 547.2,379.6 545.8,379.6 544.2,381.3 541.9,381.0 540.4,381.3 539.6,381.7 538.1,382.2 537.5,382.6 535.8,383.3 534.2,383.7 532.8,383.1 531.2,381.8 531.6,380.8 532.3,378.7 532.6,377.1 532.0,376.1 531.6,375.2 531.1,373.4 530.0,372.1 529.7,369.9 529.4,368.9 528.5,367.4 529.1,365.7 529.4,364.9 529.8,363.0 529.4,362.3 528.9,360.7"/><polyline points="576.7,394.3 577.9,394.9 579.5,395.1 580.7,395.2 582.2,394.7 581.6,396.5 582.1,397.4 581.0,399.5 579.7,400.2 578.7,400.3 578.0,399.3 577.5,397.6 576.9,396.0 576.7,394.3"/><polyline points="619.6,382.2 620.0,383.2 620.9,384.6 622.3,385.2 623.8,386.7 624.6,388.2 626.3,388.2 627.7,388.2 628.4,388.4 628.5,390.2 627.5,391.0 626.1,391.5 626.0,393.9 625.3,394.6 623.5,396.2 622.6,395.5 623.4,393.3 621.6,391.9 622.6,390.6 622.8,389.4 622.6,387.7 622.0,385.9 621.6,385.1 620.3,383.9 619.6,382.2"/><polyline points="619.6,393.9 620.9,395.1 622.0,395.5 621.1,396.2 621.1,397.6 620.0,399.0 618.8,399.6 618.5,400.9 617.3,402.2 617.7,403.9 617.0,405.0 615.5,405.4 614.7,406.6 612.8,406.8 611.9,406.3 610.1,405.5 610.8,403.3 612.1,401.8 613.1,401.1 614.6,400.6 616.2,399.0 616.4,397.7 617.7,396.6 618.2,395.8 619.6,393.9"/><polyline points="555.7,327.6 558.0,327.0 560.3,327.6 560.3,329.4 561.1,330.2 562.6,331.4 564.5,330.5 565.7,329.0 568.0,329.4 569.0,330.1 571.0,330.4 572.6,331.0 574.1,331.6 575.2,332.3 577.2,332.9 578.7,334.8 580.2,334.8 581.0,335.5 581.4,337.1 580.1,337.5 581.3,338.4 581.8,339.4 582.6,339.9 584.0,340.9 584.9,341.9 585.9,342.6 584.7,342.8 583.3,342.1 582.0,341.5 580.7,340.9 580.2,339.6 578.7,338.9 577.0,338.3 576.4,338.0 574.9,339.1 574.1,340.4 572.4,340.0 571.0,340.3 569.4,339.0 568.0,338.8 566.4,339.2 567.5,338.1 567.7,337.1 567.5,336.1 566.4,334.8 565.2,334.4 563.4,333.4 561.6,333.0 560.3,332.2 558.8,332.5 558.5,330.7 557.2,329.7 556.5,328.7 555.7,327.6"/><polyline points="571.0,330.4 571.1,332.3 570.7,333.5 571.4,335.7 571.6,336.6 570.7,338.2 571.0,340.3"/><polyline points="430.7,344.8 431.3,346.4 431.6,347.8 431.8,349.0 432.2,350.3 432.3,351.6 431.4,352.6 430.8,354.3 429.9,355.8 429.5,357.5 429.2,358.3 428.7,360.0 428.4,361.5 427.9,363.0 427.4,364.2 427.1,365.7 425.7,366.1 424.4,366.7 423.8,364.9 422.2,364.0 421.3,362.6 421.5,360.7 422.2,359.0 423.2,357.5 423.0,355.7 422.6,354.2 422.6,352.3 423.3,351.4 425.1,351.5 426.1,350.7 427.0,349.7 428.4,348.7 428.9,347.0 429.9,346.3 430.7,344.8"/><polyline points="582.5,334.8 584.8,334.8 586.8,334.2 587.9,332.8 587.1,334.8 585.7,335.1 584.8,336.0 583.9,335.7 582.5,334.8"/><polyline points="586.0,330.5 587.3,331.2 588.6,332.2"/><polyline points="592.0,334.8 592.6,336.1 593.8,336.8"/><polyline points="594.8,336.6 596.3,337.5"/><polyline points="598.6,338.6 600.1,340.1"/><polyline points="600.1,340.9 601.7,342.0 602.4,342.3"/><polyline points="606.2,357.8 607.2,359.0 609.6,360.3 610.5,361.2"/><polyline points="610.2,349.5 610.9,350.3 611.6,351.8"/><polyline points="626.6,353.4 628.4,354.2"/><polyline points="116.4,296.2 117.9,295.7 117.2,297.0"/><polyline points="113.0,292.9 113.8,293.2"/><polyline points="115.3,293.9 116.2,294.2"/><polyline points="110.7,291.9 111.4,292.2"/><polyline points="335.0,282.5 336.2,282.8 338.0,282.9 340.3,282.5 341.9,282.5 341.9,280.8 343.7,280.7 344.8,279.2 346.2,279.0 347.5,278.5 348.3,278.1 349.7,276.7 351.2,275.6 351.8,275.1 353.4,274.6 353.1,273.0 352.7,272.2 352.4,270.4 351.8,269.3"/><polyline points="329.2,293.1 330.4,293.3 332.1,293.6 334.3,293.0 335.3,293.2 335.4,291.4 335.3,290.4 336.8,289.6 336.7,288.3 337.0,286.6 336.8,285.4 338.0,285.0 340.3,285.1 341.9,285.4 341.7,284.1 341.9,282.5"/><polyline points="341.9,283.2 343.8,284.2 344.6,285.2 346.1,286.4 347.9,287.1 357.0,293.6 357.8,294.9 358.6,295.6 360.3,297.0 362.1,297.0 364.1,296.2 365.0,294.8 366.7,294.0 367.7,292.8 369.3,292.2 371.1,291.3 372.2,290.4 373.6,289.6"/><polyline points="347.9,287.1 346.9,287.5 345.3,287.1 346.8,301.0 347.1,302.5 345.4,303.0 343.6,303.0 342.4,302.7 340.6,302.2 338.8,302.8 337.6,302.4 336.5,303.8"/><polyline points="329.9,301.6 331.3,301.4 333.0,300.8 334.1,301.8 335.0,302.4 336.5,303.8 337.0,305.8 337.7,307.4 336.0,306.7 334.2,307.1 332.2,307.1 331.2,307.2 329.6,307.4"/><polyline points="329.5,305.5 330.4,305.1 332.2,305.2 334.1,305.8 332.2,306.1 330.5,306.6 329.5,306.3"/><polyline points="334.2,307.1 336.0,307.0 337.7,307.4 339.0,307.8 340.5,308.5 342.2,309.3 343.0,310.8 343.0,312.5 342.7,313.9 342.2,314.8 340.7,315.1 339.4,313.6 338.7,314.3 337.6,315.9"/><polyline points="332.2,309.6 334.2,308.5 334.2,307.1"/><polyline points="334.8,312.7 335.7,311.5 337.6,311.1 338.2,312.4 339.4,313.6"/><polyline points="342.2,314.8 343.3,316.3 343.7,317.6 343.7,319.7"/><polyline points="351.1,318.6 350.3,316.5 350.8,314.9 351.4,313.9 350.9,311.9 350.9,309.6"/><polyline points="343.0,310.8 345.0,310.9 346.0,310.3 346.8,310.5 348.0,310.5 350.1,311.2 350.9,311.9"/><polyline points="346.8,310.5 347.1,308.3 348.5,306.8 349.1,306.1 350.8,305.2 352.1,304.6 354.3,303.7 355.5,303.3 355.7,304.2 356.7,305.8 358.1,307.5 358.9,308.2 357.9,309.1 356.6,309.6 354.9,309.4 352.7,309.2 350.9,309.6"/><polyline points="357.0,317.3 356.0,316.6 356.0,315.0 355.2,313.5 355.5,311.9 355.2,310.3 355.2,309.4"/><polyline points="357.6,317.0 357.6,316.0 357.4,313.7 357.6,312.7 357.2,311.8 356.4,310.5 356.6,309.6"/><polyline points="359.3,316.6 359.4,314.3 359.5,312.7 360.5,311.1 360.7,310.3 360.7,308.5 358.9,308.2"/><polyline points="355.5,303.3 356.8,302.8 358.9,302.8 360.6,302.5 361.6,300.5 361.7,298.9 361.6,296.8 360.3,297.0"/><polyline points="373.6,289.6 372.4,288.7 370.4,287.9 369.5,286.6 369.7,284.6 369.5,282.7 370.4,281.1 369.7,279.8 369.7,278.2 370.8,276.7 372.1,275.0 372.8,274.1 372.8,272.8"/><polyline points="369.7,278.2 369.1,276.9 369.0,275.0 368.0,272.9 366.7,271.7 367.5,270.9 367.9,269.5 368.0,267.3 368.2,265.9"/><polyline points="373.6,289.6 375.3,289.7 376.2,289.8 378.2,290.4 379.7,289.6 391.9,296.2 391.9,295.3 393.5,295.3 393.4,293.3 393.5,292.1 393.5,275.7"/><polyline points="393.5,292.1 395.0,292.1 396.8,292.0 398.8,291.6 399.9,292.6 402.2,292.5 403.4,292.1 405.0,292.3 406.0,292.4 407.2,292.1 409.0,292.2 409.8,291.8 411.7,292.1"/><polyline points="378.2,290.4 378.1,292.5 378.9,293.7 378.7,295.3 379.0,296.6 379.2,299.0 378.9,300.3 378.2,302.0 376.7,302.5 375.9,304.1 375.9,305.4"/><polyline points="360.7,308.5 361.3,307.3 361.3,305.7 363.1,305.4 365.1,305.5 367.4,306.1 368.6,306.4 370.5,306.0 372.4,306.5 374.3,306.3 375.9,305.4"/><polyline points="375.9,305.4 376.9,307.4 377.5,308.8 376.4,309.8 375.6,311.1 375.0,312.5 374.3,313.4 374.0,314.6 372.8,316.0 371.3,315.9 369.7,316.8 369.3,317.8 368.4,319.1"/><polyline points="376.9,307.4 377.9,309.5 378.2,311.1 376.6,311.1 377.5,312.2 377.9,314.1 378.9,315.0 378.5,315.7 377.4,317.0 377.4,319.1 377.7,320.1 379.4,321.2 379.7,323.1 380.0,323.8"/><polyline points="391.9,296.2 392.3,297.7 392.0,299.2 391.8,300.8 391.9,302.2 390.3,302.5 389.4,304.2 389.5,304.9 388.9,306.9 389.1,307.9 390.3,309.6"/><polyline points="378.9,315.0 380.6,314.9 382.3,314.7 383.5,314.2 384.3,312.7 386.6,312.4 388.3,310.9 388.5,310.2 390.3,309.6 391.2,311.0 391.5,313.1 392.7,314.1 393.8,314.5 394.5,315.9 396.5,317.4 397.1,318.5"/><polyline points="383.7,321.1 383.7,319.7 385.0,318.6 386.1,319.2 387.3,319.9 389.6,320.2 390.9,319.9 392.7,318.6 394.5,318.8 395.4,318.8 397.1,318.5"/><polyline points="380.0,323.8 381.2,323.2 382.3,322.4 383.7,321.1"/><polyline points="370.2,322.9 372.5,323.1 374.2,323.0 375.6,323.1 377.1,323.6 378.6,324.1 380.0,323.8"/><polyline points="372.5,323.1 372.5,324.9 370.2,324.9"/><polyline points="375.6,323.1 377.4,324.3 376.9,326.2 377.4,327.2 377.2,328.6 376.5,330.1 374.3,329.9 372.8,330.8 373.1,332.3 372.3,332.5"/><polyline points="383.7,321.1 383.4,322.6 382.4,324.9 382.3,327.2 381.0,328.7 380.0,329.7 380.2,331.0 379.7,332.5 378.2,333.7 377.5,333.9 375.7,333.7 375.1,333.4 373.9,335.2"/><polyline points="373.9,335.4 375.4,335.4 376.6,335.0 378.4,335.5 380.6,335.4 380.7,336.3 381.2,337.8 383.0,337.8 384.9,338.6 385.8,337.1 387.6,337.7 388.6,337.5 388.6,339.0 388.4,340.6 388.4,342.6 388.6,343.5 390.8,343.6 391.9,343.2 392.3,344.3 391.9,346.3 390.0,346.2 388.9,346.3 388.5,347.9 389.4,350.1 388.9,351.4 390.5,352.2 391.0,353.6"/><polyline points="373.3,353.1 374.3,352.4 375.9,352.6 377.1,352.3 378.9,352.7 380.6,353.1 382.0,352.9 383.4,353.3 385.0,353.8 386.3,353.9 387.3,354.2 389.1,353.7 391.0,353.6 392.0,353.7 393.9,353.9"/><polyline points="387.3,354.2 387.5,355.5 387.7,357.9 387.7,359.4 387.3,360.7 385.8,360.7 385.8,361.9 385.6,364.1 385.8,365.4 386.3,366.5 385.3,368.3 385.6,370.1 385.8,371.5 384.1,372.1 383.0,372.4 381.8,372.2 380.5,371.8"/><polyline points="385.8,365.4 386.2,366.9 387.0,368.9 388.1,368.7 389.8,367.4 391.4,367.6 392.3,367.1 394.2,366.9 395.6,366.0 396.4,364.0 398.1,362.6 398.8,362.6 400.2,361.0"/><polyline points="393.9,353.9 395.3,354.6 396.5,354.2 397.2,352.6 399.0,351.8 399.4,350.9 401.7,350.4 403.1,350.8 404.4,352.1 405.6,352.2 406.0,354.4 405.4,355.8 404.9,358.1 404.9,359.6 403.5,360.4 403.1,361.4 402.1,360.9 400.2,361.0 398.8,359.7 397.6,358.3 396.4,357.4 395.9,355.6 395.3,354.5 393.9,353.9"/><polyline points="403.1,361.4 403.9,362.9 404.2,364.9 403.8,366.3 404.2,368.7 405.6,368.7"/><polyline points="391.9,343.2 394.1,344.2 396.0,344.5 396.8,344.2 398.7,345.6 399.7,346.6 400.8,347.0 400.8,345.1 398.7,344.8 399.3,343.3 399.0,340.9 399.4,339.4 400.9,338.9 402.3,338.9 404.0,340.4 405.6,340.8 406.2,342.9 406.4,344.8 406.4,346.1 406.0,347.9 404.7,348.8 402.8,349.3 401.7,349.5 401.7,350.4"/><polyline points="405.6,340.8 407.2,340.9 407.4,342.5 408.6,344.0 408.4,345.2 408.0,347.1 409.5,348.2 410.2,349.3 409.3,351.0 409.2,352.8 407.9,351.5 408.0,350.0 408.0,348.7 406.0,347.9"/><polyline points="408.6,344.0 410.1,343.7 412.6,344.3 414.3,343.3 415.3,343.4 417.0,342.5"/><polyline points="415.2,333.6 414.4,332.7 412.8,331.0 411.0,329.7 410.3,329.6 408.5,328.2 407.2,327.9"/><polyline points="407.2,327.9 407.1,326.1 404.9,326.1 403.9,327.6 403.8,328.6 403.9,330.2 405.7,330.7 407.1,329.4 407.2,327.9"/><polyline points="407.1,326.1 408.0,325.6 408.8,324.1 408.1,322.1 408.0,321.1 407.2,320.0 405.9,319.8 403.9,320.4 402.7,320.8 402.3,322.7 402.0,324.0 400.5,325.6 400.3,327.1 400.5,328.5 401.9,327.9 403.9,327.9"/><polyline points="400.5,328.5 399.9,330.7 399.6,331.8 400.1,333.1 401.4,332.1 402.3,331.4 402.4,329.3 401.9,327.9"/><polyline points="400.1,333.1 399.8,334.5 400.5,335.5 401.4,337.7 402.3,338.9"/><polyline points="407.2,320.0 408.3,320.1 410.3,319.7 412.0,320.2 413.4,320.9 415.7,321.2 416.4,321.0 418.0,320.5 419.3,320.5 418.0,322.1 418.2,323.9 417.9,326.0 418.0,327.6 418.7,329.0"/><polyline points="419.3,320.5 421.0,319.6 422.7,319.1 424.1,318.8 424.9,317.6 426.4,316.9 428.1,315.4 428.7,314.2 427.1,314.2 425.4,313.4 424.2,313.4 422.6,312.7 421.5,311.3 421.0,309.6 421.3,308.8"/><polyline points="414.3,298.6 413.6,299.2 411.8,300.2 411.9,301.7 411.1,303.3 411.1,304.4 410.6,305.7 410.0,307.3 409.1,308.0 408.0,308.9 407.6,310.2 407.4,311.9 407.1,312.6 405.7,314.2 407.2,315.7 407.8,316.9 408.8,318.0 408.3,319.2 407.2,320.0"/><polyline points="411.1,304.4 413.4,303.8 415.4,304.1 416.4,304.1 417.1,304.7 418.4,306.1 420.1,307.2 421.2,306.9"/><polyline points="391.5,313.1 392.0,311.9 393.5,310.7 395.1,310.7 396.8,311.3 397.9,311.7 399.6,311.6 401.6,311.3 402.7,311.4 403.9,310.0 404.8,308.5 405.7,307.7 406.0,310.0 407.4,311.9"/><polyline points="397.1,318.5 398.5,319.4 400.4,319.7 402.3,320.9 402.7,320.8"/><polyline points="396.5,373.6 397.1,372.5 398.8,372.0 400.2,373.6 399.1,374.9 398.4,375.3 397.4,374.0 396.5,373.6"/><polyline points="101.9,227.5 100.5,228.5 99.6,229.3"/><polyline points="98.0,229.8 96.5,231.1"/><polyline points="94.2,231.6 92.7,232.4"/><polyline points="90.4,232.9 88.1,233.1"/><polyline points="85.8,233.6 83.5,234.1"/><polyline points="82.0,234.3 80.4,234.8"/><polyline points="619.3,230.8 620.8,231.4"/><polyline points="626.6,233.4 628.4,234.1"/><polyline points="608.8,224.8 610.1,225.9"/><polyline points="92.4,199.7 94.0,199.7 95.0,200.4 96.8,201.1 95.0,201.8 94.0,200.6 92.4,199.7"/><polyline points="99.1,210.8 101.1,210.5 101.6,211.7 99.6,211.7 99.1,210.8"/><polyline points="118.7,217.9 120.3,217.5 121.8,217.3 122.2,219.1 120.9,220.4 119.8,220.7 119.7,219.8 118.7,217.9"/><polyline points="163.1,165.3 164.4,166.9 164.7,167.4 166.2,169.2 168.0,168.9 169.4,168.1 170.7,167.8 171.6,167.0 173.1,164.8 174.0,163.9 175.3,162.8 175.9,162.0 177.8,160.4 178.4,158.7 177.1,157.3 176.4,156.5 176.4,155.3 175.3,153.7 174.3,152.9 172.1,152.4 171.7,152.8 170.0,152.0 168.2,152.1 166.8,152.4 164.6,153.2 164.2,154.4 164.8,156.6 164.3,158.8 163.9,160.3 163.7,162.5 163.6,164.1 163.1,165.3"/><polyline points="175.3,172.5 176.9,173.2 177.8,174.5 178.4,175.8 180.2,176.6 180.7,178.3 182.2,178.5 184.3,179.5 185.5,180.2 186.8,180.8 188.6,180.4 189.8,180.6 191.6,180.5 192.7,180.2 194.5,179.5 196.1,179.0 197.0,178.3 198.0,177.2 199.8,177.0 199.1,175.1 198.3,174.2 198.3,172.5 197.0,171.5 195.2,170.2 194.8,168.9 195.3,167.4 194.5,165.8 194.5,164.0 194.5,162.8 193.1,162.0 192.6,160.9 191.4,159.2 189.5,159.6 188.4,160.1 186.8,161.3 185.1,160.8 183.7,160.7 182.3,159.9 180.7,159.2 179.4,160.0 177.9,159.7 177.2,161.1 175.3,161.3 174.4,162.4 173.9,164.5 173.2,165.3 173.0,167.3 173.6,168.1 173.9,169.8 174.4,170.6 175.3,172.5"/><polyline points="199.1,167.3 200.3,167.5 201.9,168.2 203.7,168.7 204.3,167.3 204.7,166.7 206.2,165.1 206.7,163.8 206.2,162.0 207.2,160.7 206.4,159.5 206.7,157.6 205.9,156.3 204.2,155.8 202.9,154.9 201.5,155.7 201.1,157.2 200.2,158.2 199.1,159.2 198.9,160.3 198.5,162.8 199.5,164.5 198.6,166.0 199.1,167.3"/><polyline points="209.0,165.3 210.2,165.2 212.1,165.3 212.9,164.5 214.7,163.2 215.4,162.0 216.7,160.3 216.4,158.7 216.9,156.7 216.7,155.4 215.3,154.4 214.4,154.0 212.8,153.7 211.2,154.6 210.4,156.1 209.0,157.1 209.0,159.1 209.3,160.1 209.1,161.7 208.7,163.3 209.0,165.3"/><polyline points="202.9,179.1 204.0,179.8 206.0,180.8 207.9,180.1 209.0,179.1 208.2,176.8 208.2,175.2 206.8,175.2 205.2,175.2 203.9,176.1 203.7,177.9 202.9,179.1"/><polyline points="232.7,156.5 233.8,157.2 235.5,157.3 237.3,157.6 238.1,159.3 238.9,161.3 240.1,162.4 240.3,163.9 241.5,165.6 241.9,166.3 243.5,167.2 244.7,168.1 245.8,168.7 247.4,170.4 248.3,170.8 249.3,172.2 250.3,173.4 250.8,175.3 251.6,176.9 252.6,178.3 251.9,179.3 251.3,180.8 250.3,181.6 252.2,182.7 253.2,182.5 254.2,183.3 255.5,184.3 257.0,185.2 257.5,185.8 258.8,187.3 259.9,188.1 261.1,188.8 260.3,189.8 260.0,191.1 259.5,193.0 258.0,193.8 257.2,194.8 255.9,193.3 254.9,191.9 253.8,190.6 252.6,189.6 252.0,190.6 252.2,193.1 251.9,194.1 252.7,194.9 253.7,196.3 254.9,197.0 255.2,198.9 254.9,199.8 255.7,201.8 254.2,203.0 253.4,204.4 251.8,203.7 250.3,203.1 251.2,201.4 251.1,199.7 249.7,200.9 248.2,201.2 246.5,201.8 246.1,200.5 244.5,200.0 244.2,198.4 242.7,197.6 241.2,196.6 239.2,197.1 238.0,197.2 236.6,197.3 235.9,196.5 235.8,194.8 237.2,194.1 239.3,193.5 240.4,193.4 240.9,192.0 242.5,190.2 242.7,189.2 242.6,188.1 242.6,186.2 243.6,185.0 243.5,183.3 242.6,182.0 241.6,181.5 240.4,180.8 238.9,180.0 238.3,178.6 236.7,177.0 236.0,175.6 235.0,174.7 234.3,172.5 232.4,173.9 231.3,175.0 229.7,175.6 227.8,175.3 226.6,174.6 225.1,174.7 223.3,174.1 222.0,172.5 220.7,171.3 219.0,170.2 218.6,169.0 218.4,167.1 217.4,165.3 217.3,164.1 217.8,161.7 218.2,160.4 219.0,158.7 220.6,157.7 222.0,156.5 223.6,156.0 224.9,157.1 225.9,158.1 226.9,158.0 228.9,157.5 229.7,156.5 231.7,156.0 232.7,156.5"/><polyline points="232.0,156.5 233.6,156.5 235.3,156.8 237.3,156.5 238.0,157.5 237.8,159.9 238.1,160.8 237.0,160.9 234.6,161.1 233.5,161.3 233.0,160.0 232.1,157.9 232.0,156.5"/><polyline points="207.5,149.1 209.4,149.1 210.4,149.6 211.9,150.5 213.5,150.7 214.4,151.5 216.3,151.3 216.9,151.3 218.5,151.8 220.5,152.0 222.5,151.9 223.8,151.5 225.1,152.1 226.6,152.0 227.7,152.0 229.6,151.6 231.6,151.8 232.7,151.5 232.3,149.3 232.2,147.7 232.7,146.1 232.1,145.4 231.7,144.0 230.0,142.7 229.7,141.1 228.4,140.9 227.2,140.9 224.7,140.3 223.6,140.5 221.4,140.4 220.1,140.4 218.2,139.8 215.7,138.9 214.4,139.1 213.4,139.0 211.0,139.9 209.4,140.0 208.2,139.8 208.6,141.4 208.1,142.4 208.0,144.6 208.0,146.0 207.2,147.3 207.5,149.1"/><polyline points="208.2,149.1 209.9,149.6 211.3,150.9 211.1,149.2 212.1,148.2 212.1,146.7 210.4,146.6 209.0,145.5 208.7,147.0 208.2,149.1"/><polyline points="196.0,146.1 197.6,147.3 198.9,147.6 200.7,148.9 202.1,149.1 203.6,147.8 204.8,146.9 206.0,146.1 205.7,144.6 205.0,142.6 205.2,141.0 205.2,139.1 204.0,138.9 202.3,138.5 200.6,138.5 199.2,139.3 198.3,139.8 197.4,140.9 196.0,141.7 195.8,142.9 196.4,145.1 196.0,146.1"/><polyline points="176.1,147.9 177.8,148.6 178.1,150.0 179.3,151.1 181.2,151.5 182.2,152.6 183.7,152.1 184.9,151.1 187.1,150.7 188.4,149.4 189.9,149.1 190.8,147.9 191.9,147.3 193.7,146.1 193.4,145.0 192.9,143.0 191.9,142.2 190.6,140.4 189.3,139.1 188.3,137.8 187.3,138.6 184.7,139.3 183.4,140.4 182.2,141.1 180.4,140.6 179.1,140.5 176.9,139.8 176.3,140.9 176.8,143.2 176.6,144.7 175.7,146.3 176.1,147.9"/><polyline points="166.9,141.7 168.8,142.5 169.5,142.6 172.0,143.7 173.0,144.3 173.6,143.3 175.3,142.4 176.0,141.1 176.3,139.6 177.6,138.5 177.2,137.1 175.7,136.5 175.6,134.4 174.6,133.7 172.6,134.7 172.0,135.7 170.0,136.5 169.6,137.4 168.5,138.8 167.5,140.0 166.9,141.7"/><polyline points="194.5,125.6 195.7,126.2 197.1,127.9 198.6,129.1 198.9,130.2 200.6,130.9 201.3,130.0 201.8,127.7 202.7,126.4 203.6,125.5 203.7,124.1 202.9,123.1 201.0,122.3 200.2,121.2 198.5,120.1 197.5,119.3 197.0,120.6 195.6,122.4 195.4,123.6 194.5,125.6"/><polyline points="206.0,123.3 206.3,125.3 206.9,126.6 207.6,127.4 208.4,129.7 209.0,130.9 210.3,129.1 211.2,128.4 211.9,127.1 212.8,125.6 211.7,123.9 210.8,122.5 209.2,121.9 208.2,120.1 207.2,121.7 206.0,123.3"/><polyline points="182.2,127.2 183.6,128.3 184.4,129.4 185.1,130.3 186.8,131.6 186.5,130.6 187.6,128.8 187.0,127.5 187.6,125.6 186.1,125.2 185.2,124.2 183.8,123.3 183.5,124.3 183.1,125.9 182.2,127.2"/><polyline points="222.0,193.0 223.8,192.6 225.1,191.5 227.4,191.5 228.1,192.7 229.1,193.6 230.7,195.5 231.2,196.6 231.6,198.1 232.0,199.4 230.5,198.4 228.1,198.4 226.7,199.4 225.6,200.0 224.3,200.8 222.9,199.8 222.0,199.4 223.0,197.5 223.6,195.9 223.3,194.9 222.0,193.0"/><polyline points="228.1,202.5 230.4,202.1 232.1,203.0 232.7,204.4 231.2,204.0 229.7,204.4 228.8,203.0 228.1,202.5"/><polyline points="232.7,204.1 233.8,205.7"/><polyline points="236.6,183.3 238.1,183.2 239.6,182.1 239.7,183.3 238.9,185.2 238.9,186.1 237.2,185.1 236.6,183.3"/><polyline points="256.5,238.4 258.3,238.6 259.8,239.9 260.8,240.3 258.8,239.9 257.5,239.1 256.5,238.4"/><polyline points="256.8,245.6 258.7,246.0 260.3,246.5 258.8,247.3 258.2,246.9 256.8,245.6"/><polyline points="229.7,230.6 231.5,231.6"/><polyline points="232.7,220.2 233.3,220.6 234.3,222.1"/></g><rect x="78.72" y="78.72" width="552.9599999999999" height="495.36" fill="none" stroke="#000" stroke-width="1"/><g font-family="'Liberation Sans', sans-serif" font-size="16" fill="#000"><path d="M80.18 574.08H630.22" stroke="#000" stroke-width="1"/><path d="M80.18 574.08v9.6" stroke="#000" stroke-width="1"/><text x="80.18" y="608.64" text-anchor="middle">-2e+07</text><path d="M217.69 574.08v9.6" stroke="#000" stroke-width="1"/><text x="217.69" y="608.64" text-anchor="middle">-1e+07</text><path d="M355.20 574.08v9.6" stroke="#000" stroke-width="1"/><text x="355.20" y="608.64" text-anchor="middle">0e+00</text><path d="M492.71 574.08v9.6" stroke="#000" stroke-width="1"/><text x="492.71" y="608.64" text-anchor="middle">1e+07</text><path d="M630.22 574.08v9.6" stroke="#000" stroke-width="1"/><text x="630.22" y="608.64" text-anchor="middle">2e+07</text><path d="M78.72 532.66V120.14" stroke="#000" stroke-width="1"/><path d="M78.72 463.91h-9.6" stroke="#000" stroke-width="1"/><path d="M78.72 326.40h-9.6" stroke="#000" stroke-width="1"/><path d="M78.72 188.89h-9.6" stroke="#000" stroke-width="1"/><path d="M78.72 532.66h-9.6" stroke="#000" stroke-width="1"/><text transform="translate(55.68 532.66) rotate(-90)" text-anchor="middle">-1.5e+07</text><path d="M78.72 395.16h-9.6" stroke="#000" stroke-width="1"/><text transform="translate(55.68 395.16) rotate(-90)" text-anchor="middle">-5.0e+06</text><path d="M78.72 257.65h-9.6" stroke="#000" stroke-width="1"/><text transform="translate(55.68 257.65) rotate(-90)" text-anchor="middle">5.0e+06</text><path d="M78.72 120.14h-9.6" stroke="#000" stroke-width="1"/><text transform="translate(55.68 120.14) rotate(-90)" text-anchor="middle">1.5e+07</text></g></svg></body></html>
